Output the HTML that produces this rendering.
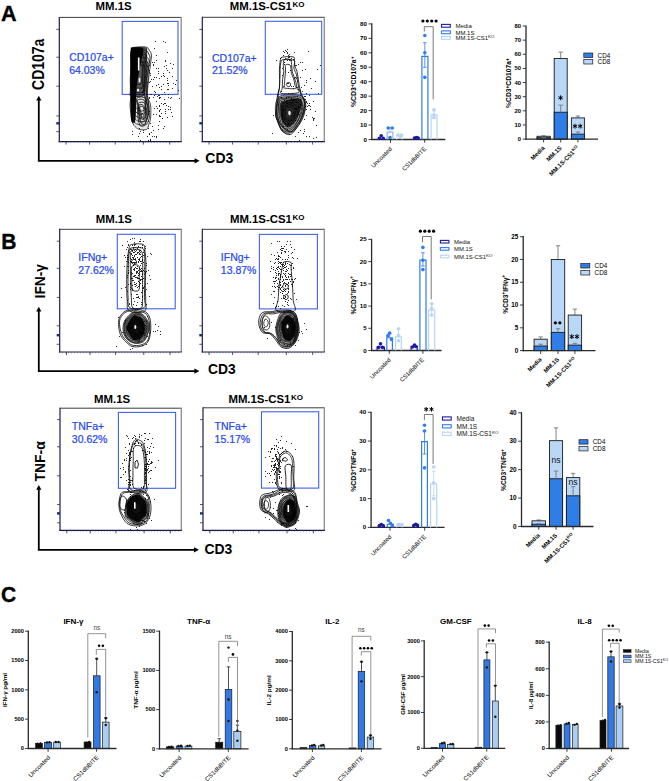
<!DOCTYPE html>
<html><head><meta charset="utf-8"><title>Figure</title>
<style>
html,body{margin:0;padding:0;background:#fff;width:669px;height:781px;overflow:hidden}
svg{display:block}
text{font-family:"Liberation Sans",sans-serif}
</style></head><body>
<svg width="669" height="781" viewBox="0 0 669 781" font-family="Liberation Sans, sans-serif">
<rect x="0" y="0" width="669" height="781" fill="#fff"/>
<text x="1.00" y="20.80" font-size="22.4" font-weight="bold" fill="#000" text-anchor="start" textLength="15.60" lengthAdjust="spacingAndGlyphs" stroke="#000" stroke-width="0.35">A</text>
<text x="1.20" y="248.80" font-size="22.3" font-weight="bold" fill="#000" text-anchor="start" textLength="15.20" lengthAdjust="spacingAndGlyphs" stroke="#000" stroke-width="0.35">B</text>
<text x="0.90" y="602.30" font-size="22.5" font-weight="bold" fill="#000" text-anchor="start" textLength="15.20" lengthAdjust="spacingAndGlyphs" stroke="#000" stroke-width="0.35">C</text>
<line x1="59.30" y1="17.40" x2="181.20" y2="17.40" stroke="#3c3c3c" stroke-width="1.0"/>
<line x1="181.20" y1="16.90" x2="181.20" y2="141.60" stroke="#8c8c8c" stroke-width="1.3"/>
<line x1="59.30" y1="16.90" x2="59.30" y2="142.20" stroke="#1c1c4c" stroke-width="1.2"/>
<line x1="58.70" y1="141.60" x2="181.80" y2="141.60" stroke="#1c1c4c" stroke-width="1.2"/>
<line x1="56.30" y1="29.40" x2="59.30" y2="29.40" stroke="#2b2b55" stroke-width="0.8"/>
<line x1="56.30" y1="57.20" x2="59.30" y2="57.20" stroke="#2b2b55" stroke-width="0.8"/>
<line x1="56.30" y1="86.20" x2="59.30" y2="86.20" stroke="#2b2b55" stroke-width="0.8"/>
<line x1="56.30" y1="115.90" x2="59.30" y2="115.90" stroke="#2b2b55" stroke-width="0.8"/>
<line x1="56.30" y1="131.60" x2="59.30" y2="131.60" stroke="#2b2b55" stroke-width="0.8"/>
<rect x="56.30" y="122.10" width="3.00" height="2.40" fill="#1a2a80" stroke="none" stroke-width="1"/>
<line x1="66.10" y1="141.60" x2="66.10" y2="144.60" stroke="#2b2b55" stroke-width="0.8"/>
<line x1="89.60" y1="141.60" x2="89.60" y2="144.60" stroke="#2b2b55" stroke-width="0.8"/>
<line x1="115.20" y1="141.60" x2="115.20" y2="144.60" stroke="#2b2b55" stroke-width="0.8"/>
<line x1="143.40" y1="141.60" x2="143.40" y2="144.60" stroke="#2b2b55" stroke-width="0.8"/>
<line x1="169.70" y1="141.60" x2="169.70" y2="144.60" stroke="#2b2b55" stroke-width="0.8"/>
<line x1="62.30" y1="141.60" x2="62.30" y2="142.90" stroke="#2b2b55" stroke-width="0.4"/>
<line x1="65.27" y1="141.60" x2="65.27" y2="142.90" stroke="#2b2b55" stroke-width="0.4"/>
<line x1="68.24" y1="141.60" x2="68.24" y2="142.90" stroke="#2b2b55" stroke-width="0.4"/>
<line x1="71.22" y1="141.60" x2="71.22" y2="142.90" stroke="#2b2b55" stroke-width="0.4"/>
<line x1="74.19" y1="141.60" x2="74.19" y2="142.90" stroke="#2b2b55" stroke-width="0.4"/>
<line x1="77.16" y1="141.60" x2="77.16" y2="142.90" stroke="#2b2b55" stroke-width="0.4"/>
<line x1="80.13" y1="141.60" x2="80.13" y2="142.90" stroke="#2b2b55" stroke-width="0.4"/>
<line x1="83.10" y1="141.60" x2="83.10" y2="142.90" stroke="#2b2b55" stroke-width="0.4"/>
<line x1="86.07" y1="141.60" x2="86.07" y2="142.90" stroke="#2b2b55" stroke-width="0.4"/>
<line x1="89.05" y1="141.60" x2="89.05" y2="142.90" stroke="#2b2b55" stroke-width="0.4"/>
<line x1="92.02" y1="141.60" x2="92.02" y2="142.90" stroke="#2b2b55" stroke-width="0.4"/>
<line x1="94.99" y1="141.60" x2="94.99" y2="142.90" stroke="#2b2b55" stroke-width="0.4"/>
<line x1="97.96" y1="141.60" x2="97.96" y2="142.90" stroke="#2b2b55" stroke-width="0.4"/>
<line x1="100.93" y1="141.60" x2="100.93" y2="142.90" stroke="#2b2b55" stroke-width="0.4"/>
<line x1="103.91" y1="141.60" x2="103.91" y2="142.90" stroke="#2b2b55" stroke-width="0.4"/>
<line x1="106.88" y1="141.60" x2="106.88" y2="142.90" stroke="#2b2b55" stroke-width="0.4"/>
<line x1="109.85" y1="141.60" x2="109.85" y2="142.90" stroke="#2b2b55" stroke-width="0.4"/>
<line x1="112.82" y1="141.60" x2="112.82" y2="142.90" stroke="#2b2b55" stroke-width="0.4"/>
<line x1="115.79" y1="141.60" x2="115.79" y2="142.90" stroke="#2b2b55" stroke-width="0.4"/>
<line x1="118.76" y1="141.60" x2="118.76" y2="142.90" stroke="#2b2b55" stroke-width="0.4"/>
<line x1="121.74" y1="141.60" x2="121.74" y2="142.90" stroke="#2b2b55" stroke-width="0.4"/>
<line x1="124.71" y1="141.60" x2="124.71" y2="142.90" stroke="#2b2b55" stroke-width="0.4"/>
<line x1="127.68" y1="141.60" x2="127.68" y2="142.90" stroke="#2b2b55" stroke-width="0.4"/>
<line x1="130.65" y1="141.60" x2="130.65" y2="142.90" stroke="#2b2b55" stroke-width="0.4"/>
<line x1="133.62" y1="141.60" x2="133.62" y2="142.90" stroke="#2b2b55" stroke-width="0.4"/>
<line x1="136.59" y1="141.60" x2="136.59" y2="142.90" stroke="#2b2b55" stroke-width="0.4"/>
<line x1="139.57" y1="141.60" x2="139.57" y2="142.90" stroke="#2b2b55" stroke-width="0.4"/>
<line x1="142.54" y1="141.60" x2="142.54" y2="142.90" stroke="#2b2b55" stroke-width="0.4"/>
<line x1="145.51" y1="141.60" x2="145.51" y2="142.90" stroke="#2b2b55" stroke-width="0.4"/>
<line x1="148.48" y1="141.60" x2="148.48" y2="142.90" stroke="#2b2b55" stroke-width="0.4"/>
<line x1="151.45" y1="141.60" x2="151.45" y2="142.90" stroke="#2b2b55" stroke-width="0.4"/>
<line x1="154.43" y1="141.60" x2="154.43" y2="142.90" stroke="#2b2b55" stroke-width="0.4"/>
<line x1="157.40" y1="141.60" x2="157.40" y2="142.90" stroke="#2b2b55" stroke-width="0.4"/>
<line x1="160.37" y1="141.60" x2="160.37" y2="142.90" stroke="#2b2b55" stroke-width="0.4"/>
<line x1="163.34" y1="141.60" x2="163.34" y2="142.90" stroke="#2b2b55" stroke-width="0.4"/>
<line x1="166.31" y1="141.60" x2="166.31" y2="142.90" stroke="#2b2b55" stroke-width="0.4"/>
<line x1="169.28" y1="141.60" x2="169.28" y2="142.90" stroke="#2b2b55" stroke-width="0.4"/>
<line x1="172.26" y1="141.60" x2="172.26" y2="142.90" stroke="#2b2b55" stroke-width="0.4"/>
<line x1="175.23" y1="141.60" x2="175.23" y2="142.90" stroke="#2b2b55" stroke-width="0.4"/>
<line x1="178.20" y1="141.60" x2="178.20" y2="142.90" stroke="#2b2b55" stroke-width="0.4"/>
<line x1="202.30" y1="17.30" x2="324.30" y2="17.30" stroke="#3c3c3c" stroke-width="1.0"/>
<line x1="324.30" y1="16.80" x2="324.30" y2="141.60" stroke="#8c8c8c" stroke-width="1.3"/>
<line x1="202.30" y1="16.80" x2="202.30" y2="142.20" stroke="#1c1c4c" stroke-width="1.2"/>
<line x1="201.70" y1="141.60" x2="324.90" y2="141.60" stroke="#1c1c4c" stroke-width="1.2"/>
<line x1="199.30" y1="29.40" x2="202.30" y2="29.40" stroke="#2b2b55" stroke-width="0.8"/>
<line x1="199.30" y1="57.20" x2="202.30" y2="57.20" stroke="#2b2b55" stroke-width="0.8"/>
<line x1="199.30" y1="86.20" x2="202.30" y2="86.20" stroke="#2b2b55" stroke-width="0.8"/>
<line x1="199.30" y1="115.90" x2="202.30" y2="115.90" stroke="#2b2b55" stroke-width="0.8"/>
<line x1="199.30" y1="131.60" x2="202.30" y2="131.60" stroke="#2b2b55" stroke-width="0.8"/>
<rect x="199.30" y="122.10" width="3.00" height="2.40" fill="#1a2a80" stroke="none" stroke-width="1"/>
<line x1="209.10" y1="141.60" x2="209.10" y2="144.60" stroke="#2b2b55" stroke-width="0.8"/>
<line x1="232.60" y1="141.60" x2="232.60" y2="144.60" stroke="#2b2b55" stroke-width="0.8"/>
<line x1="258.20" y1="141.60" x2="258.20" y2="144.60" stroke="#2b2b55" stroke-width="0.8"/>
<line x1="286.40" y1="141.60" x2="286.40" y2="144.60" stroke="#2b2b55" stroke-width="0.8"/>
<line x1="312.70" y1="141.60" x2="312.70" y2="144.60" stroke="#2b2b55" stroke-width="0.8"/>
<line x1="205.30" y1="141.60" x2="205.30" y2="142.90" stroke="#2b2b55" stroke-width="0.4"/>
<line x1="208.27" y1="141.60" x2="208.27" y2="142.90" stroke="#2b2b55" stroke-width="0.4"/>
<line x1="211.25" y1="141.60" x2="211.25" y2="142.90" stroke="#2b2b55" stroke-width="0.4"/>
<line x1="214.22" y1="141.60" x2="214.22" y2="142.90" stroke="#2b2b55" stroke-width="0.4"/>
<line x1="217.20" y1="141.60" x2="217.20" y2="142.90" stroke="#2b2b55" stroke-width="0.4"/>
<line x1="220.17" y1="141.60" x2="220.17" y2="142.90" stroke="#2b2b55" stroke-width="0.4"/>
<line x1="223.15" y1="141.60" x2="223.15" y2="142.90" stroke="#2b2b55" stroke-width="0.4"/>
<line x1="226.12" y1="141.60" x2="226.12" y2="142.90" stroke="#2b2b55" stroke-width="0.4"/>
<line x1="229.09" y1="141.60" x2="229.09" y2="142.90" stroke="#2b2b55" stroke-width="0.4"/>
<line x1="232.07" y1="141.60" x2="232.07" y2="142.90" stroke="#2b2b55" stroke-width="0.4"/>
<line x1="235.04" y1="141.60" x2="235.04" y2="142.90" stroke="#2b2b55" stroke-width="0.4"/>
<line x1="238.02" y1="141.60" x2="238.02" y2="142.90" stroke="#2b2b55" stroke-width="0.4"/>
<line x1="240.99" y1="141.60" x2="240.99" y2="142.90" stroke="#2b2b55" stroke-width="0.4"/>
<line x1="243.97" y1="141.60" x2="243.97" y2="142.90" stroke="#2b2b55" stroke-width="0.4"/>
<line x1="246.94" y1="141.60" x2="246.94" y2="142.90" stroke="#2b2b55" stroke-width="0.4"/>
<line x1="249.92" y1="141.60" x2="249.92" y2="142.90" stroke="#2b2b55" stroke-width="0.4"/>
<line x1="252.89" y1="141.60" x2="252.89" y2="142.90" stroke="#2b2b55" stroke-width="0.4"/>
<line x1="255.86" y1="141.60" x2="255.86" y2="142.90" stroke="#2b2b55" stroke-width="0.4"/>
<line x1="258.84" y1="141.60" x2="258.84" y2="142.90" stroke="#2b2b55" stroke-width="0.4"/>
<line x1="261.81" y1="141.60" x2="261.81" y2="142.90" stroke="#2b2b55" stroke-width="0.4"/>
<line x1="264.79" y1="141.60" x2="264.79" y2="142.90" stroke="#2b2b55" stroke-width="0.4"/>
<line x1="267.76" y1="141.60" x2="267.76" y2="142.90" stroke="#2b2b55" stroke-width="0.4"/>
<line x1="270.74" y1="141.60" x2="270.74" y2="142.90" stroke="#2b2b55" stroke-width="0.4"/>
<line x1="273.71" y1="141.60" x2="273.71" y2="142.90" stroke="#2b2b55" stroke-width="0.4"/>
<line x1="276.68" y1="141.60" x2="276.68" y2="142.90" stroke="#2b2b55" stroke-width="0.4"/>
<line x1="279.66" y1="141.60" x2="279.66" y2="142.90" stroke="#2b2b55" stroke-width="0.4"/>
<line x1="282.63" y1="141.60" x2="282.63" y2="142.90" stroke="#2b2b55" stroke-width="0.4"/>
<line x1="285.61" y1="141.60" x2="285.61" y2="142.90" stroke="#2b2b55" stroke-width="0.4"/>
<line x1="288.58" y1="141.60" x2="288.58" y2="142.90" stroke="#2b2b55" stroke-width="0.4"/>
<line x1="291.56" y1="141.60" x2="291.56" y2="142.90" stroke="#2b2b55" stroke-width="0.4"/>
<line x1="294.53" y1="141.60" x2="294.53" y2="142.90" stroke="#2b2b55" stroke-width="0.4"/>
<line x1="297.51" y1="141.60" x2="297.51" y2="142.90" stroke="#2b2b55" stroke-width="0.4"/>
<line x1="300.48" y1="141.60" x2="300.48" y2="142.90" stroke="#2b2b55" stroke-width="0.4"/>
<line x1="303.45" y1="141.60" x2="303.45" y2="142.90" stroke="#2b2b55" stroke-width="0.4"/>
<line x1="306.43" y1="141.60" x2="306.43" y2="142.90" stroke="#2b2b55" stroke-width="0.4"/>
<line x1="309.40" y1="141.60" x2="309.40" y2="142.90" stroke="#2b2b55" stroke-width="0.4"/>
<line x1="312.38" y1="141.60" x2="312.38" y2="142.90" stroke="#2b2b55" stroke-width="0.4"/>
<line x1="315.35" y1="141.60" x2="315.35" y2="142.90" stroke="#2b2b55" stroke-width="0.4"/>
<line x1="318.33" y1="141.60" x2="318.33" y2="142.90" stroke="#2b2b55" stroke-width="0.4"/>
<line x1="321.30" y1="141.60" x2="321.30" y2="142.90" stroke="#2b2b55" stroke-width="0.4"/>
<line x1="59.70" y1="229.30" x2="181.30" y2="229.30" stroke="#3c3c3c" stroke-width="1.0"/>
<line x1="181.30" y1="228.80" x2="181.30" y2="352.00" stroke="#8c8c8c" stroke-width="1.3"/>
<line x1="59.70" y1="228.80" x2="59.70" y2="352.60" stroke="#1c1c4c" stroke-width="1.2"/>
<line x1="59.10" y1="352.00" x2="181.90" y2="352.00" stroke="#1c1c4c" stroke-width="1.2"/>
<line x1="56.70" y1="241.20" x2="59.70" y2="241.20" stroke="#2b2b55" stroke-width="0.8"/>
<line x1="56.70" y1="268.30" x2="59.70" y2="268.30" stroke="#2b2b55" stroke-width="0.8"/>
<line x1="56.70" y1="297.40" x2="59.70" y2="297.40" stroke="#2b2b55" stroke-width="0.8"/>
<line x1="56.70" y1="325.80" x2="59.70" y2="325.80" stroke="#2b2b55" stroke-width="0.8"/>
<line x1="56.70" y1="344.30" x2="59.70" y2="344.30" stroke="#2b2b55" stroke-width="0.8"/>
<rect x="56.70" y="334.00" width="3.00" height="2.40" fill="#1a2a80" stroke="none" stroke-width="1"/>
<line x1="66.50" y1="352.00" x2="66.50" y2="355.00" stroke="#2b2b55" stroke-width="0.8"/>
<line x1="90.00" y1="352.00" x2="90.00" y2="355.00" stroke="#2b2b55" stroke-width="0.8"/>
<line x1="115.60" y1="352.00" x2="115.60" y2="355.00" stroke="#2b2b55" stroke-width="0.8"/>
<line x1="143.80" y1="352.00" x2="143.80" y2="355.00" stroke="#2b2b55" stroke-width="0.8"/>
<line x1="170.10" y1="352.00" x2="170.10" y2="355.00" stroke="#2b2b55" stroke-width="0.8"/>
<line x1="62.70" y1="352.00" x2="62.70" y2="353.30" stroke="#2b2b55" stroke-width="0.4"/>
<line x1="65.66" y1="352.00" x2="65.66" y2="353.30" stroke="#2b2b55" stroke-width="0.4"/>
<line x1="68.63" y1="352.00" x2="68.63" y2="353.30" stroke="#2b2b55" stroke-width="0.4"/>
<line x1="71.59" y1="352.00" x2="71.59" y2="353.30" stroke="#2b2b55" stroke-width="0.4"/>
<line x1="74.56" y1="352.00" x2="74.56" y2="353.30" stroke="#2b2b55" stroke-width="0.4"/>
<line x1="77.52" y1="352.00" x2="77.52" y2="353.30" stroke="#2b2b55" stroke-width="0.4"/>
<line x1="80.48" y1="352.00" x2="80.48" y2="353.30" stroke="#2b2b55" stroke-width="0.4"/>
<line x1="83.45" y1="352.00" x2="83.45" y2="353.30" stroke="#2b2b55" stroke-width="0.4"/>
<line x1="86.41" y1="352.00" x2="86.41" y2="353.30" stroke="#2b2b55" stroke-width="0.4"/>
<line x1="89.38" y1="352.00" x2="89.38" y2="353.30" stroke="#2b2b55" stroke-width="0.4"/>
<line x1="92.34" y1="352.00" x2="92.34" y2="353.30" stroke="#2b2b55" stroke-width="0.4"/>
<line x1="95.31" y1="352.00" x2="95.31" y2="353.30" stroke="#2b2b55" stroke-width="0.4"/>
<line x1="98.27" y1="352.00" x2="98.27" y2="353.30" stroke="#2b2b55" stroke-width="0.4"/>
<line x1="101.23" y1="352.00" x2="101.23" y2="353.30" stroke="#2b2b55" stroke-width="0.4"/>
<line x1="104.20" y1="352.00" x2="104.20" y2="353.30" stroke="#2b2b55" stroke-width="0.4"/>
<line x1="107.16" y1="352.00" x2="107.16" y2="353.30" stroke="#2b2b55" stroke-width="0.4"/>
<line x1="110.13" y1="352.00" x2="110.13" y2="353.30" stroke="#2b2b55" stroke-width="0.4"/>
<line x1="113.09" y1="352.00" x2="113.09" y2="353.30" stroke="#2b2b55" stroke-width="0.4"/>
<line x1="116.05" y1="352.00" x2="116.05" y2="353.30" stroke="#2b2b55" stroke-width="0.4"/>
<line x1="119.02" y1="352.00" x2="119.02" y2="353.30" stroke="#2b2b55" stroke-width="0.4"/>
<line x1="121.98" y1="352.00" x2="121.98" y2="353.30" stroke="#2b2b55" stroke-width="0.4"/>
<line x1="124.95" y1="352.00" x2="124.95" y2="353.30" stroke="#2b2b55" stroke-width="0.4"/>
<line x1="127.91" y1="352.00" x2="127.91" y2="353.30" stroke="#2b2b55" stroke-width="0.4"/>
<line x1="130.87" y1="352.00" x2="130.87" y2="353.30" stroke="#2b2b55" stroke-width="0.4"/>
<line x1="133.84" y1="352.00" x2="133.84" y2="353.30" stroke="#2b2b55" stroke-width="0.4"/>
<line x1="136.80" y1="352.00" x2="136.80" y2="353.30" stroke="#2b2b55" stroke-width="0.4"/>
<line x1="139.77" y1="352.00" x2="139.77" y2="353.30" stroke="#2b2b55" stroke-width="0.4"/>
<line x1="142.73" y1="352.00" x2="142.73" y2="353.30" stroke="#2b2b55" stroke-width="0.4"/>
<line x1="145.69" y1="352.00" x2="145.69" y2="353.30" stroke="#2b2b55" stroke-width="0.4"/>
<line x1="148.66" y1="352.00" x2="148.66" y2="353.30" stroke="#2b2b55" stroke-width="0.4"/>
<line x1="151.62" y1="352.00" x2="151.62" y2="353.30" stroke="#2b2b55" stroke-width="0.4"/>
<line x1="154.59" y1="352.00" x2="154.59" y2="353.30" stroke="#2b2b55" stroke-width="0.4"/>
<line x1="157.55" y1="352.00" x2="157.55" y2="353.30" stroke="#2b2b55" stroke-width="0.4"/>
<line x1="160.52" y1="352.00" x2="160.52" y2="353.30" stroke="#2b2b55" stroke-width="0.4"/>
<line x1="163.48" y1="352.00" x2="163.48" y2="353.30" stroke="#2b2b55" stroke-width="0.4"/>
<line x1="166.44" y1="352.00" x2="166.44" y2="353.30" stroke="#2b2b55" stroke-width="0.4"/>
<line x1="169.41" y1="352.00" x2="169.41" y2="353.30" stroke="#2b2b55" stroke-width="0.4"/>
<line x1="172.37" y1="352.00" x2="172.37" y2="353.30" stroke="#2b2b55" stroke-width="0.4"/>
<line x1="175.34" y1="352.00" x2="175.34" y2="353.30" stroke="#2b2b55" stroke-width="0.4"/>
<line x1="178.30" y1="352.00" x2="178.30" y2="353.30" stroke="#2b2b55" stroke-width="0.4"/>
<line x1="202.30" y1="229.30" x2="324.30" y2="229.30" stroke="#3c3c3c" stroke-width="1.0"/>
<line x1="324.30" y1="228.80" x2="324.30" y2="352.00" stroke="#8c8c8c" stroke-width="1.3"/>
<line x1="202.30" y1="228.80" x2="202.30" y2="352.60" stroke="#1c1c4c" stroke-width="1.2"/>
<line x1="201.70" y1="352.00" x2="324.90" y2="352.00" stroke="#1c1c4c" stroke-width="1.2"/>
<line x1="199.30" y1="241.20" x2="202.30" y2="241.20" stroke="#2b2b55" stroke-width="0.8"/>
<line x1="199.30" y1="268.30" x2="202.30" y2="268.30" stroke="#2b2b55" stroke-width="0.8"/>
<line x1="199.30" y1="297.40" x2="202.30" y2="297.40" stroke="#2b2b55" stroke-width="0.8"/>
<line x1="199.30" y1="325.80" x2="202.30" y2="325.80" stroke="#2b2b55" stroke-width="0.8"/>
<line x1="199.30" y1="344.30" x2="202.30" y2="344.30" stroke="#2b2b55" stroke-width="0.8"/>
<rect x="199.30" y="334.00" width="3.00" height="2.40" fill="#1a2a80" stroke="none" stroke-width="1"/>
<line x1="209.10" y1="352.00" x2="209.10" y2="355.00" stroke="#2b2b55" stroke-width="0.8"/>
<line x1="232.60" y1="352.00" x2="232.60" y2="355.00" stroke="#2b2b55" stroke-width="0.8"/>
<line x1="258.20" y1="352.00" x2="258.20" y2="355.00" stroke="#2b2b55" stroke-width="0.8"/>
<line x1="286.40" y1="352.00" x2="286.40" y2="355.00" stroke="#2b2b55" stroke-width="0.8"/>
<line x1="312.70" y1="352.00" x2="312.70" y2="355.00" stroke="#2b2b55" stroke-width="0.8"/>
<line x1="205.30" y1="352.00" x2="205.30" y2="353.30" stroke="#2b2b55" stroke-width="0.4"/>
<line x1="208.27" y1="352.00" x2="208.27" y2="353.30" stroke="#2b2b55" stroke-width="0.4"/>
<line x1="211.25" y1="352.00" x2="211.25" y2="353.30" stroke="#2b2b55" stroke-width="0.4"/>
<line x1="214.22" y1="352.00" x2="214.22" y2="353.30" stroke="#2b2b55" stroke-width="0.4"/>
<line x1="217.20" y1="352.00" x2="217.20" y2="353.30" stroke="#2b2b55" stroke-width="0.4"/>
<line x1="220.17" y1="352.00" x2="220.17" y2="353.30" stroke="#2b2b55" stroke-width="0.4"/>
<line x1="223.15" y1="352.00" x2="223.15" y2="353.30" stroke="#2b2b55" stroke-width="0.4"/>
<line x1="226.12" y1="352.00" x2="226.12" y2="353.30" stroke="#2b2b55" stroke-width="0.4"/>
<line x1="229.09" y1="352.00" x2="229.09" y2="353.30" stroke="#2b2b55" stroke-width="0.4"/>
<line x1="232.07" y1="352.00" x2="232.07" y2="353.30" stroke="#2b2b55" stroke-width="0.4"/>
<line x1="235.04" y1="352.00" x2="235.04" y2="353.30" stroke="#2b2b55" stroke-width="0.4"/>
<line x1="238.02" y1="352.00" x2="238.02" y2="353.30" stroke="#2b2b55" stroke-width="0.4"/>
<line x1="240.99" y1="352.00" x2="240.99" y2="353.30" stroke="#2b2b55" stroke-width="0.4"/>
<line x1="243.97" y1="352.00" x2="243.97" y2="353.30" stroke="#2b2b55" stroke-width="0.4"/>
<line x1="246.94" y1="352.00" x2="246.94" y2="353.30" stroke="#2b2b55" stroke-width="0.4"/>
<line x1="249.92" y1="352.00" x2="249.92" y2="353.30" stroke="#2b2b55" stroke-width="0.4"/>
<line x1="252.89" y1="352.00" x2="252.89" y2="353.30" stroke="#2b2b55" stroke-width="0.4"/>
<line x1="255.86" y1="352.00" x2="255.86" y2="353.30" stroke="#2b2b55" stroke-width="0.4"/>
<line x1="258.84" y1="352.00" x2="258.84" y2="353.30" stroke="#2b2b55" stroke-width="0.4"/>
<line x1="261.81" y1="352.00" x2="261.81" y2="353.30" stroke="#2b2b55" stroke-width="0.4"/>
<line x1="264.79" y1="352.00" x2="264.79" y2="353.30" stroke="#2b2b55" stroke-width="0.4"/>
<line x1="267.76" y1="352.00" x2="267.76" y2="353.30" stroke="#2b2b55" stroke-width="0.4"/>
<line x1="270.74" y1="352.00" x2="270.74" y2="353.30" stroke="#2b2b55" stroke-width="0.4"/>
<line x1="273.71" y1="352.00" x2="273.71" y2="353.30" stroke="#2b2b55" stroke-width="0.4"/>
<line x1="276.68" y1="352.00" x2="276.68" y2="353.30" stroke="#2b2b55" stroke-width="0.4"/>
<line x1="279.66" y1="352.00" x2="279.66" y2="353.30" stroke="#2b2b55" stroke-width="0.4"/>
<line x1="282.63" y1="352.00" x2="282.63" y2="353.30" stroke="#2b2b55" stroke-width="0.4"/>
<line x1="285.61" y1="352.00" x2="285.61" y2="353.30" stroke="#2b2b55" stroke-width="0.4"/>
<line x1="288.58" y1="352.00" x2="288.58" y2="353.30" stroke="#2b2b55" stroke-width="0.4"/>
<line x1="291.56" y1="352.00" x2="291.56" y2="353.30" stroke="#2b2b55" stroke-width="0.4"/>
<line x1="294.53" y1="352.00" x2="294.53" y2="353.30" stroke="#2b2b55" stroke-width="0.4"/>
<line x1="297.51" y1="352.00" x2="297.51" y2="353.30" stroke="#2b2b55" stroke-width="0.4"/>
<line x1="300.48" y1="352.00" x2="300.48" y2="353.30" stroke="#2b2b55" stroke-width="0.4"/>
<line x1="303.45" y1="352.00" x2="303.45" y2="353.30" stroke="#2b2b55" stroke-width="0.4"/>
<line x1="306.43" y1="352.00" x2="306.43" y2="353.30" stroke="#2b2b55" stroke-width="0.4"/>
<line x1="309.40" y1="352.00" x2="309.40" y2="353.30" stroke="#2b2b55" stroke-width="0.4"/>
<line x1="312.38" y1="352.00" x2="312.38" y2="353.30" stroke="#2b2b55" stroke-width="0.4"/>
<line x1="315.35" y1="352.00" x2="315.35" y2="353.30" stroke="#2b2b55" stroke-width="0.4"/>
<line x1="318.33" y1="352.00" x2="318.33" y2="353.30" stroke="#2b2b55" stroke-width="0.4"/>
<line x1="321.30" y1="352.00" x2="321.30" y2="353.30" stroke="#2b2b55" stroke-width="0.4"/>
<line x1="60.00" y1="408.20" x2="181.30" y2="408.20" stroke="#3c3c3c" stroke-width="1.0"/>
<line x1="181.30" y1="407.70" x2="181.30" y2="530.40" stroke="#8c8c8c" stroke-width="1.3"/>
<line x1="60.00" y1="407.70" x2="60.00" y2="531.00" stroke="#1c1c4c" stroke-width="1.2"/>
<line x1="59.40" y1="530.40" x2="181.90" y2="530.40" stroke="#1c1c4c" stroke-width="1.2"/>
<line x1="57.00" y1="419.60" x2="60.00" y2="419.60" stroke="#2b2b55" stroke-width="0.8"/>
<line x1="57.00" y1="446.80" x2="60.00" y2="446.80" stroke="#2b2b55" stroke-width="0.8"/>
<line x1="57.00" y1="475.80" x2="60.00" y2="475.80" stroke="#2b2b55" stroke-width="0.8"/>
<line x1="57.00" y1="504.50" x2="60.00" y2="504.50" stroke="#2b2b55" stroke-width="0.8"/>
<line x1="57.00" y1="522.80" x2="60.00" y2="522.80" stroke="#2b2b55" stroke-width="0.8"/>
<rect x="57.00" y="512.20" width="3.00" height="2.40" fill="#1a2a80" stroke="none" stroke-width="1"/>
<line x1="66.80" y1="530.40" x2="66.80" y2="533.40" stroke="#2b2b55" stroke-width="0.8"/>
<line x1="90.30" y1="530.40" x2="90.30" y2="533.40" stroke="#2b2b55" stroke-width="0.8"/>
<line x1="115.90" y1="530.40" x2="115.90" y2="533.40" stroke="#2b2b55" stroke-width="0.8"/>
<line x1="144.10" y1="530.40" x2="144.10" y2="533.40" stroke="#2b2b55" stroke-width="0.8"/>
<line x1="170.40" y1="530.40" x2="170.40" y2="533.40" stroke="#2b2b55" stroke-width="0.8"/>
<line x1="63.00" y1="530.40" x2="63.00" y2="531.70" stroke="#2b2b55" stroke-width="0.4"/>
<line x1="65.96" y1="530.40" x2="65.96" y2="531.70" stroke="#2b2b55" stroke-width="0.4"/>
<line x1="68.91" y1="530.40" x2="68.91" y2="531.70" stroke="#2b2b55" stroke-width="0.4"/>
<line x1="71.87" y1="530.40" x2="71.87" y2="531.70" stroke="#2b2b55" stroke-width="0.4"/>
<line x1="74.83" y1="530.40" x2="74.83" y2="531.70" stroke="#2b2b55" stroke-width="0.4"/>
<line x1="77.78" y1="530.40" x2="77.78" y2="531.70" stroke="#2b2b55" stroke-width="0.4"/>
<line x1="80.74" y1="530.40" x2="80.74" y2="531.70" stroke="#2b2b55" stroke-width="0.4"/>
<line x1="83.69" y1="530.40" x2="83.69" y2="531.70" stroke="#2b2b55" stroke-width="0.4"/>
<line x1="86.65" y1="530.40" x2="86.65" y2="531.70" stroke="#2b2b55" stroke-width="0.4"/>
<line x1="89.61" y1="530.40" x2="89.61" y2="531.70" stroke="#2b2b55" stroke-width="0.4"/>
<line x1="92.56" y1="530.40" x2="92.56" y2="531.70" stroke="#2b2b55" stroke-width="0.4"/>
<line x1="95.52" y1="530.40" x2="95.52" y2="531.70" stroke="#2b2b55" stroke-width="0.4"/>
<line x1="98.48" y1="530.40" x2="98.48" y2="531.70" stroke="#2b2b55" stroke-width="0.4"/>
<line x1="101.43" y1="530.40" x2="101.43" y2="531.70" stroke="#2b2b55" stroke-width="0.4"/>
<line x1="104.39" y1="530.40" x2="104.39" y2="531.70" stroke="#2b2b55" stroke-width="0.4"/>
<line x1="107.35" y1="530.40" x2="107.35" y2="531.70" stroke="#2b2b55" stroke-width="0.4"/>
<line x1="110.30" y1="530.40" x2="110.30" y2="531.70" stroke="#2b2b55" stroke-width="0.4"/>
<line x1="113.26" y1="530.40" x2="113.26" y2="531.70" stroke="#2b2b55" stroke-width="0.4"/>
<line x1="116.22" y1="530.40" x2="116.22" y2="531.70" stroke="#2b2b55" stroke-width="0.4"/>
<line x1="119.17" y1="530.40" x2="119.17" y2="531.70" stroke="#2b2b55" stroke-width="0.4"/>
<line x1="122.13" y1="530.40" x2="122.13" y2="531.70" stroke="#2b2b55" stroke-width="0.4"/>
<line x1="125.08" y1="530.40" x2="125.08" y2="531.70" stroke="#2b2b55" stroke-width="0.4"/>
<line x1="128.04" y1="530.40" x2="128.04" y2="531.70" stroke="#2b2b55" stroke-width="0.4"/>
<line x1="131.00" y1="530.40" x2="131.00" y2="531.70" stroke="#2b2b55" stroke-width="0.4"/>
<line x1="133.95" y1="530.40" x2="133.95" y2="531.70" stroke="#2b2b55" stroke-width="0.4"/>
<line x1="136.91" y1="530.40" x2="136.91" y2="531.70" stroke="#2b2b55" stroke-width="0.4"/>
<line x1="139.87" y1="530.40" x2="139.87" y2="531.70" stroke="#2b2b55" stroke-width="0.4"/>
<line x1="142.82" y1="530.40" x2="142.82" y2="531.70" stroke="#2b2b55" stroke-width="0.4"/>
<line x1="145.78" y1="530.40" x2="145.78" y2="531.70" stroke="#2b2b55" stroke-width="0.4"/>
<line x1="148.74" y1="530.40" x2="148.74" y2="531.70" stroke="#2b2b55" stroke-width="0.4"/>
<line x1="151.69" y1="530.40" x2="151.69" y2="531.70" stroke="#2b2b55" stroke-width="0.4"/>
<line x1="154.65" y1="530.40" x2="154.65" y2="531.70" stroke="#2b2b55" stroke-width="0.4"/>
<line x1="157.61" y1="530.40" x2="157.61" y2="531.70" stroke="#2b2b55" stroke-width="0.4"/>
<line x1="160.56" y1="530.40" x2="160.56" y2="531.70" stroke="#2b2b55" stroke-width="0.4"/>
<line x1="163.52" y1="530.40" x2="163.52" y2="531.70" stroke="#2b2b55" stroke-width="0.4"/>
<line x1="166.47" y1="530.40" x2="166.47" y2="531.70" stroke="#2b2b55" stroke-width="0.4"/>
<line x1="169.43" y1="530.40" x2="169.43" y2="531.70" stroke="#2b2b55" stroke-width="0.4"/>
<line x1="172.39" y1="530.40" x2="172.39" y2="531.70" stroke="#2b2b55" stroke-width="0.4"/>
<line x1="175.34" y1="530.40" x2="175.34" y2="531.70" stroke="#2b2b55" stroke-width="0.4"/>
<line x1="178.30" y1="530.40" x2="178.30" y2="531.70" stroke="#2b2b55" stroke-width="0.4"/>
<line x1="203.00" y1="407.80" x2="324.30" y2="407.80" stroke="#3c3c3c" stroke-width="1.0"/>
<line x1="324.30" y1="407.30" x2="324.30" y2="530.40" stroke="#8c8c8c" stroke-width="1.3"/>
<line x1="203.00" y1="407.30" x2="203.00" y2="531.00" stroke="#1c1c4c" stroke-width="1.2"/>
<line x1="202.40" y1="530.40" x2="324.90" y2="530.40" stroke="#1c1c4c" stroke-width="1.2"/>
<line x1="200.00" y1="419.60" x2="203.00" y2="419.60" stroke="#2b2b55" stroke-width="0.8"/>
<line x1="200.00" y1="446.80" x2="203.00" y2="446.80" stroke="#2b2b55" stroke-width="0.8"/>
<line x1="200.00" y1="475.80" x2="203.00" y2="475.80" stroke="#2b2b55" stroke-width="0.8"/>
<line x1="200.00" y1="504.50" x2="203.00" y2="504.50" stroke="#2b2b55" stroke-width="0.8"/>
<line x1="200.00" y1="522.80" x2="203.00" y2="522.80" stroke="#2b2b55" stroke-width="0.8"/>
<rect x="200.00" y="512.20" width="3.00" height="2.40" fill="#1a2a80" stroke="none" stroke-width="1"/>
<line x1="209.80" y1="530.40" x2="209.80" y2="533.40" stroke="#2b2b55" stroke-width="0.8"/>
<line x1="233.30" y1="530.40" x2="233.30" y2="533.40" stroke="#2b2b55" stroke-width="0.8"/>
<line x1="258.90" y1="530.40" x2="258.90" y2="533.40" stroke="#2b2b55" stroke-width="0.8"/>
<line x1="287.10" y1="530.40" x2="287.10" y2="533.40" stroke="#2b2b55" stroke-width="0.8"/>
<line x1="313.40" y1="530.40" x2="313.40" y2="533.40" stroke="#2b2b55" stroke-width="0.8"/>
<line x1="206.00" y1="530.40" x2="206.00" y2="531.70" stroke="#2b2b55" stroke-width="0.4"/>
<line x1="208.96" y1="530.40" x2="208.96" y2="531.70" stroke="#2b2b55" stroke-width="0.4"/>
<line x1="211.91" y1="530.40" x2="211.91" y2="531.70" stroke="#2b2b55" stroke-width="0.4"/>
<line x1="214.87" y1="530.40" x2="214.87" y2="531.70" stroke="#2b2b55" stroke-width="0.4"/>
<line x1="217.83" y1="530.40" x2="217.83" y2="531.70" stroke="#2b2b55" stroke-width="0.4"/>
<line x1="220.78" y1="530.40" x2="220.78" y2="531.70" stroke="#2b2b55" stroke-width="0.4"/>
<line x1="223.74" y1="530.40" x2="223.74" y2="531.70" stroke="#2b2b55" stroke-width="0.4"/>
<line x1="226.69" y1="530.40" x2="226.69" y2="531.70" stroke="#2b2b55" stroke-width="0.4"/>
<line x1="229.65" y1="530.40" x2="229.65" y2="531.70" stroke="#2b2b55" stroke-width="0.4"/>
<line x1="232.61" y1="530.40" x2="232.61" y2="531.70" stroke="#2b2b55" stroke-width="0.4"/>
<line x1="235.56" y1="530.40" x2="235.56" y2="531.70" stroke="#2b2b55" stroke-width="0.4"/>
<line x1="238.52" y1="530.40" x2="238.52" y2="531.70" stroke="#2b2b55" stroke-width="0.4"/>
<line x1="241.48" y1="530.40" x2="241.48" y2="531.70" stroke="#2b2b55" stroke-width="0.4"/>
<line x1="244.43" y1="530.40" x2="244.43" y2="531.70" stroke="#2b2b55" stroke-width="0.4"/>
<line x1="247.39" y1="530.40" x2="247.39" y2="531.70" stroke="#2b2b55" stroke-width="0.4"/>
<line x1="250.35" y1="530.40" x2="250.35" y2="531.70" stroke="#2b2b55" stroke-width="0.4"/>
<line x1="253.30" y1="530.40" x2="253.30" y2="531.70" stroke="#2b2b55" stroke-width="0.4"/>
<line x1="256.26" y1="530.40" x2="256.26" y2="531.70" stroke="#2b2b55" stroke-width="0.4"/>
<line x1="259.22" y1="530.40" x2="259.22" y2="531.70" stroke="#2b2b55" stroke-width="0.4"/>
<line x1="262.17" y1="530.40" x2="262.17" y2="531.70" stroke="#2b2b55" stroke-width="0.4"/>
<line x1="265.13" y1="530.40" x2="265.13" y2="531.70" stroke="#2b2b55" stroke-width="0.4"/>
<line x1="268.08" y1="530.40" x2="268.08" y2="531.70" stroke="#2b2b55" stroke-width="0.4"/>
<line x1="271.04" y1="530.40" x2="271.04" y2="531.70" stroke="#2b2b55" stroke-width="0.4"/>
<line x1="274.00" y1="530.40" x2="274.00" y2="531.70" stroke="#2b2b55" stroke-width="0.4"/>
<line x1="276.95" y1="530.40" x2="276.95" y2="531.70" stroke="#2b2b55" stroke-width="0.4"/>
<line x1="279.91" y1="530.40" x2="279.91" y2="531.70" stroke="#2b2b55" stroke-width="0.4"/>
<line x1="282.87" y1="530.40" x2="282.87" y2="531.70" stroke="#2b2b55" stroke-width="0.4"/>
<line x1="285.82" y1="530.40" x2="285.82" y2="531.70" stroke="#2b2b55" stroke-width="0.4"/>
<line x1="288.78" y1="530.40" x2="288.78" y2="531.70" stroke="#2b2b55" stroke-width="0.4"/>
<line x1="291.74" y1="530.40" x2="291.74" y2="531.70" stroke="#2b2b55" stroke-width="0.4"/>
<line x1="294.69" y1="530.40" x2="294.69" y2="531.70" stroke="#2b2b55" stroke-width="0.4"/>
<line x1="297.65" y1="530.40" x2="297.65" y2="531.70" stroke="#2b2b55" stroke-width="0.4"/>
<line x1="300.61" y1="530.40" x2="300.61" y2="531.70" stroke="#2b2b55" stroke-width="0.4"/>
<line x1="303.56" y1="530.40" x2="303.56" y2="531.70" stroke="#2b2b55" stroke-width="0.4"/>
<line x1="306.52" y1="530.40" x2="306.52" y2="531.70" stroke="#2b2b55" stroke-width="0.4"/>
<line x1="309.47" y1="530.40" x2="309.47" y2="531.70" stroke="#2b2b55" stroke-width="0.4"/>
<line x1="312.43" y1="530.40" x2="312.43" y2="531.70" stroke="#2b2b55" stroke-width="0.4"/>
<line x1="315.39" y1="530.40" x2="315.39" y2="531.70" stroke="#2b2b55" stroke-width="0.4"/>
<line x1="318.34" y1="530.40" x2="318.34" y2="531.70" stroke="#2b2b55" stroke-width="0.4"/>
<line x1="321.30" y1="530.40" x2="321.30" y2="531.70" stroke="#2b2b55" stroke-width="0.4"/>
<rect x="122.20" y="21.40" width="55.80" height="73.00" fill="none" stroke="#3f62f0" stroke-width="1.1"/>
<rect x="265.30" y="21.30" width="56.40" height="73.00" fill="none" stroke="#3f62f0" stroke-width="1.1"/>
<rect x="117.30" y="234.30" width="57.90" height="74.50" fill="none" stroke="#3f62f0" stroke-width="1.1"/>
<rect x="259.40" y="234.40" width="58.00" height="74.50" fill="none" stroke="#3f62f0" stroke-width="1.1"/>
<rect x="118.40" y="412.40" width="57.20" height="75.90" fill="none" stroke="#3f62f0" stroke-width="1.1"/>
<rect x="261.50" y="411.80" width="57.20" height="76.30" fill="none" stroke="#3f62f0" stroke-width="1.1"/>
<text x="95.50" y="10.10" font-size="11.4" font-weight="bold" fill="#000" text-anchor="start">MM.1S</text>
<text x="229.80" y="10.20" font-size="11.4" font-weight="bold">MM.1S-CS1<tspan font-size="8" dy="-3.3" dx="0.6">KO</tspan></text>
<text x="95.70" y="222.90" font-size="11.4" font-weight="bold" fill="#000" text-anchor="start">MM.1S</text>
<text x="229.90" y="222.90" font-size="11.4" font-weight="bold">MM.1S-CS1<tspan font-size="8" dy="-3.3" dx="0.6">KO</tspan></text>
<text x="94.00" y="402.90" font-size="11.4" font-weight="bold" fill="#000" text-anchor="start">MM.1S</text>
<text x="228.40" y="402.90" font-size="11.4" font-weight="bold">MM.1S-CS1<tspan font-size="8" dy="-3.3" dx="0.6">KO</tspan></text>
<text x="43.90" y="64.25" font-size="15.6" font-weight="bold" fill="#000" text-anchor="middle" transform="rotate(-90 43.90 64.25)" textLength="51.30" lengthAdjust="spacingAndGlyphs">CD107a</text>
<text x="45.20" y="281.30" font-size="14.8" font-weight="bold" fill="#000" text-anchor="middle" transform="rotate(-90 45.20 281.30)" textLength="34.20" lengthAdjust="spacingAndGlyphs">IFN-γ</text>
<text x="45.00" y="461.30" font-size="14.4" font-weight="bold" fill="#000" text-anchor="middle" transform="rotate(-90 45.00 461.30)" textLength="40.20" lengthAdjust="spacingAndGlyphs">TNF-α</text>
<line x1="38.80" y1="160.80" x2="38.80" y2="99.70" stroke="#000" stroke-width="1.8"/>
<polygon points="36.20,100.50 41.40,100.50 38.80,95.70" fill="#000"/>
<line x1="37.90" y1="160.80" x2="195.60" y2="160.80" stroke="#000" stroke-width="1.8"/>
<polygon points="194.60,158.20 194.60,163.40 199.60,160.80" fill="#000"/>
<line x1="38.80" y1="371.10" x2="38.80" y2="310.70" stroke="#000" stroke-width="1.8"/>
<polygon points="36.20,311.50 41.40,311.50 38.80,306.70" fill="#000"/>
<line x1="37.90" y1="371.10" x2="195.40" y2="371.10" stroke="#000" stroke-width="1.8"/>
<polygon points="194.40,368.50 194.40,373.70 199.40,371.10" fill="#000"/>
<line x1="38.80" y1="549.80" x2="38.80" y2="489.00" stroke="#000" stroke-width="1.8"/>
<polygon points="36.20,489.80 41.40,489.80 38.80,485.00" fill="#000"/>
<line x1="37.90" y1="549.80" x2="195.00" y2="549.80" stroke="#000" stroke-width="1.8"/>
<polygon points="194.00,547.20 194.00,552.40 199.00,549.80" fill="#000"/>
<text x="205.30" y="163.10" font-size="14.2" font-weight="bold" fill="#000" text-anchor="start" textLength="28.00" lengthAdjust="spacingAndGlyphs">CD3</text>
<text x="208.00" y="374.00" font-size="14.2" font-weight="bold" fill="#000" text-anchor="start" textLength="27.60" lengthAdjust="spacingAndGlyphs">CD3</text>
<text x="204.50" y="554.00" font-size="14.2" font-weight="bold" fill="#000" text-anchor="start" textLength="27.80" lengthAdjust="spacingAndGlyphs">CD3</text>
<text x="69.20" y="60.80" font-size="10.5" fill="#2648ee" text-anchor="start" stroke="#2648ee" stroke-width="0.22">CD107a+</text>
<text x="69.20" y="73.60" font-size="10.5" fill="#2648ee" text-anchor="start" stroke="#2648ee" stroke-width="0.22">64.03%</text>
<text x="212.00" y="61.60" font-size="10.5" fill="#2648ee" text-anchor="start" stroke="#2648ee" stroke-width="0.22">CD107a+</text>
<text x="212.00" y="74.40" font-size="10.5" fill="#2648ee" text-anchor="start" stroke="#2648ee" stroke-width="0.22">21.52%</text>
<text x="78.30" y="260.50" font-size="10.5" fill="#2648ee" text-anchor="start" stroke="#2648ee" stroke-width="0.22">IFNg+</text>
<text x="78.30" y="273.80" font-size="10.5" fill="#2648ee" text-anchor="start" stroke="#2648ee" stroke-width="0.22">27.62%</text>
<text x="220.80" y="260.50" font-size="10.5" fill="#2648ee" text-anchor="start" stroke="#2648ee" stroke-width="0.22">IFNg+</text>
<text x="220.80" y="273.80" font-size="10.5" fill="#2648ee" text-anchor="start" stroke="#2648ee" stroke-width="0.22">13.87%</text>
<text x="71.80" y="429.60" font-size="10.5" fill="#2648ee" text-anchor="start" stroke="#2648ee" stroke-width="0.22">TNFa+</text>
<text x="71.80" y="443.00" font-size="10.5" fill="#2648ee" text-anchor="start" stroke="#2648ee" stroke-width="0.22">30.62%</text>
<text x="214.60" y="429.60" font-size="10.5" fill="#2648ee" text-anchor="start" stroke="#2648ee" stroke-width="0.22">TNFa+</text>
<text x="214.60" y="443.00" font-size="10.5" fill="#2648ee" text-anchor="start" stroke="#2648ee" stroke-width="0.22">15.17%</text>
<path d="M145 101h1v1h-1zM167 80h1v1h-1zM144 90h1v1h-1zM162 118h1v1h-1zM145 61h1v1h-1zM164 103h1v1h-1zM172 116h1v1h-1zM156 85h1v1h-1zM149 65h1v1h-1zM158 95h1v1h-1zM154 91h1v1h-1zM160 109h1v1h-1zM168 97h1v1h-1zM143 88h1v1h-1zM142 92h1v1h-1zM149 97h1v1h-1zM165 60h1v1h-1zM154 108h1v1h-1zM156 101h1v1h-1zM158 68h1v1h-1zM163 73h1v1h-1zM176 80h1v1h-1zM164 92h1v1h-1zM167 78h1v1h-1zM167 89h1v1h-1zM170 107h1v1h-1zM158 73h1v1h-1zM165 103h1v1h-1zM173 83h1v1h-1zM163 104h1v1h-1zM160 97h1v1h-1zM159 78h1v1h-1zM147 82h1v1h-1zM163 128h1v1h-1zM167 117h1v1h-1zM165 109h1v1h-1zM159 111h1v1h-1zM175 84h1v1h-1zM150 139h1v1h-1zM159 115h1v1h-1zM166 65h1v1h-1zM159 110h1v1h-1zM158 71h1v1h-1zM156 101h1v1h-1zM168 109h1v1h-1zM158 125h1v1h-1zM149 111h1v1h-1zM168 85h1v1h-1zM159 105h1v1h-1zM172 68h1v1h-1zM157 108h1v1h-1zM167 70h1v1h-1zM153 97h1v1h-1zM158 129h1v1h-1zM156 137h1v1h-1zM150 81h1v1h-1zM164 126h1v1h-1zM164 99h1v1h-1zM151 79h1v1h-1zM163 84h1v1h-1zM165 94h1v1h-1zM154 95h1v1h-1zM161 113h1v1h-1zM152 86h1v1h-1zM143 130h1v1h-1zM172 88h1v1h-1zM152 62h1v1h-1zM159 97h1v1h-1zM179 98h1v1h-1zM171 97h1v1h-1zM168 106h1v1h-1zM155 41h1v1h-1zM156 55h1v1h-1zM163 41h1v1h-1zM148 121h1v1h-1zM173 64h1v1h-1zM142 113h1v1h-1zM166 68h1v1h-1zM150 75h1v1h-1zM145 76h1v1h-1zM170 109h1v1h-1zM178 90h1v1h-1zM156 68h1v1h-1zM156 60h1v1h-1zM171 112h1v1h-1zM170 98h1v1h-1zM150 94h1v1h-1zM153 65h1v1h-1zM157 96h1v1h-1zM152 126h1v1h-1zM159 106h1v1h-1zM169 72h1v1h-1zM150 123h1v1h-1zM160 116h1v1h-1zM165 42h1v1h-1zM164 76h1v1h-1zM149 82h1v1h-1zM165 113h1v1h-1zM167 52h1v1h-1zM156 106h1v1h-1zM149 98h1v1h-1zM159 116h1v1h-1zM149 72h1v1h-1zM149 134h1v1h-1zM168 89h1v1h-1zM159 95h1v1h-1zM159 87h1v1h-1zM154 62h1v1h-1zM151 132h1v1h-1zM162 94h1v1h-1zM155 94h1v1h-1zM161 76h1v1h-1zM159 98h1v1h-1zM150 73h1v1h-1zM147 66h1v1h-1zM154 77h1v1h-1zM151 94h1v1h-1zM168 94h1v1h-1zM156 77h1v1h-1zM156 114h1v1h-1zM153 64h1v1h-1zM144 65h1v1h-1zM143 118h1v1h-1zM161 86h1v1h-1zM172 76h1v1h-1zM165 111h1v1h-1zM142 55h1v1h-1zM148 114h1v1h-1zM170 63h1v1h-1zM167 83h1v1h-1zM153 79h1v1h-1zM154 48h1v1h-1zM147 62h1v1h-1zM148 140h1v1h-1zM163 75h1v1h-1zM166 105h1v1h-1zM155 92h1v1h-1zM158 84h1v1h-1zM159 78h1v1h-1zM148 128h1v1h-1zM161 103h1v1h-1zM141 88h1v1h-1zM165 61h1v1h-1zM168 83h1v1h-1zM161 89h1v1h-1zM159 121h1v1h-1zM153 130h1v1h-1zM149 70h1v1h-1zM164 66h1v1h-1zM153 114h1v1h-1z" fill="#2a2a2a"/>
<path d="M132 134h1v1h-1zM140 131h1v1h-1zM149 133h1v1h-1zM140 140h1v1h-1zM139 128h1v1h-1zM132 131h1v1h-1zM147 136h1v1h-1zM150 140h1v1h-1zM154 136h1v1h-1zM152 136h1v1h-1zM138 136h1v1h-1zM143 132h1v1h-1zM156 136h1v1h-1zM139 133h1v1h-1z" fill="#2a2a2a"/>
<path d="M146.00 47.00C148.83 47.50 148.13 48.67 149.00 50.00C149.87 51.33 151.03 52.50 151.20 55.00C151.37 57.50 150.37 60.83 150.00 65.00C149.63 69.17 149.33 75.00 149.00 80.00C148.67 85.00 147.83 90.83 148.00 95.00C148.17 99.17 149.50 101.67 150.00 105.00C150.50 108.33 150.92 112.33 151.00 115.00C151.08 117.67 150.83 119.33 150.50 121.00C150.17 122.67 149.67 123.70 149.00 125.00C148.33 126.30 148.08 128.17 146.50 128.80C144.92 129.43 141.58 129.43 139.50 128.80C137.42 128.17 135.33 126.30 134.00 125.00C132.67 123.70 132.03 122.67 131.50 121.00C130.97 119.33 130.95 117.67 130.80 115.00C130.65 112.33 130.63 108.33 130.60 105.00C130.57 101.67 130.60 99.17 130.60 95.00C130.60 90.83 130.60 85.00 130.60 80.00C130.60 75.00 130.60 69.17 130.60 65.00C130.60 60.83 130.53 57.50 130.60 55.00C130.67 52.50 130.77 51.33 131.00 50.00C131.23 48.67 129.50 47.50 132.00 47.00C134.50 46.50 143.17 46.50 146.00 47.00Z" fill="#000" fill-opacity="0.1"/>
<path d="M145.57 46.95C148.45 47.39 148.34 48.92 149.32 50.25C150.31 51.58 151.31 52.45 151.48 54.92C151.65 57.39 150.86 60.87 150.36 65.04C149.86 69.21 148.98 74.87 148.50 79.95C148.01 85.03 147.12 91.38 147.46 95.52C147.80 99.66 149.98 101.50 150.54 104.80C151.09 108.10 150.84 112.69 150.77 115.32C150.71 117.96 150.50 119.03 150.14 120.61C149.79 122.20 149.21 123.36 148.63 124.82C148.04 126.27 148.23 128.60 146.65 129.36C145.07 130.11 141.25 129.99 139.15 129.35C137.06 128.70 135.28 126.94 134.07 125.48C132.85 124.02 132.40 122.41 131.88 120.59C131.37 118.77 131.29 117.17 130.98 114.55C130.67 111.93 130.02 108.12 130.01 104.87C130.00 101.63 130.89 99.16 130.93 95.08C130.97 91.00 130.20 85.48 130.23 80.41C130.26 75.34 131.05 68.89 131.10 64.68C131.15 60.48 130.47 57.69 130.54 55.17C130.60 52.64 131.23 50.82 131.48 49.55C131.74 48.28 129.72 48.00 132.06 47.56C134.41 47.13 142.70 46.50 145.57 46.95Z" fill="none" stroke="#111" stroke-width="0.75"/>
<path d="M145.47 50.32C148.21 50.96 147.89 52.62 148.66 53.93C149.42 55.24 150.06 56.03 150.06 58.17C150.06 60.30 149.04 62.94 148.67 66.74C148.30 70.53 148.15 76.25 147.85 80.95C147.54 85.65 146.74 91.24 146.84 94.94C146.95 98.63 148.06 100.11 148.49 103.10C148.92 106.10 149.29 110.41 149.43 112.89C149.56 115.38 149.56 116.51 149.30 118.00C149.05 119.49 148.49 120.70 147.89 121.83C147.29 122.97 147.13 124.27 145.71 124.78C144.29 125.29 141.33 125.35 139.37 124.89C137.42 124.44 135.15 123.17 133.98 122.06C132.82 120.95 132.72 119.83 132.39 118.23C132.06 116.63 132.19 114.92 132.00 112.44C131.80 109.97 131.34 106.36 131.21 103.38C131.09 100.40 131.32 98.36 131.24 94.57C131.17 90.79 130.74 85.29 130.76 80.68C130.79 76.06 131.40 70.63 131.40 66.88C131.40 63.14 130.83 60.45 130.78 58.22C130.74 55.98 130.89 54.84 131.13 53.50C131.37 52.15 129.82 50.66 132.21 50.13C134.60 49.60 142.73 49.69 145.47 50.32Z" fill="none" stroke="#111" stroke-width="0.75"/>
<path d="M144.32 54.52C146.56 54.98 146.00 56.05 146.80 57.10C147.61 58.14 148.91 58.78 149.13 60.80C149.36 62.82 148.57 65.77 148.16 69.22C147.75 72.67 146.92 77.39 146.65 81.48C146.38 85.57 146.22 90.31 146.52 93.76C146.83 97.22 148.11 99.55 148.48 102.22C148.84 104.90 148.77 107.61 148.69 109.81C148.61 112.01 148.19 113.99 147.98 115.43C147.77 116.88 147.91 117.47 147.43 118.47C146.94 119.48 146.47 120.95 145.08 121.46C143.69 121.96 140.84 121.99 139.08 121.49C137.31 121.00 135.49 119.52 134.47 118.49C133.46 117.45 133.42 116.74 133.01 115.26C132.59 113.79 132.15 111.83 131.97 109.65C131.79 107.47 131.89 104.77 131.91 102.17C131.94 99.56 132.10 97.51 132.12 94.04C132.14 90.56 131.95 85.53 132.03 81.32C132.11 77.10 132.65 72.12 132.60 68.74C132.56 65.36 131.76 63.04 131.76 61.05C131.76 59.05 132.34 57.88 132.60 56.76C132.86 55.64 131.38 54.68 133.33 54.31C135.28 53.94 142.07 54.05 144.32 54.52Z" fill="none" stroke="#111" stroke-width="0.75"/>
<path d="M144.68 58.02C146.84 58.43 146.08 59.64 146.56 60.54C147.04 61.44 147.47 61.70 147.56 63.40C147.66 65.11 147.39 67.55 147.15 70.76C146.92 73.96 146.35 78.98 146.16 82.63C145.97 86.28 145.95 89.74 146.02 92.65C146.08 95.56 146.17 97.66 146.53 100.08C146.88 102.49 148.06 105.22 148.15 107.14C148.24 109.06 147.45 110.30 147.07 111.62C146.68 112.94 146.35 114.03 145.85 115.04C145.36 116.05 145.13 117.17 144.10 117.68C143.06 118.18 141.12 118.44 139.64 118.05C138.17 117.66 136.25 116.28 135.25 115.35C134.24 114.43 134.03 113.78 133.61 112.48C133.19 111.18 132.82 109.48 132.71 107.55C132.60 105.63 132.91 103.36 132.96 100.95C133.01 98.53 133.08 96.25 133.01 93.08C132.94 89.91 132.65 85.45 132.57 81.90C132.49 78.35 132.40 74.71 132.53 71.79C132.65 68.87 133.22 66.26 133.33 64.38C133.44 62.50 133.14 61.57 133.19 60.51C133.25 59.45 131.73 58.46 133.65 58.05C135.56 57.63 142.53 57.60 144.68 58.02Z" fill="none" stroke="#111" stroke-width="0.75"/>
<path d="M144.03 62.21C145.81 62.37 145.25 62.53 145.68 63.35C146.11 64.17 146.48 65.58 146.60 67.14C146.73 68.69 146.68 70.00 146.41 72.70C146.14 75.40 145.35 80.03 145.00 83.35C144.65 86.68 144.16 90.05 144.30 92.67C144.44 95.28 145.37 96.94 145.84 99.05C146.30 101.17 147.05 103.74 147.11 105.38C147.18 107.02 146.49 107.83 146.23 108.91C145.97 109.98 145.97 110.97 145.55 111.83C145.12 112.69 144.72 113.74 143.69 114.07C142.66 114.40 140.74 114.21 139.36 113.82C137.98 113.44 136.36 112.53 135.42 111.76C134.48 111.00 133.94 110.25 133.72 109.24C133.50 108.22 134.18 107.42 134.11 105.67C134.05 103.93 133.32 101.01 133.33 98.78C133.33 96.55 133.98 95.01 134.13 92.30C134.28 89.59 134.23 85.78 134.21 82.52C134.20 79.26 134.10 75.27 134.03 72.73C133.97 70.18 133.84 68.73 133.83 67.25C133.81 65.77 133.74 64.65 133.94 63.84C134.14 63.02 133.33 62.63 135.02 62.36C136.70 62.08 142.25 62.04 144.03 62.21Z" fill="none" stroke="#111" stroke-width="0.75"/>
<path d="M143.30 65.27C144.92 65.62 144.49 66.82 144.85 67.64C145.21 68.46 145.48 68.95 145.48 70.17C145.49 71.39 145.05 72.66 144.85 74.95C144.66 77.23 144.54 81.05 144.32 83.90C144.10 86.75 143.43 89.87 143.53 92.04C143.62 94.22 144.54 95.17 144.87 96.95C145.20 98.73 145.45 101.10 145.52 102.71C145.58 104.32 145.36 105.72 145.28 106.61C145.19 107.49 145.27 107.36 145.00 108.02C144.74 108.68 144.57 110.11 143.71 110.57C142.85 111.04 141.06 111.24 139.83 110.82C138.59 110.40 137.02 108.73 136.28 108.05C135.54 107.37 135.66 107.69 135.39 106.75C135.12 105.81 134.74 103.90 134.64 102.39C134.54 100.88 134.74 99.33 134.77 97.67C134.80 96.01 134.81 94.72 134.84 92.42C134.87 90.12 135.05 86.72 134.95 83.88C134.85 81.04 134.35 77.68 134.25 75.39C134.16 73.10 134.30 71.48 134.39 70.16C134.47 68.85 134.62 68.26 134.75 67.49C134.88 66.72 133.74 65.93 135.17 65.56C136.59 65.19 141.69 64.92 143.30 65.27Z" fill="none" stroke="#111" stroke-width="0.75"/>
<path d="M145.00 48.00C147.42 48.67 146.83 48.33 147.00 52.00C147.17 55.67 146.33 63.67 146.00 70.00C145.67 76.33 145.50 85.67 145.00 90.00C144.50 94.33 145.33 95.00 143.00 96.00C140.67 97.00 133.03 97.00 131.00 96.00C128.97 95.00 130.83 94.33 130.80 90.00C130.77 85.67 130.77 76.33 130.80 70.00C130.83 63.67 130.72 55.67 131.00 52.00C131.28 48.33 130.17 48.67 132.50 48.00C134.83 47.33 142.58 47.33 145.00 48.00Z" fill="#000" fill-opacity="0.62"/>
<path d="M145.10 47.84C147.47 48.42 146.30 48.17 146.50 51.85C146.71 55.53 146.56 63.62 146.32 69.92C146.09 76.23 145.65 85.34 145.08 89.66C144.51 93.99 145.33 94.85 142.93 95.87C140.52 96.88 132.73 96.66 130.64 95.75C128.55 94.83 130.37 94.66 130.39 90.37C130.42 86.08 130.66 76.38 130.80 70.02C130.95 63.65 131.02 55.80 131.27 52.19C131.52 48.59 129.99 49.11 132.30 48.39C134.60 47.66 142.73 47.27 145.10 47.84Z" fill="none" stroke="#111" stroke-width="0.8"/>
<path d="M143.73 52.30C145.80 52.80 145.38 52.26 145.49 55.29C145.61 58.33 144.72 65.14 144.40 70.50C144.09 75.86 144.00 83.81 143.59 87.47C143.17 91.13 143.88 91.72 141.91 92.46C139.94 93.21 133.40 92.78 131.76 91.95C130.12 91.11 131.96 91.08 132.05 87.45C132.15 83.82 132.30 75.44 132.34 70.14C132.39 64.85 132.18 58.66 132.30 55.69C132.42 52.72 131.19 52.88 133.09 52.32C135.00 51.75 141.67 51.80 143.73 52.30Z" fill="none" stroke="#111" stroke-width="0.8"/>
<path d="M143.13 56.04C144.74 56.42 144.07 56.28 144.05 58.64C144.04 61.00 143.27 65.98 143.02 70.20C142.77 74.43 142.80 81.06 142.56 84.00C142.33 86.94 143.07 87.24 141.61 87.84C140.15 88.44 135.18 88.33 133.80 87.61C132.43 86.89 133.50 86.42 133.36 83.53C133.21 80.64 132.84 74.41 132.92 70.29C133.00 66.18 133.57 61.17 133.81 58.85C134.06 56.52 132.83 56.83 134.39 56.36C135.94 55.89 141.52 55.66 143.13 56.04Z" fill="none" stroke="#111" stroke-width="0.8"/>
<path d="M141.03 60.47C142.12 60.83 141.96 60.78 142.19 62.49C142.43 64.21 142.56 67.69 142.45 70.76C142.33 73.83 141.86 78.64 141.52 80.90C141.18 83.15 141.52 83.81 140.41 84.29C139.29 84.77 135.82 84.27 134.83 83.76C133.83 83.24 134.50 83.38 134.44 81.19C134.39 79.00 134.50 73.82 134.49 70.62C134.49 67.42 134.19 63.71 134.39 61.99C134.59 60.28 134.57 60.58 135.67 60.32C136.78 60.07 139.94 60.11 141.03 60.47Z" fill="none" stroke="#111" stroke-width="0.8"/>
<path d="M141.00 47.50C142.78 47.92 143.42 47.92 143.50 50.00C143.58 52.08 142.33 55.83 141.50 60.00C140.67 64.17 139.33 70.00 138.50 75.00C137.67 80.00 136.92 84.17 136.50 90.00C136.08 95.83 136.25 104.75 136.00 110.00C135.75 115.25 135.75 119.58 135.00 121.50C134.25 123.42 132.23 123.42 131.50 121.50C130.77 119.58 130.75 115.25 130.60 110.00C130.45 104.75 130.60 95.83 130.60 90.00C130.60 84.17 130.60 80.00 130.60 75.00C130.60 70.00 130.53 64.17 130.60 60.00C130.67 55.83 130.63 52.08 131.00 50.00C131.37 47.92 131.13 47.92 132.80 47.50C134.47 47.08 139.22 47.08 141.00 47.50Z" fill="#000" fill-opacity="0.95"/>
<rect x="137.9" y="57.5" width="1.6" height="13" fill="#fff"/>
<ellipse cx="139.5" cy="80" rx="0.9" ry="2.5" fill="#fff"/>
<ellipse cx="138" cy="90" rx="1" ry="1.5" fill="#fff"/>
<path d="M144.45 97.64C146.18 98.87 146.59 102.89 147.25 105.57C147.91 108.25 148.57 111.16 148.43 113.72C148.29 116.28 147.05 118.98 146.41 120.93C145.78 122.88 145.55 124.58 144.60 125.42C143.65 126.26 141.73 126.62 140.73 125.95C139.74 125.29 139.13 123.38 138.63 121.42C138.14 119.47 137.98 116.89 137.76 114.24C137.54 111.59 137.46 108.19 137.32 105.52C137.18 102.85 135.73 99.54 136.92 98.22C138.11 96.91 142.73 96.42 144.45 97.64Z" fill="none" stroke="#111" stroke-width="0.85"/>
<path d="M143.99 100.07C145.33 101.19 145.04 104.41 145.59 106.71C146.15 109.02 147.23 111.72 147.33 113.91C147.42 116.10 146.63 118.13 146.15 119.84C145.67 121.55 145.26 123.59 144.45 124.16C143.64 124.74 142.11 124.07 141.29 123.29C140.48 122.52 140.00 121.17 139.57 119.51C139.13 117.85 138.88 115.48 138.69 113.33C138.51 111.18 138.65 108.83 138.47 106.60C138.28 104.37 136.65 101.05 137.57 99.96C138.49 98.87 142.66 98.94 143.99 100.07Z" fill="none" stroke="#111" stroke-width="0.85"/>
<path d="M144.34 102.72C145.46 103.52 144.95 105.72 145.27 107.59C145.59 109.45 146.26 112.10 146.26 113.91C146.27 115.73 145.75 117.23 145.29 118.50C144.82 119.76 144.19 120.99 143.47 121.48C142.75 121.97 141.53 121.94 140.97 121.44C140.41 120.95 140.38 119.78 140.11 118.50C139.84 117.23 139.55 115.63 139.33 113.79C139.10 111.96 138.88 109.33 138.75 107.50C138.63 105.67 137.65 103.61 138.58 102.81C139.51 102.01 143.23 101.93 144.34 102.72Z" fill="none" stroke="#111" stroke-width="0.85"/>
<path d="M143.05 105.24C143.94 105.92 144.29 107.26 144.68 108.58C145.08 109.90 145.37 111.78 145.41 113.14C145.46 114.50 145.22 115.69 144.96 116.75C144.69 117.81 144.41 119.18 143.81 119.51C143.20 119.83 141.78 119.25 141.30 118.69C140.82 118.13 141.15 117.00 140.94 116.15C140.73 115.31 140.26 114.87 140.02 113.61C139.78 112.36 139.63 110.16 139.51 108.64C139.39 107.11 138.71 105.03 139.30 104.47C139.89 103.90 142.15 104.55 143.05 105.24Z" fill="none" stroke="#111" stroke-width="0.85"/>
<path d="M142.93 106.60C143.58 107.06 143.66 108.48 143.85 109.46C144.04 110.44 144.06 111.62 144.08 112.50C144.10 113.38 144.06 114.09 143.99 114.74C143.91 115.39 144.09 115.99 143.61 116.39C143.14 116.78 141.48 117.24 141.13 117.11C140.78 116.98 141.55 116.39 141.53 115.58C141.51 114.78 141.23 113.27 140.99 112.28C140.74 111.29 140.24 110.58 140.06 109.65C139.89 108.72 139.46 107.21 139.93 106.70C140.41 106.20 142.27 106.14 142.93 106.60Z" fill="none" stroke="#111" stroke-width="0.85"/>
<path d="M304 131h1v1h-1zM287 83h1v1h-1zM299 140h1v1h-1zM300 77h1v1h-1zM287 101h1v1h-1zM306 102h1v1h-1zM291 98h1v1h-1zM297 87h1v1h-1zM295 108h1v1h-1zM313 101h1v1h-1zM306 80h1v1h-1zM305 106h1v1h-1zM290 102h1v1h-1zM305 96h1v1h-1zM306 136h1v1h-1zM313 138h1v1h-1zM282 110h1v1h-1zM288 123h1v1h-1zM296 108h1v1h-1zM300 90h1v1h-1zM296 87h1v1h-1zM318 93h1v1h-1zM296 65h1v1h-1zM279 85h1v1h-1zM304 119h1v1h-1zM298 89h1v1h-1zM315 81h1v1h-1zM286 113h1v1h-1zM285 109h1v1h-1zM306 101h1v1h-1zM300 104h1v1h-1zM282 103h1v1h-1zM278 91h1v1h-1zM298 132h1v1h-1zM281 91h1v1h-1zM298 114h1v1h-1zM287 126h1v1h-1zM293 112h1v1h-1zM313 118h1v1h-1zM297 81h1v1h-1zM288 72h1v1h-1zM317 69h1v1h-1zM309 95h1v1h-1zM304 85h1v1h-1zM289 114h1v1h-1zM300 93h1v1h-1zM313 119h1v1h-1zM297 77h1v1h-1zM297 96h1v1h-1zM295 120h1v1h-1zM289 109h1v1h-1zM304 110h1v1h-1zM320 65h1v1h-1zM295 77h1v1h-1zM277 96h1v1h-1zM302 105h1v1h-1zM305 69h1v1h-1zM306 82h1v1h-1zM282 115h1v1h-1zM301 87h1v1h-1zM286 98h1v1h-1zM295 99h1v1h-1zM284 52h1v1h-1zM310 106h1v1h-1zM282 68h1v1h-1zM288 93h1v1h-1zM272 133h1v1h-1zM300 95h1v1h-1zM299 107h1v1h-1zM307 106h1v1h-1zM309 136h1v1h-1zM292 93h1v1h-1zM286 97h1v1h-1zM287 103h1v1h-1zM299 114h1v1h-1zM283 126h1v1h-1zM292 100h1v1h-1zM290 59h1v1h-1zM298 64h1v1h-1zM307 103h1v1h-1zM312 117h1v1h-1zM303 133h1v1h-1zM295 136h1v1h-1zM294 108h1v1h-1zM288 114h1v1h-1zM302 91h1v1h-1zM281 101h1v1h-1zM300 99h1v1h-1zM284 86h1v1h-1zM289 134h1v1h-1zM281 97h1v1h-1zM314 118h1v1h-1zM305 99h1v1h-1zM298 107h1v1h-1zM313 120h1v1h-1zM296 78h1v1h-1zM293 99h1v1h-1zM288 83h1v1h-1zM284 100h1v1h-1zM289 111h1v1h-1zM306 109h1v1h-1zM295 136h1v1h-1zM302 70h1v1h-1zM287 106h1v1h-1zM285 119h1v1h-1zM276 60h1v1h-1zM306 115h1v1h-1zM278 104h1v1h-1zM310 78h1v1h-1zM282 75h1v1h-1zM284 64h1v1h-1zM290 70h1v1h-1zM284 122h1v1h-1zM308 51h1v1h-1zM296 102h1v1h-1zM291 120h1v1h-1zM290 110h1v1h-1zM291 99h1v1h-1zM294 78h1v1h-1zM316 137h1v1h-1zM293 88h1v1h-1zM287 129h1v1h-1zM291 86h1v1h-1zM304 96h1v1h-1zM304 129h1v1h-1zM300 130h1v1h-1zM293 123h1v1h-1zM306 93h1v1h-1zM281 114h1v1h-1zM294 115h1v1h-1zM288 114h1v1h-1zM315 111h1v1h-1zM311 88h1v1h-1zM308 105h1v1h-1zM310 109h1v1h-1zM293 86h1v1h-1zM309 103h1v1h-1zM303 113h1v1h-1zM273 115h1v1h-1zM291 111h1v1h-1zM300 62h1v1h-1zM292 101h1v1h-1zM299 123h1v1h-1zM288 97h1v1h-1zM302 62h1v1h-1zM315 81h1v1h-1zM309 105h1v1h-1zM316 125h1v1h-1zM295 65h1v1h-1zM296 109h1v1h-1z" fill="#2a2a2a"/>
<path d="M285 50h1v1h-1zM289 60h1v1h-1zM293 59h1v1h-1zM291 60h1v1h-1zM286 51h1v1h-1zM280 58h1v1h-1zM289 56h1v1h-1zM287 53h1v1h-1zM293 59h1v1h-1zM288 55h1v1h-1zM285 58h1v1h-1zM283 55h1v1h-1zM294 52h1v1h-1zM284 62h1v1h-1zM289 57h1v1h-1zM283 51h1v1h-1zM289 54h1v1h-1zM287 49h1v1h-1zM291 58h1v1h-1zM288 57h1v1h-1zM281 57h1v1h-1zM289 56h1v1h-1zM287 52h1v1h-1zM287 60h1v1h-1zM287 60h1v1h-1z" fill="#2a2a2a"/>
<path d="M293.10 56.84C295.14 57.29 294.21 58.33 294.50 59.85C294.79 61.36 294.39 63.95 294.82 65.92C295.25 67.89 296.48 69.34 297.08 71.66C297.68 73.99 298.00 77.19 298.43 79.87C298.85 82.55 299.11 85.33 299.64 87.75C300.17 90.16 300.78 92.32 301.59 94.37C302.41 96.41 303.81 98.04 304.50 100.02C305.20 101.99 305.89 103.63 305.77 106.19C305.65 108.75 304.67 112.68 303.80 115.39C302.93 118.10 301.73 120.38 300.56 122.46C299.39 124.53 298.27 125.94 296.77 127.85C295.28 129.76 293.34 132.89 291.57 133.90C289.79 134.91 287.91 134.82 286.12 133.91C284.34 132.99 282.19 130.35 280.88 128.42C279.56 126.49 279.14 124.50 278.25 122.31C277.36 120.13 275.80 118.00 275.53 115.32C275.27 112.64 276.42 108.77 276.65 106.23C276.89 103.70 276.76 102.21 276.94 100.12C277.13 98.03 277.36 95.69 277.77 93.70C278.18 91.70 279.09 90.47 279.39 88.14C279.69 85.81 279.57 82.37 279.58 79.74C279.58 77.10 279.40 74.61 279.41 72.32C279.42 70.03 279.47 68.12 279.64 66.02C279.81 63.92 280.02 61.22 280.45 59.74C280.89 58.26 280.15 57.64 282.25 57.16C284.36 56.68 291.06 56.40 293.10 56.84Z" fill="none" stroke="#111" stroke-width="0.85"/>
<path d="M292.69 59.96C294.66 60.41 294.44 61.04 294.64 62.41C294.85 63.78 293.65 66.25 293.92 68.20C294.19 70.14 295.64 71.86 296.26 74.08C296.89 76.30 297.21 79.12 297.65 81.51C298.09 83.90 298.30 86.27 298.90 88.44C299.49 90.60 300.39 92.68 301.21 94.52C302.04 96.36 303.27 97.62 303.83 99.46C304.39 101.30 304.74 103.18 304.55 105.59C304.36 108.00 303.44 111.42 302.69 113.92C301.95 116.42 301.15 118.57 300.08 120.57C299.00 122.58 297.61 124.13 296.23 125.93C294.85 127.72 293.43 130.61 291.82 131.35C290.20 132.10 288.17 131.31 286.55 130.42C284.93 129.53 283.39 127.65 282.07 126.01C280.75 124.37 279.53 122.57 278.62 120.57C277.72 118.58 276.87 116.68 276.64 114.04C276.42 111.40 277.00 107.18 277.26 104.75C277.53 102.32 278.03 101.30 278.22 99.47C278.41 97.63 278.22 95.57 278.41 93.73C278.60 91.90 279.14 90.49 279.36 88.44C279.58 86.40 279.62 84.01 279.74 81.47C279.87 78.93 280.04 75.42 280.12 73.22C280.20 71.01 280.09 69.95 280.20 68.24C280.31 66.52 280.34 64.33 280.77 62.91C281.21 61.49 280.82 60.22 282.81 59.73C284.80 59.24 290.72 59.51 292.69 59.96Z" fill="none" stroke="#111" stroke-width="0.85"/>
<path d="M290.31 59.75C291.54 60.81 291.48 64.03 291.81 66.07C292.14 68.10 291.68 69.58 292.28 71.96C292.88 74.34 294.64 77.60 295.44 80.35C296.23 83.10 296.57 86.38 297.05 88.44C297.52 90.50 300.89 91.88 298.28 92.71C295.68 93.55 284.07 94.20 281.40 93.45C278.74 92.70 282.10 90.51 282.29 88.23C282.48 85.94 282.30 82.54 282.54 79.75C282.79 76.96 283.65 73.84 283.77 71.51C283.90 69.17 283.20 67.69 283.31 65.73C283.42 63.76 283.27 60.71 284.43 59.72C285.60 58.72 289.08 58.70 290.31 59.75Z" fill="none" stroke="#111" stroke-width="0.85"/>
<path d="M290.05 65.03C290.95 65.83 290.85 68.20 291.07 69.59C291.30 70.99 290.96 71.86 291.39 73.39C291.82 74.92 293.07 76.87 293.65 78.79C294.24 80.70 294.61 83.23 294.89 84.87C295.17 86.51 297.22 88.16 295.34 88.64C293.45 89.13 285.41 88.40 283.58 87.77C281.75 87.15 284.15 86.40 284.35 84.88C284.56 83.35 284.67 80.43 284.83 78.61C284.99 76.79 285.19 75.56 285.31 73.97C285.43 72.38 285.51 70.63 285.57 69.10C285.63 67.56 284.92 65.44 285.67 64.76C286.41 64.08 289.15 64.22 290.05 65.03Z" fill="none" stroke="#111" stroke-width="0.85"/>
<path d="M290.54 84.50C290.54 85.00 290.50 85.66 290.16 86.01C289.82 86.36 289.02 86.63 288.50 86.61C287.98 86.58 287.39 86.20 287.02 85.84C286.65 85.49 286.31 84.96 286.30 84.50C286.29 84.04 286.59 83.44 286.96 83.10C287.33 82.76 287.97 82.46 288.50 82.44C289.03 82.42 289.81 82.66 290.15 83.00C290.49 83.35 290.54 84.00 290.54 84.50Z" fill="none" stroke="#111" stroke-width="0.9"/>
<path d="M278.00 97.00C279.33 95.42 281.50 95.83 284.00 95.50C286.50 95.17 290.33 94.92 293.00 95.00C295.67 95.08 298.08 95.33 300.00 96.00C301.92 96.67 303.58 97.33 304.50 99.00C305.42 100.67 305.67 103.33 305.50 106.00C305.33 108.67 304.58 112.00 303.50 115.00C302.42 118.00 300.58 121.33 299.00 124.00C297.42 126.67 295.83 129.40 294.00 131.00C292.17 132.60 290.00 133.52 288.00 133.60C286.00 133.68 283.58 132.93 282.00 131.50C280.42 130.07 279.50 127.58 278.50 125.00C277.50 122.42 276.42 119.33 276.00 116.00C275.58 112.67 275.67 108.17 276.00 105.00C276.33 101.83 276.67 98.58 278.00 97.00Z" fill="#000" fill-opacity="0.3"/>
<path d="M278.27 97.40C279.68 95.86 281.58 95.70 284.07 95.28C286.56 94.86 290.53 94.79 293.23 94.89C295.93 94.98 298.38 95.13 300.27 95.86C302.16 96.58 303.76 97.60 304.56 99.26C305.36 100.93 305.26 103.26 305.07 105.85C304.87 108.44 304.36 111.85 303.41 114.82C302.46 117.78 300.95 120.94 299.38 123.61C297.80 126.28 295.90 129.22 293.95 130.83C292.00 132.43 289.60 133.16 287.67 133.25C285.74 133.35 283.82 132.78 282.35 131.38C280.89 129.99 279.96 127.50 278.88 124.89C277.80 122.27 276.39 119.10 275.85 115.71C275.31 112.33 275.22 107.61 275.62 104.56C276.02 101.51 276.86 98.95 278.27 97.40Z" fill="none" stroke="#111" stroke-width="0.75"/>
<path d="M278.98 98.36C280.22 96.90 281.90 97.48 284.16 97.14C286.42 96.79 290.01 96.27 292.54 96.28C295.07 96.29 297.48 96.56 299.34 97.19C301.20 97.82 302.90 98.56 303.70 100.05C304.49 101.54 304.28 103.69 304.10 106.11C303.92 108.53 303.59 111.72 302.60 114.59C301.62 117.45 299.69 120.73 298.18 123.30C296.68 125.87 295.28 128.58 293.58 130.01C291.88 131.43 289.88 131.93 287.98 131.87C286.08 131.81 283.69 130.93 282.19 129.64C280.69 128.35 279.89 126.44 278.97 124.13C278.05 121.82 277.04 118.81 276.66 115.77C276.29 112.73 276.31 108.79 276.70 105.89C277.08 102.99 277.74 99.82 278.98 98.36Z" fill="none" stroke="#111" stroke-width="0.75"/>
<path d="M279.72 99.19C280.76 97.89 282.50 98.78 284.64 98.50C286.78 98.22 290.22 97.42 292.56 97.50C294.89 97.58 297.12 98.34 298.64 98.97C300.16 99.60 300.98 100.02 301.68 101.31C302.37 102.60 302.92 104.46 302.82 106.71C302.73 108.96 302.04 112.25 301.08 114.82C300.13 117.39 298.37 119.94 297.09 122.13C295.81 124.32 294.82 126.57 293.39 127.96C291.96 129.35 290.19 130.42 288.49 130.46C286.80 130.50 284.66 129.41 283.21 128.21C281.75 127.00 280.66 125.34 279.75 123.23C278.83 121.13 277.96 118.37 277.73 115.56C277.50 112.74 278.05 109.05 278.38 106.33C278.71 103.60 278.67 100.50 279.72 99.19Z" fill="none" stroke="#111" stroke-width="0.75"/>
<path d="M280.27 100.60C281.30 99.31 282.86 99.72 284.89 99.41C286.91 99.11 290.29 98.64 292.42 98.77C294.56 98.89 296.35 99.63 297.69 100.15C299.03 100.66 299.79 100.54 300.46 101.85C301.13 103.16 301.77 105.84 301.70 107.99C301.63 110.14 300.83 112.42 300.04 114.74C299.26 117.05 298.15 119.88 296.97 121.87C295.79 123.87 294.38 125.52 292.96 126.69C291.54 127.85 290.02 128.75 288.46 128.88C286.90 129.01 284.87 128.58 283.61 127.48C282.35 126.39 281.61 124.30 280.88 122.33C280.15 120.36 279.59 118.17 279.22 115.64C278.86 113.11 278.53 109.67 278.70 107.16C278.88 104.65 279.24 101.89 280.27 100.60Z" fill="none" stroke="#111" stroke-width="0.75"/>
<path d="M281.39 102.04C282.40 100.93 284.15 101.46 285.83 101.17C287.51 100.88 289.65 100.24 291.48 100.29C293.31 100.33 295.42 100.87 296.80 101.46C298.18 102.04 299.18 102.70 299.78 103.79C300.38 104.88 300.57 106.30 300.41 108.00C300.25 109.69 299.54 111.87 298.84 113.96C298.13 116.04 297.23 118.64 296.16 120.49C295.10 122.35 293.70 123.98 292.46 125.08C291.21 126.18 290.14 126.97 288.69 127.12C287.24 127.26 284.89 126.99 283.78 125.95C282.66 124.91 282.60 122.76 282.00 120.89C281.40 119.03 280.57 116.94 280.20 114.77C279.83 112.60 279.58 109.99 279.78 107.87C279.98 105.75 280.38 103.16 281.39 102.04Z" fill="none" stroke="#111" stroke-width="0.75"/>
<path d="M281.96 103.53C282.67 102.56 284.20 102.70 285.75 102.49C287.30 102.28 289.57 102.31 291.26 102.27C292.94 102.22 294.58 101.80 295.85 102.22C297.12 102.63 298.36 103.66 298.89 104.75C299.41 105.84 299.13 107.14 299.00 108.75C298.86 110.37 298.66 112.55 298.06 114.44C297.46 116.34 296.35 118.59 295.42 120.14C294.48 121.70 293.69 122.90 292.45 123.77C291.20 124.65 289.29 125.26 287.96 125.39C286.63 125.52 285.32 125.31 284.46 124.54C283.61 123.77 283.34 122.34 282.83 120.76C282.31 119.19 281.60 117.15 281.38 115.08C281.16 113.01 281.40 110.25 281.50 108.33C281.60 106.40 281.25 104.51 281.96 103.53Z" fill="none" stroke="#111" stroke-width="0.75"/>
<path d="M283.36 104.46C284.00 103.66 284.97 103.81 286.23 103.59C287.49 103.37 289.48 103.07 290.93 103.16C292.37 103.25 293.79 103.73 294.89 104.11C295.99 104.50 296.98 104.66 297.53 105.47C298.09 106.27 298.27 107.47 298.21 108.94C298.15 110.42 297.77 112.74 297.18 114.33C296.59 115.93 295.55 117.12 294.65 118.53C293.75 119.94 292.75 121.85 291.78 122.80C290.80 123.75 289.94 124.19 288.79 124.21C287.63 124.24 285.80 123.69 284.84 122.94C283.89 122.20 283.47 121.15 283.05 119.75C282.63 118.35 282.45 116.46 282.35 114.57C282.24 112.67 282.27 110.05 282.44 108.37C282.61 106.69 282.73 105.25 283.36 104.46Z" fill="none" stroke="#111" stroke-width="0.75"/>
<path d="M283.97 105.82C284.60 105.07 286.02 105.21 287.12 105.01C288.23 104.82 289.38 104.61 290.59 104.67C291.80 104.74 293.43 105.09 294.40 105.39C295.37 105.70 296.03 105.70 296.41 106.51C296.79 107.31 296.89 108.92 296.70 110.20C296.50 111.48 295.73 112.82 295.27 114.19C294.80 115.56 294.64 117.31 293.92 118.43C293.20 119.55 291.79 120.28 290.95 120.92C290.12 121.57 289.81 122.19 288.92 122.30C288.03 122.41 286.42 122.23 285.61 121.57C284.80 120.91 284.50 119.59 284.06 118.34C283.62 117.10 283.09 115.58 282.98 114.11C282.87 112.64 283.21 110.90 283.38 109.52C283.54 108.14 283.35 106.57 283.97 105.82Z" fill="none" stroke="#111" stroke-width="0.75"/>
<path d="M284.88 107.10C285.38 106.44 286.19 106.24 287.11 106.03C288.02 105.82 289.36 105.75 290.39 105.82C291.42 105.89 292.47 106.14 293.28 106.46C294.09 106.78 294.87 107.14 295.23 107.77C295.59 108.40 295.56 109.16 295.44 110.22C295.33 111.27 295.00 112.89 294.54 114.10C294.08 115.31 293.20 116.56 292.66 117.49C292.12 118.41 291.94 119.14 291.30 119.64C290.66 120.14 289.58 120.38 288.82 120.48C288.06 120.58 287.46 120.70 286.76 120.23C286.05 119.76 285.09 118.64 284.60 117.67C284.11 116.70 283.91 115.68 283.83 114.40C283.76 113.12 283.96 111.23 284.14 110.02C284.31 108.80 284.39 107.77 284.88 107.10Z" fill="none" stroke="#111" stroke-width="0.75"/>
<path d="M285.88 108.57C286.17 108.09 286.57 107.60 287.24 107.45C287.90 107.30 289.02 107.57 289.87 107.67C290.72 107.78 291.70 107.91 292.35 108.07C293.01 108.23 293.56 108.10 293.79 108.63C294.03 109.16 293.84 110.50 293.78 111.26C293.72 112.01 293.76 112.37 293.43 113.17C293.11 113.97 292.33 115.21 291.83 116.05C291.33 116.89 291.02 117.72 290.43 118.20C289.84 118.67 288.87 118.82 288.28 118.88C287.69 118.94 287.31 118.93 286.90 118.55C286.49 118.17 286.09 117.33 285.81 116.60C285.52 115.86 285.25 115.18 285.21 114.13C285.16 113.09 285.44 111.26 285.55 110.34C285.66 109.41 285.60 109.06 285.88 108.57Z" fill="none" stroke="#111" stroke-width="0.75"/>
<path d="M280.50 104.00C281.50 101.33 284.58 100.92 287.00 100.00C289.42 99.08 292.67 98.67 295.00 98.50C297.33 98.33 299.83 98.08 301.00 99.00C302.17 99.92 302.33 101.67 302.00 104.00C301.67 106.33 300.33 110.00 299.00 113.00C297.67 116.00 295.67 119.67 294.00 122.00C292.33 124.33 290.67 126.67 289.00 127.00C287.33 127.33 285.33 125.83 284.00 124.00C282.67 122.17 281.58 119.33 281.00 116.00C280.42 112.67 279.50 106.67 280.50 104.00Z" fill="#000" fill-opacity="0.75"/>
<ellipse cx="289.5" cy="113" rx="1.2" ry="2.2" fill="#fff"/>
<path d="M139 267h1v1h-1zM130 283h1v1h-1zM138 273h1v1h-1zM138 296h1v1h-1zM142 290h1v1h-1zM135 258h1v1h-1zM131 262h1v1h-1zM121 297h1v1h-1zM137 268h1v1h-1zM142 259h1v1h-1zM138 281h1v1h-1zM127 300h1v1h-1zM137 278h1v1h-1zM131 254h1v1h-1zM147 256h1v1h-1zM134 276h1v1h-1zM145 272h1v1h-1zM142 247h1v1h-1zM138 297h1v1h-1zM136 254h1v1h-1zM134 256h1v1h-1zM141 270h1v1h-1zM134 282h1v1h-1zM130 239h1v1h-1zM151 254h1v1h-1zM146 265h1v1h-1zM135 277h1v1h-1zM132 250h1v1h-1zM135 259h1v1h-1zM141 304h1v1h-1zM130 249h1v1h-1zM141 276h1v1h-1zM143 252h1v1h-1zM140 265h1v1h-1zM127 275h1v1h-1zM127 277h1v1h-1zM134 263h1v1h-1zM149 296h1v1h-1zM139 274h1v1h-1zM132 290h1v1h-1zM140 250h1v1h-1zM127 266h1v1h-1zM136 283h1v1h-1zM131 249h1v1h-1zM139 268h1v1h-1zM142 288h1v1h-1zM137 252h1v1h-1zM136 268h1v1h-1zM133 276h1v1h-1zM137 271h1v1h-1zM144 291h1v1h-1zM144 274h1v1h-1zM137 277h1v1h-1zM138 252h1v1h-1zM139 284h1v1h-1zM134 245h1v1h-1zM140 252h1v1h-1zM128 262h1v1h-1zM128 273h1v1h-1zM134 268h1v1h-1zM143 288h1v1h-1zM134 244h1v1h-1zM142 296h1v1h-1zM141 279h1v1h-1zM140 280h1v1h-1zM134 284h1v1h-1zM135 244h1v1h-1zM137 297h1v1h-1zM144 271h1v1h-1zM140 257h1v1h-1zM139 298h1v1h-1zM133 280h1v1h-1zM139 250h1v1h-1zM138 278h1v1h-1zM132 289h1v1h-1zM130 289h1v1h-1zM140 271h1v1h-1zM132 251h1v1h-1zM124 266h1v1h-1zM136 277h1v1h-1zM143 270h1v1h-1zM135 286h1v1h-1zM137 266h1v1h-1zM130 287h1v1h-1zM133 304h1v1h-1zM132 257h1v1h-1zM137 253h1v1h-1zM128 245h1v1h-1zM132 262h1v1h-1zM142 279h1v1h-1zM139 282h1v1h-1zM124 255h1v1h-1zM133 247h1v1h-1zM139 254h1v1h-1zM130 284h1v1h-1zM133 262h1v1h-1zM128 284h1v1h-1zM137 294h1v1h-1zM150 279h1v1h-1zM135 251h1v1h-1zM146 263h1v1h-1zM140 271h1v1h-1zM138 270h1v1h-1zM136 271h1v1h-1zM131 278h1v1h-1zM134 270h1v1h-1zM146 271h1v1h-1zM131 274h1v1h-1zM128 270h1v1h-1zM145 246h1v1h-1zM136 250h1v1h-1zM138 273h1v1h-1zM138 261h1v1h-1zM126 249h1v1h-1zM134 282h1v1h-1zM125 287h1v1h-1zM145 273h1v1h-1zM131 272h1v1h-1zM140 239h1v1h-1zM144 250h1v1h-1zM141 256h1v1h-1zM127 255h1v1h-1zM134 269h1v1h-1zM127 247h1v1h-1zM138 259h1v1h-1zM134 275h1v1h-1zM129 304h1v1h-1zM132 273h1v1h-1zM136 285h1v1h-1zM134 252h1v1h-1zM138 278h1v1h-1zM136 305h1v1h-1zM141 292h1v1h-1zM144 286h1v1h-1zM136 297h1v1h-1zM134 269h1v1h-1zM145 284h1v1h-1zM130 261h1v1h-1zM131 288h1v1h-1zM135 267h1v1h-1zM133 257h1v1h-1zM140 247h1v1h-1zM137 257h1v1h-1zM134 242h1v1h-1zM130 258h1v1h-1zM137 252h1v1h-1zM127 257h1v1h-1zM131 253h1v1h-1zM136 273h1v1h-1zM134 259h1v1h-1zM143 262h1v1h-1zM127 259h1v1h-1zM139 259h1v1h-1zM133 269h1v1h-1zM134 268h1v1h-1zM140 254h1v1h-1zM127 291h1v1h-1zM139 251h1v1h-1zM128 266h1v1h-1zM138 275h1v1h-1zM139 258h1v1h-1zM134 238h1v1h-1zM132 257h1v1h-1zM143 241h1v1h-1zM147 283h1v1h-1zM134 255h1v1h-1zM138 273h1v1h-1zM135 275h1v1h-1zM142 274h1v1h-1zM136 272h1v1h-1zM133 298h1v1h-1zM142 273h1v1h-1zM133 265h1v1h-1zM139 268h1v1h-1zM146 304h1v1h-1zM142 245h1v1h-1zM140 257h1v1h-1zM137 302h1v1h-1zM127 241h1v1h-1zM133 280h1v1h-1zM139 278h1v1h-1zM144 268h1v1h-1zM143 255h1v1h-1zM142 288h1v1h-1zM135 259h1v1h-1zM143 252h1v1h-1zM131 267h1v1h-1zM140 283h1v1h-1zM134 276h1v1h-1zM132 245h1v1h-1zM150 253h1v1h-1zM128 272h1v1h-1zM132 280h1v1h-1zM122 245h1v1h-1zM142 271h1v1h-1zM131 294h1v1h-1zM142 260h1v1h-1zM143 278h1v1h-1zM129 252h1v1h-1zM138 246h1v1h-1zM128 257h1v1h-1zM141 268h1v1h-1zM141 261h1v1h-1zM141 263h1v1h-1zM133 269h1v1h-1zM132 255h1v1h-1zM142 285h1v1h-1zM133 257h1v1h-1zM149 275h1v1h-1zM134 242h1v1h-1zM146 289h1v1h-1zM132 278h1v1h-1zM131 259h1v1h-1zM142 260h1v1h-1zM132 238h1v1h-1zM140 261h1v1h-1zM129 303h1v1h-1zM132 255h1v1h-1zM139 260h1v1h-1zM136 273h1v1h-1zM133 248h1v1h-1zM135 284h1v1h-1zM136 294h1v1h-1zM137 248h1v1h-1zM138 262h1v1h-1zM134 262h1v1h-1zM142 281h1v1h-1zM138 270h1v1h-1zM140 279h1v1h-1zM139 253h1v1h-1zM143 287h1v1h-1zM140 269h1v1h-1zM121 288h1v1h-1zM125 257h1v1h-1zM138 286h1v1h-1zM135 254h1v1h-1zM126 261h1v1h-1zM140 241h1v1h-1zM133 258h1v1h-1zM137 272h1v1h-1zM143 255h1v1h-1zM128 244h1v1h-1zM135 249h1v1h-1zM135 262h1v1h-1zM136 283h1v1h-1zM139 241h1v1h-1zM132 255h1v1h-1zM133 280h1v1h-1zM141 271h1v1h-1zM145 248h1v1h-1zM137 287h1v1h-1zM136 254h1v1h-1zM132 285h1v1h-1zM141 302h1v1h-1zM148 270h1v1h-1zM134 250h1v1h-1zM134 301h1v1h-1zM136 254h1v1h-1zM136 273h1v1h-1zM133 252h1v1h-1z" fill="#2a2a2a"/>
<path d="M144 333h1v1h-1zM132 348h1v1h-1zM124 330h1v1h-1zM147 336h1v1h-1zM144 321h1v1h-1zM155 324h1v1h-1zM138 330h1v1h-1zM138 325h1v1h-1zM153 331h1v1h-1zM147 316h1v1h-1zM144 328h1v1h-1zM142 332h1v1h-1zM142 329h1v1h-1zM139 332h1v1h-1zM140 331h1v1h-1zM135 334h1v1h-1zM130 349h1v1h-1zM146 344h1v1h-1zM137 318h1v1h-1zM124 323h1v1h-1zM132 327h1v1h-1zM135 336h1v1h-1zM116 346h1v1h-1zM135 332h1v1h-1zM122 332h1v1h-1zM125 335h1v1h-1zM141 332h1v1h-1zM137 328h1v1h-1zM135 338h1v1h-1zM139 332h1v1h-1zM160 331h1v1h-1zM146 321h1v1h-1zM127 328h1v1h-1zM139 339h1v1h-1zM137 324h1v1h-1zM144 321h1v1h-1zM125 320h1v1h-1zM135 326h1v1h-1zM138 330h1v1h-1zM160 334h1v1h-1zM118 317h1v1h-1zM139 322h1v1h-1zM158 326h1v1h-1zM134 331h1v1h-1zM136 335h1v1h-1zM136 333h1v1h-1zM142 345h1v1h-1zM129 325h1v1h-1zM145 325h1v1h-1zM139 328h1v1h-1zM144 329h1v1h-1zM157 330h1v1h-1zM136 317h1v1h-1zM139 321h1v1h-1zM144 335h1v1h-1zM139 340h1v1h-1zM119 336h1v1h-1zM155 331h1v1h-1zM138 341h1v1h-1zM141 333h1v1h-1z" fill="#2a2a2a"/>
<path d="M142.94 244.44C145.19 245.43 144.44 247.05 144.94 250.46C145.44 253.86 145.88 259.06 145.93 264.89C145.98 270.72 145.28 279.55 145.24 285.41C145.20 291.27 145.82 295.75 145.69 300.06C145.57 304.36 147.27 309.46 144.51 311.26C141.75 313.06 132.02 312.80 129.13 310.84C126.23 308.88 127.58 303.87 127.17 299.50C126.76 295.14 126.67 290.36 126.66 284.64C126.65 278.92 126.73 271.03 127.09 265.20C127.45 259.36 128.09 253.07 128.81 249.63C129.54 246.18 129.08 245.40 131.44 244.53C133.79 243.67 140.69 243.46 142.94 244.44Z" fill="none" stroke="#111" stroke-width="0.85"/>
<path d="M141.54 247.91C143.76 248.61 143.79 249.26 144.33 252.31C144.87 255.36 144.71 260.83 144.78 266.20C144.85 271.57 144.80 279.25 144.74 284.53C144.67 289.81 144.50 294.02 144.41 297.87C144.32 301.71 146.62 305.97 144.19 307.62C141.77 309.28 132.55 309.47 129.87 307.79C127.18 306.10 128.41 301.47 128.09 297.52C127.77 293.57 127.92 289.36 127.96 284.09C127.99 278.82 128.12 271.16 128.29 265.92C128.46 260.68 128.53 255.62 128.99 252.64C129.45 249.67 128.95 248.85 131.05 248.06C133.14 247.27 139.33 247.20 141.54 247.91Z" fill="none" stroke="#111" stroke-width="0.85"/>
<path d="M141.17 250.69C143.05 252.65 142.46 257.48 142.70 262.33C142.94 267.19 142.65 273.82 142.61 279.82C142.58 285.82 142.68 293.70 142.51 298.34C142.33 302.98 143.22 306.08 141.59 307.66C139.96 309.24 134.45 309.48 132.74 307.83C131.03 306.19 131.68 302.41 131.33 297.79C130.98 293.17 130.79 286.11 130.62 280.11C130.45 274.12 130.20 266.75 130.32 261.83C130.45 256.91 129.59 252.45 131.40 250.59C133.20 248.73 139.28 248.73 141.17 250.69Z" fill="none" stroke="#111" stroke-width="0.85"/>
<path d="M139.14 266.36C140.32 268.31 139.16 274.05 139.14 277.96C139.12 281.88 140.09 287.88 139.01 289.85C137.92 291.82 133.83 291.69 132.63 289.77C131.42 287.85 131.87 282.27 131.77 278.35C131.67 274.44 130.80 268.26 132.03 266.26C133.26 264.27 137.95 264.41 139.14 266.36Z" fill="none" stroke="#111" stroke-width="0.85"/>
<path d="M136.62 262.00C136.66 262.63 136.29 263.61 135.85 264.00C135.41 264.40 134.57 264.42 134.00 264.37C133.43 264.32 132.87 264.08 132.44 263.69C132.02 263.29 131.48 262.60 131.44 262.00C131.40 261.40 131.80 260.52 132.22 260.07C132.65 259.63 133.43 259.29 134.00 259.31C134.57 259.34 135.20 259.78 135.63 260.23C136.07 260.68 136.58 261.37 136.62 262.00Z" fill="none" stroke="#111" stroke-width="0.9"/>
<path d="M119.35 317.78C120.42 315.13 122.90 312.48 125.21 311.13C127.51 309.78 130.58 309.87 133.16 309.68C135.73 309.48 138.33 309.40 140.64 309.95C142.96 310.51 145.43 311.32 147.04 313.02C148.65 314.73 149.72 317.01 150.31 320.17C150.89 323.33 150.96 328.35 150.55 331.97C150.15 335.58 149.45 339.49 147.86 341.88C146.28 344.26 143.66 345.50 141.02 346.27C138.39 347.04 134.58 347.25 132.05 346.49C129.51 345.72 127.65 343.47 125.80 341.70C123.95 339.93 122.13 338.32 120.95 335.88C119.78 333.43 119.04 330.04 118.77 327.02C118.51 324.00 118.28 320.43 119.35 317.78Z" fill="none" stroke="#111" stroke-width="0.85"/>
<path d="M120.20 318.54C121.22 316.07 123.69 313.42 125.91 312.10C128.12 310.78 130.99 310.69 133.49 310.61C135.99 310.53 138.78 311.04 140.89 311.64C143.00 312.23 144.80 312.69 146.16 314.16C147.51 315.64 148.41 317.55 149.00 320.49C149.59 323.42 149.95 328.35 149.68 331.77C149.41 335.20 148.93 338.80 147.38 341.02C145.84 343.24 142.97 344.43 140.41 345.11C137.86 345.78 134.36 345.83 132.04 345.09C129.71 344.34 128.06 342.24 126.45 340.63C124.85 339.03 123.49 337.77 122.39 335.48C121.28 333.19 120.18 329.73 119.82 326.91C119.46 324.08 119.19 321.00 120.20 318.54Z" fill="none" stroke="#111" stroke-width="0.85"/>
<path d="M149.09 328.00C149.09 330.27 148.42 332.69 147.65 334.82C146.89 336.94 145.90 339.31 144.50 340.74C143.11 342.17 141.06 343.00 139.27 343.42C137.48 343.84 135.55 343.69 133.76 343.25C131.96 342.80 130.08 342.04 128.49 340.75C126.90 339.46 125.11 337.64 124.20 335.52C123.29 333.39 123.00 330.48 123.03 328.00C123.07 325.52 123.48 322.69 124.41 320.61C125.35 318.53 127.14 316.99 128.67 315.53C130.20 314.07 131.82 312.37 133.59 311.84C135.37 311.31 137.53 311.72 139.32 312.34C141.10 312.97 142.90 314.13 144.29 315.61C145.68 317.08 146.86 319.11 147.66 321.18C148.46 323.24 149.09 325.73 149.09 328.00Z" fill="#000" fill-opacity="0.35"/>
<path d="M149.31 328.14C149.20 330.32 148.14 332.60 147.33 334.70C146.53 336.81 145.76 339.36 144.48 340.77C143.20 342.17 141.42 342.73 139.66 343.12C137.89 343.52 135.76 343.58 133.89 343.14C132.03 342.71 130.08 341.82 128.48 340.51C126.89 339.20 125.25 337.45 124.33 335.30C123.42 333.15 122.92 330.08 123.00 327.63C123.07 325.18 123.85 322.59 124.79 320.60C125.73 318.61 127.18 317.11 128.63 315.70C130.09 314.29 131.81 312.67 133.53 312.15C135.24 311.64 137.14 311.99 138.93 312.61C140.72 313.23 142.75 314.36 144.26 315.86C145.78 317.35 147.17 319.52 148.02 321.57C148.86 323.61 149.42 325.95 149.31 328.14Z" fill="none" stroke="#111" stroke-width="0.75"/>
<path d="M148.51 327.65C148.52 329.83 147.95 332.57 147.14 334.67C146.33 336.76 144.96 338.95 143.66 340.23C142.35 341.51 140.96 341.99 139.32 342.34C137.68 342.70 135.57 342.77 133.84 342.38C132.10 341.98 130.39 341.26 128.93 339.98C127.47 338.69 125.89 336.64 125.09 334.67C124.28 332.70 124.02 330.40 124.10 328.17C124.17 325.93 124.67 323.20 125.54 321.27C126.41 319.33 127.97 317.93 129.30 316.53C130.63 315.14 131.84 313.37 133.53 312.89C135.22 312.42 137.80 313.07 139.45 313.70C141.09 314.34 142.13 315.41 143.40 316.71C144.66 318.02 146.19 319.73 147.04 321.55C147.89 323.37 148.49 325.46 148.51 327.65Z" fill="none" stroke="#111" stroke-width="0.75"/>
<path d="M147.47 327.94C147.44 329.89 146.65 331.76 145.98 333.64C145.31 335.51 144.61 337.86 143.45 339.18C142.29 340.51 140.57 341.29 139.01 341.58C137.44 341.87 135.68 341.28 134.06 340.91C132.45 340.53 130.70 340.37 129.31 339.32C127.92 338.27 126.47 336.45 125.74 334.59C125.00 332.74 124.93 330.38 124.92 328.21C124.92 326.03 124.90 323.33 125.72 321.55C126.53 319.76 128.46 318.71 129.81 317.50C131.15 316.29 132.23 314.78 133.80 314.26C135.37 313.75 137.64 313.85 139.23 314.40C140.82 314.95 142.18 316.32 143.34 317.57C144.49 318.82 145.47 320.17 146.16 321.90C146.85 323.63 147.50 325.98 147.47 327.94Z" fill="none" stroke="#111" stroke-width="0.75"/>
<path d="M146.63 327.89C146.68 329.74 146.28 331.78 145.66 333.45C145.04 335.11 144.08 336.72 142.91 337.88C141.73 339.03 140.04 340.05 138.60 340.39C137.16 340.74 135.71 340.32 134.25 339.95C132.80 339.57 131.11 339.09 129.89 338.13C128.67 337.18 127.57 335.98 126.92 334.23C126.27 332.47 126.04 329.65 125.98 327.63C125.92 325.60 125.91 323.73 126.55 322.08C127.20 320.44 128.57 318.99 129.84 317.75C131.12 316.50 132.74 315.05 134.21 314.59C135.68 314.14 137.29 314.40 138.68 315.02C140.07 315.65 141.44 317.12 142.56 318.34C143.68 319.56 144.71 320.73 145.39 322.32C146.07 323.91 146.59 326.03 146.63 327.89Z" fill="none" stroke="#111" stroke-width="0.75"/>
<path d="M145.75 328.38C145.83 330.02 145.40 331.73 144.85 333.20C144.29 334.67 143.44 336.10 142.43 337.18C141.43 338.26 140.18 339.32 138.82 339.69C137.45 340.06 135.59 339.75 134.24 339.41C132.89 339.06 131.83 338.53 130.73 337.61C129.63 336.68 128.36 335.44 127.65 333.84C126.93 332.24 126.41 329.94 126.43 328.00C126.44 326.07 127.08 323.83 127.73 322.25C128.38 320.66 129.18 319.55 130.32 318.50C131.47 317.44 133.27 316.30 134.62 315.90C135.97 315.51 137.20 315.56 138.43 316.11C139.65 316.66 140.96 318.00 141.96 319.20C142.95 320.41 143.77 321.81 144.40 323.34C145.03 324.87 145.68 326.74 145.75 328.38Z" fill="none" stroke="#111" stroke-width="0.75"/>
<path d="M144.98 328.32C145.01 329.86 144.56 331.46 144.06 332.90C143.56 334.35 142.93 336.06 141.96 336.99C140.99 337.93 139.48 338.31 138.26 338.54C137.04 338.76 135.86 338.63 134.64 338.35C133.42 338.07 131.99 337.71 130.95 336.85C129.92 335.99 129.02 334.74 128.44 333.20C127.86 331.67 127.45 329.35 127.47 327.64C127.49 325.92 127.99 324.26 128.56 322.89C129.13 321.51 129.92 320.38 130.89 319.37C131.86 318.35 133.13 317.06 134.37 316.79C135.62 316.52 137.14 317.27 138.38 317.73C139.62 318.19 140.91 318.56 141.83 319.55C142.75 320.54 143.39 322.21 143.92 323.67C144.44 325.13 144.96 326.78 144.98 328.32Z" fill="none" stroke="#111" stroke-width="0.75"/>
<path d="M144.06 327.78C143.95 329.24 143.38 331.24 142.91 332.50C142.45 333.77 142.07 334.55 141.24 335.37C140.41 336.19 138.99 337.12 137.96 337.42C136.93 337.72 136.14 337.48 135.04 337.15C133.93 336.82 132.29 336.22 131.34 335.43C130.38 334.65 129.83 333.61 129.29 332.43C128.76 331.26 128.10 329.84 128.10 328.39C128.11 326.93 128.68 325.10 129.32 323.71C129.95 322.32 130.97 320.89 131.91 320.03C132.85 319.16 133.84 318.85 134.95 318.54C136.07 318.22 137.54 317.75 138.61 318.12C139.67 318.49 140.52 319.83 141.34 320.76C142.17 321.70 143.09 322.57 143.55 323.74C144.00 324.91 144.16 326.32 144.06 327.78Z" fill="none" stroke="#111" stroke-width="0.75"/>
<path d="M143.65 328.24C143.72 329.52 143.09 330.87 142.65 332.03C142.22 333.18 141.87 334.40 141.06 335.19C140.25 335.98 138.78 336.59 137.79 336.79C136.80 336.98 136.06 336.69 135.11 336.36C134.16 336.02 132.92 335.55 132.09 334.77C131.26 334.00 130.62 332.89 130.12 331.72C129.62 330.55 129.09 328.99 129.11 327.75C129.13 326.51 129.78 325.33 130.25 324.30C130.72 323.26 131.13 322.34 131.93 321.54C132.72 320.74 133.95 319.83 135.02 319.51C136.10 319.18 137.46 319.33 138.39 319.59C139.31 319.84 139.94 320.24 140.58 321.03C141.22 321.82 141.69 323.14 142.20 324.34C142.71 325.54 143.57 326.96 143.65 328.24Z" fill="none" stroke="#111" stroke-width="0.75"/>
<path d="M142.56 328.37C142.57 329.44 142.04 330.54 141.73 331.44C141.41 332.34 141.31 333.05 140.68 333.76C140.05 334.46 138.83 335.39 137.96 335.66C137.09 335.94 136.42 335.67 135.48 335.39C134.55 335.11 133.23 334.59 132.35 333.99C131.47 333.40 130.61 332.88 130.21 331.84C129.80 330.81 129.86 329.07 129.90 327.78C129.93 326.49 129.99 325.10 130.42 324.09C130.84 323.07 131.71 322.36 132.45 321.70C133.20 321.04 133.94 320.37 134.89 320.12C135.84 319.88 137.29 319.92 138.14 320.20C139.00 320.49 139.43 321.05 140.02 321.85C140.60 322.65 141.22 323.90 141.64 324.99C142.06 326.08 142.54 327.29 142.56 328.37Z" fill="none" stroke="#111" stroke-width="0.75"/>
<path d="M141.47 327.99C141.42 328.90 141.01 329.91 140.79 330.85C140.57 331.78 140.68 332.95 140.16 333.59C139.63 334.22 138.41 334.57 137.65 334.65C136.89 334.74 136.41 334.37 135.61 334.10C134.81 333.83 133.54 333.53 132.85 333.05C132.16 332.58 131.83 332.07 131.46 331.26C131.09 330.45 130.63 329.26 130.64 328.20C130.65 327.14 131.10 325.85 131.54 324.91C131.98 323.96 132.62 323.07 133.26 322.53C133.90 321.99 134.68 321.82 135.37 321.67C136.06 321.53 136.66 321.42 137.38 321.66C138.10 321.89 139.08 322.45 139.70 323.08C140.31 323.70 140.78 324.58 141.07 325.40C141.37 326.22 141.52 327.08 141.47 327.99Z" fill="none" stroke="#111" stroke-width="0.75"/>
<path d="M141.04 328.29C140.94 328.99 140.50 329.40 140.20 330.05C139.90 330.70 139.71 331.60 139.25 332.19C138.79 332.78 138.08 333.34 137.42 333.58C136.76 333.82 135.92 333.79 135.30 333.60C134.68 333.42 134.16 332.95 133.70 332.47C133.25 331.98 132.96 331.44 132.59 330.69C132.23 329.94 131.52 328.88 131.50 327.98C131.49 327.08 132.17 326.03 132.49 325.31C132.81 324.59 132.91 324.18 133.42 323.66C133.93 323.13 134.82 322.41 135.52 322.17C136.23 321.94 137.03 321.94 137.65 322.24C138.27 322.54 138.70 323.39 139.23 323.99C139.76 324.59 140.50 325.13 140.80 325.84C141.11 326.56 141.14 327.58 141.04 328.29Z" fill="none" stroke="#111" stroke-width="0.75"/>
<path d="M144.67 328.00C144.68 329.74 144.69 331.70 144.16 333.24C143.63 334.77 142.53 336.11 141.51 337.21C140.49 338.32 139.29 339.42 138.03 339.87C136.77 340.32 135.18 340.41 133.96 339.91C132.75 339.40 131.65 337.99 130.73 336.81C129.81 335.64 129.14 334.32 128.44 332.85C127.75 331.38 126.62 329.65 126.57 328.00C126.53 326.35 127.49 324.47 128.16 322.97C128.83 321.46 129.65 320.21 130.60 318.97C131.55 317.72 132.63 315.93 133.86 315.49C135.09 315.05 136.66 315.90 137.99 316.35C139.33 316.80 140.86 317.10 141.88 318.18C142.89 319.25 143.62 321.17 144.08 322.81C144.55 324.45 144.66 326.26 144.67 328.00Z" fill="#000" fill-opacity="0.9"/>
<ellipse cx="135.3" cy="327" rx="1.0" ry="2.0" fill="#fff"/>
<path d="M279 282h1v1h-1zM288 305h1v1h-1zM275 262h1v1h-1zM277 269h1v1h-1zM281 253h1v1h-1zM284 251h1v1h-1zM285 259h1v1h-1zM284 282h1v1h-1zM281 264h1v1h-1zM278 256h1v1h-1zM291 284h1v1h-1zM293 281h1v1h-1zM284 265h1v1h-1zM281 248h1v1h-1zM288 291h1v1h-1zM291 299h1v1h-1zM287 279h1v1h-1zM277 259h1v1h-1zM287 304h1v1h-1zM285 263h1v1h-1zM287 293h1v1h-1zM275 287h1v1h-1zM276 275h1v1h-1zM285 275h1v1h-1zM273 281h1v1h-1zM274 286h1v1h-1zM271 266h1v1h-1zM279 262h1v1h-1zM283 279h1v1h-1zM293 282h1v1h-1zM288 255h1v1h-1zM288 289h1v1h-1zM290 298h1v1h-1zM277 252h1v1h-1zM278 263h1v1h-1zM290 241h1v1h-1zM282 291h1v1h-1zM281 250h1v1h-1zM277 283h1v1h-1zM286 271h1v1h-1zM284 298h1v1h-1zM280 308h1v1h-1zM276 306h1v1h-1zM274 297h1v1h-1zM282 248h1v1h-1zM283 283h1v1h-1zM285 276h1v1h-1zM281 269h1v1h-1zM283 295h1v1h-1zM285 286h1v1h-1zM283 298h1v1h-1zM275 259h1v1h-1zM276 268h1v1h-1zM293 268h1v1h-1zM283 270h1v1h-1zM271 254h1v1h-1zM278 259h1v1h-1zM280 266h1v1h-1zM281 246h1v1h-1zM288 282h1v1h-1zM278 266h1v1h-1zM277 241h1v1h-1zM286 266h1v1h-1zM288 300h1v1h-1zM274 255h1v1h-1zM285 264h1v1h-1zM278 267h1v1h-1zM284 251h1v1h-1zM282 293h1v1h-1zM279 268h1v1h-1zM285 291h1v1h-1zM288 282h1v1h-1zM292 263h1v1h-1zM292 284h1v1h-1zM280 249h1v1h-1zM291 279h1v1h-1zM285 301h1v1h-1zM280 288h1v1h-1zM287 302h1v1h-1zM284 306h1v1h-1zM279 273h1v1h-1zM278 258h1v1h-1zM292 279h1v1h-1zM282 277h1v1h-1zM283 248h1v1h-1zM279 281h1v1h-1zM275 270h1v1h-1zM280 257h1v1h-1zM274 263h1v1h-1zM283 283h1v1h-1zM273 277h1v1h-1zM286 244h1v1h-1zM274 283h1v1h-1zM286 284h1v1h-1zM292 286h1v1h-1zM290 274h1v1h-1zM282 259h1v1h-1zM283 268h1v1h-1zM278 285h1v1h-1zM284 267h1v1h-1zM283 280h1v1h-1zM285 262h1v1h-1zM286 266h1v1h-1zM284 265h1v1h-1zM294 249h1v1h-1zM288 257h1v1h-1zM292 252h1v1h-1zM286 271h1v1h-1zM288 251h1v1h-1zM280 282h1v1h-1zM287 263h1v1h-1zM271 268h1v1h-1zM278 275h1v1h-1zM279 256h1v1h-1zM281 298h1v1h-1zM285 267h1v1h-1zM286 249h1v1h-1zM278 273h1v1h-1zM280 263h1v1h-1zM282 305h1v1h-1zM282 281h1v1h-1zM280 289h1v1h-1zM273 267h1v1h-1zM290 276h1v1h-1zM283 311h1v1h-1zM271 294h1v1h-1zM274 281h1v1h-1zM286 277h1v1h-1zM280 289h1v1h-1zM285 289h1v1h-1zM288 285h1v1h-1zM293 267h1v1h-1zM271 243h1v1h-1zM281 252h1v1h-1zM280 276h1v1h-1zM291 253h1v1h-1zM285 251h1v1h-1zM291 269h1v1h-1zM295 278h1v1h-1zM277 267h1v1h-1zM278 279h1v1h-1zM289 279h1v1h-1zM280 269h1v1h-1zM293 258h1v1h-1zM287 259h1v1h-1zM277 286h1v1h-1zM273 303h1v1h-1zM292 257h1v1h-1zM275 272h1v1h-1zM280 262h1v1h-1zM281 287h1v1h-1zM280 274h1v1h-1zM279 273h1v1h-1zM283 268h1v1h-1zM283 262h1v1h-1zM284 246h1v1h-1zM285 271h1v1h-1zM285 273h1v1h-1zM282 276h1v1h-1zM280 274h1v1h-1zM270 261h1v1h-1zM284 251h1v1h-1zM296 299h1v1h-1zM273 303h1v1h-1zM285 285h1v1h-1zM291 265h1v1h-1zM284 290h1v1h-1zM278 271h1v1h-1zM282 281h1v1h-1zM276 273h1v1h-1zM278 289h1v1h-1zM279 287h1v1h-1zM282 265h1v1h-1zM287 284h1v1h-1zM280 292h1v1h-1zM290 244h1v1h-1zM287 241h1v1h-1zM283 289h1v1h-1zM285 283h1v1h-1zM282 286h1v1h-1zM275 307h1v1h-1zM270 271h1v1h-1zM273 269h1v1h-1zM278 255h1v1h-1zM289 264h1v1h-1zM278 274h1v1h-1zM287 284h1v1h-1zM280 279h1v1h-1zM283 273h1v1h-1zM278 278h1v1h-1zM273 291h1v1h-1zM287 270h1v1h-1zM279 241h1v1h-1zM281 290h1v1h-1zM272 286h1v1h-1zM278 306h1v1h-1zM285 296h1v1h-1zM281 271h1v1h-1zM277 301h1v1h-1zM280 277h1v1h-1zM275 278h1v1h-1zM276 277h1v1h-1zM290 265h1v1h-1zM276 280h1v1h-1zM283 262h1v1h-1zM273 277h1v1h-1zM285 279h1v1h-1zM290 281h1v1h-1zM285 252h1v1h-1zM281 271h1v1h-1zM278 287h1v1h-1zM280 284h1v1h-1zM279 282h1v1h-1zM288 283h1v1h-1zM288 277h1v1h-1zM274 291h1v1h-1zM280 257h1v1h-1zM291 275h1v1h-1zM281 252h1v1h-1zM288 273h1v1h-1zM277 286h1v1h-1zM288 288h1v1h-1zM288 292h1v1h-1zM276 258h1v1h-1zM285 297h1v1h-1zM297 258h1v1h-1zM282 265h1v1h-1zM283 264h1v1h-1zM283 273h1v1h-1zM288 276h1v1h-1zM294 293h1v1h-1zM286 269h1v1h-1zM285 263h1v1h-1zM283 266h1v1h-1zM288 268h1v1h-1zM283 291h1v1h-1zM284 274h1v1h-1zM275 277h1v1h-1zM289 274h1v1h-1zM280 285h1v1h-1zM294 279h1v1h-1zM281 262h1v1h-1zM282 250h1v1h-1zM278 261h1v1h-1zM291 247h1v1h-1zM282 264h1v1h-1zM275 281h1v1h-1zM288 268h1v1h-1zM280 275h1v1h-1zM286 279h1v1h-1z" fill="#2a2a2a"/>
<path d="M287 330h1v1h-1zM287 338h1v1h-1zM287 319h1v1h-1zM291 330h1v1h-1zM286 333h1v1h-1zM290 342h1v1h-1zM294 333h1v1h-1zM281 323h1v1h-1zM290 344h1v1h-1zM288 331h1v1h-1zM293 319h1v1h-1zM285 336h1v1h-1zM296 330h1v1h-1zM291 334h1v1h-1zM295 322h1v1h-1zM293 318h1v1h-1zM264 327h1v1h-1zM280 340h1v1h-1zM294 321h1v1h-1zM296 323h1v1h-1zM287 329h1v1h-1zM289 339h1v1h-1zM294 335h1v1h-1zM294 336h1v1h-1zM282 326h1v1h-1zM284 336h1v1h-1zM281 322h1v1h-1zM295 345h1v1h-1zM293 340h1v1h-1zM301 331h1v1h-1zM275 327h1v1h-1zM297 319h1v1h-1zM288 334h1v1h-1zM285 339h1v1h-1zM294 327h1v1h-1zM283 325h1v1h-1zM297 327h1v1h-1zM287 339h1v1h-1zM281 329h1v1h-1zM271 322h1v1h-1zM283 336h1v1h-1zM299 332h1v1h-1zM290 334h1v1h-1zM298 340h1v1h-1zM290 323h1v1h-1zM296 335h1v1h-1zM299 332h1v1h-1zM306 329h1v1h-1zM302 333h1v1h-1zM283 322h1v1h-1zM287 345h1v1h-1zM295 338h1v1h-1zM267 338h1v1h-1zM293 327h1v1h-1zM282 332h1v1h-1zM304 323h1v1h-1zM284 344h1v1h-1zM284 329h1v1h-1zM289 321h1v1h-1zM290 321h1v1h-1z" fill="#2a2a2a"/>
<path d="M290.95 262.42C292.14 263.46 290.85 264.54 291.10 268.25C291.35 271.97 292.09 279.34 292.45 284.70C292.81 290.06 292.93 296.04 293.25 300.42C293.58 304.80 297.15 309.27 294.38 310.99C291.61 312.70 279.35 312.54 276.64 310.70C273.93 308.86 277.67 304.24 278.11 299.95C278.54 295.66 278.57 290.36 279.26 284.95C279.94 279.55 281.44 271.33 282.23 267.50C283.01 263.67 282.52 262.84 283.97 261.99C285.43 261.14 289.77 261.37 290.95 262.42Z" fill="none" stroke="#111" stroke-width="0.85"/>
<path d="M288.34 286.50C288.38 287.18 287.98 288.23 287.50 288.66C287.03 289.08 286.11 289.11 285.50 289.05C284.89 288.99 284.28 288.74 283.81 288.32C283.35 287.89 282.77 287.15 282.73 286.50C282.69 285.85 283.11 284.91 283.57 284.43C284.04 283.94 284.88 283.58 285.50 283.60C286.12 283.63 286.80 284.11 287.27 284.60C287.74 285.08 288.30 285.82 288.34 286.50Z" fill="none" stroke="#111" stroke-width="0.9"/>
<path d="M288.18 297.00C288.16 297.61 288.00 298.38 287.64 298.78C287.28 299.19 286.55 299.43 286.00 299.43C285.45 299.44 284.73 299.21 284.34 298.80C283.95 298.40 283.61 297.57 283.64 297.00C283.67 296.43 284.12 295.76 284.51 295.39C284.91 295.01 285.46 294.79 286.00 294.74C286.54 294.70 287.37 294.74 287.74 295.11C288.10 295.49 288.20 296.39 288.18 297.00Z" fill="none" stroke="#111" stroke-width="0.9"/>
<path d="M261.89 312.91C264.14 311.05 269.13 312.06 272.13 311.60C275.14 311.15 276.91 310.36 279.89 310.18C282.88 310.00 287.31 309.78 290.02 310.53C292.72 311.29 294.82 311.81 296.12 314.71C297.43 317.61 297.96 323.44 297.83 327.95C297.70 332.45 296.80 338.39 295.35 341.74C293.89 345.10 291.44 347.23 289.10 348.10C286.76 348.97 283.55 348.31 281.31 346.95C279.07 345.59 277.54 342.15 275.63 339.95C273.72 337.75 272.06 335.02 269.85 333.75C267.64 332.49 264.26 334.20 262.40 332.37C260.53 330.54 258.74 326.02 258.65 322.78C258.57 319.54 259.64 314.78 261.89 312.91Z" fill="none" stroke="#111" stroke-width="0.85"/>
<path d="M263.53 313.90C265.60 312.10 269.70 313.08 272.52 312.66C275.33 312.23 277.57 311.55 280.41 311.36C283.25 311.17 287.04 310.74 289.57 311.53C292.10 312.31 294.41 313.35 295.59 316.05C296.78 318.76 296.84 323.58 296.67 327.76C296.50 331.93 295.90 337.92 294.56 341.11C293.22 344.30 290.88 346.14 288.65 346.91C286.42 347.68 283.15 347.02 281.17 345.72C279.19 344.42 278.54 341.17 276.76 339.12C274.99 337.07 272.74 334.64 270.53 333.40C268.32 332.16 265.26 333.34 263.52 331.68C261.77 330.03 260.07 326.44 260.07 323.47C260.08 320.51 261.46 315.70 263.53 313.90Z" fill="none" stroke="#111" stroke-width="0.85"/>
<path d="M264.79 314.50C266.66 312.91 270.68 314.25 273.33 313.89C275.97 313.54 278.02 312.66 280.68 312.39C283.34 312.12 286.95 311.56 289.29 312.29C291.62 313.01 293.65 314.11 294.67 316.73C295.70 319.36 295.52 324.10 295.44 328.02C295.36 331.94 295.39 337.20 294.19 340.26C292.98 343.32 290.42 345.65 288.20 346.39C285.98 347.13 282.80 346.03 280.86 344.70C278.91 343.38 278.12 340.26 276.53 338.42C274.95 336.58 273.30 334.73 271.34 333.65C269.37 332.56 266.27 333.61 264.73 331.91C263.19 330.21 262.10 326.35 262.11 323.45C262.12 320.55 262.92 316.09 264.79 314.50Z" fill="none" stroke="#111" stroke-width="0.85"/>
<path d="M269.72 323.02C269.75 324.43 269.91 326.24 269.49 327.39C269.06 328.55 267.93 329.59 267.16 329.94C266.40 330.30 265.64 329.99 264.90 329.53C264.16 329.06 263.24 328.24 262.73 327.16C262.23 326.08 261.87 324.44 261.85 323.06C261.83 321.67 262.14 320.03 262.61 318.86C263.09 317.69 263.95 316.42 264.69 316.04C265.43 315.67 266.30 316.12 267.07 316.61C267.83 317.09 268.84 317.87 269.28 318.94C269.72 320.01 269.69 321.61 269.72 323.02Z" fill="none" stroke="#111" stroke-width="0.8"/>
<path d="M268.21 322.98C268.20 323.71 267.92 324.57 267.66 325.21C267.40 325.84 267.08 326.57 266.67 326.79C266.26 327.00 265.61 326.71 265.21 326.48C264.80 326.26 264.46 326.01 264.22 325.42C263.97 324.82 263.74 323.67 263.76 322.91C263.77 322.15 264.10 321.48 264.33 320.85C264.56 320.22 264.73 319.35 265.14 319.13C265.55 318.90 266.33 319.22 266.76 319.50C267.20 319.78 267.51 320.24 267.75 320.82C268.00 321.40 268.23 322.25 268.21 322.98Z" fill="none" stroke="#111" stroke-width="0.8"/>
<path d="M299.34 328.50C299.41 331.13 298.97 334.22 298.19 336.56C297.42 338.90 296.03 341.04 294.66 342.55C293.29 344.06 291.60 345.19 290.00 345.63C288.40 346.07 286.70 345.64 285.07 345.17C283.44 344.70 281.53 344.28 280.21 342.80C278.90 341.32 277.92 338.67 277.17 336.29C276.42 333.90 275.68 331.08 275.70 328.50C275.72 325.92 276.53 323.20 277.27 320.79C278.01 318.38 278.85 315.62 280.14 314.05C281.42 312.47 283.33 311.95 285.00 311.35C286.67 310.75 288.50 309.96 290.14 310.42C291.78 310.88 293.56 312.38 294.83 314.10C296.11 315.83 297.02 318.36 297.77 320.76C298.52 323.16 299.27 325.87 299.34 328.50Z" fill="#000" fill-opacity="0.35"/>
<path d="M299.19 328.75C299.25 331.42 298.78 334.06 298.07 336.42C297.35 338.78 296.17 341.34 294.87 342.91C293.57 344.48 291.86 345.43 290.26 345.86C288.66 346.28 286.97 346.04 285.28 345.48C283.59 344.92 281.49 344.10 280.11 342.51C278.73 340.93 277.73 338.32 276.99 335.95C276.26 333.58 275.65 330.78 275.69 328.31C275.73 325.84 276.47 323.54 277.23 321.12C277.99 318.70 278.94 315.44 280.27 313.79C281.60 312.15 283.56 311.83 285.21 311.24C286.86 310.66 288.55 309.84 290.19 310.26C291.84 310.68 293.85 312.08 295.09 313.77C296.34 315.45 296.99 317.87 297.67 320.37C298.35 322.87 299.12 326.07 299.19 328.75Z" fill="none" stroke="#111" stroke-width="0.75"/>
<path d="M298.71 328.44C298.69 330.96 297.87 333.90 297.18 336.13C296.48 338.36 295.72 340.46 294.54 341.83C293.37 343.20 291.64 344.02 290.12 344.37C288.60 344.71 287.04 344.35 285.41 343.90C283.78 343.45 281.60 343.05 280.32 341.66C279.05 340.28 278.39 337.81 277.76 335.57C277.13 333.34 276.45 330.64 276.54 328.25C276.63 325.87 277.56 323.42 278.30 321.27C279.04 319.13 279.86 316.84 281.00 315.38C282.14 313.92 283.68 313.10 285.13 312.52C286.58 311.94 288.18 311.49 289.71 311.90C291.23 312.31 292.99 313.46 294.25 314.98C295.52 316.50 296.54 318.78 297.28 321.02C298.03 323.26 298.73 325.92 298.71 328.44Z" fill="none" stroke="#111" stroke-width="0.75"/>
<path d="M297.60 328.58C297.61 330.89 297.27 333.43 296.68 335.46C296.10 337.49 295.23 339.38 294.08 340.76C292.94 342.15 291.27 343.36 289.80 343.76C288.34 344.16 286.73 343.66 285.30 343.16C283.86 342.65 282.33 342.02 281.20 340.71C280.07 339.39 279.22 337.33 278.53 335.28C277.84 333.23 276.96 330.69 277.05 328.40C277.13 326.10 278.36 323.54 279.03 321.52C279.70 319.50 280.02 317.66 281.07 316.29C282.13 314.92 283.93 313.83 285.34 313.27C286.75 312.71 288.13 312.47 289.55 312.91C290.97 313.36 292.67 314.49 293.84 315.93C295.02 317.37 295.97 319.45 296.59 321.55C297.22 323.66 297.58 326.26 297.60 328.58Z" fill="none" stroke="#111" stroke-width="0.75"/>
<path d="M297.10 328.20C297.08 330.29 296.54 332.73 295.94 334.68C295.35 336.62 294.57 338.65 293.54 339.88C292.51 341.11 291.01 341.77 289.76 342.06C288.51 342.35 287.38 341.99 286.03 341.60C284.69 341.22 282.80 340.92 281.69 339.75C280.58 338.58 280.02 336.48 279.39 334.58C278.76 332.67 277.96 330.31 277.92 328.31C277.89 326.30 278.54 324.48 279.18 322.56C279.82 320.63 280.76 318.11 281.77 316.75C282.78 315.40 283.86 314.86 285.24 314.43C286.62 314.00 288.70 313.69 290.07 314.16C291.43 314.63 292.44 315.94 293.44 317.27C294.44 318.60 295.46 320.32 296.07 322.14C296.68 323.96 297.12 326.11 297.10 328.20Z" fill="none" stroke="#111" stroke-width="0.75"/>
<path d="M296.73 328.43C296.87 330.33 296.37 332.44 295.75 334.18C295.13 335.92 294.04 337.72 293.03 338.86C292.01 340.00 290.81 340.71 289.67 341.03C288.54 341.35 287.52 341.12 286.22 340.79C284.92 340.45 282.84 340.09 281.85 339.04C280.87 338.00 280.79 336.29 280.33 334.52C279.87 332.75 279.10 330.40 279.08 328.41C279.05 326.43 279.74 324.35 280.19 322.58C280.64 320.82 280.92 318.91 281.78 317.84C282.65 316.78 284.03 316.60 285.40 316.19C286.76 315.78 288.67 315.13 289.98 315.37C291.29 315.62 292.42 316.43 293.24 317.67C294.06 318.90 294.33 320.98 294.91 322.78C295.49 324.57 296.59 326.53 296.73 328.43Z" fill="none" stroke="#111" stroke-width="0.75"/>
<path d="M295.35 328.16C295.40 329.98 295.44 332.27 294.94 333.94C294.45 335.61 293.36 337.15 292.39 338.16C291.41 339.16 290.09 339.77 289.07 339.97C288.05 340.17 287.23 339.68 286.24 339.36C285.25 339.05 284.08 339.06 283.13 338.07C282.18 337.08 281.14 335.06 280.56 333.42C279.98 331.77 279.63 329.83 279.65 328.20C279.67 326.57 280.12 325.28 280.68 323.64C281.23 322.00 282.15 319.47 282.98 318.36C283.82 317.26 284.59 317.40 285.68 317.01C286.76 316.63 288.40 315.75 289.49 316.04C290.59 316.34 291.37 317.61 292.23 318.78C293.08 319.94 294.10 321.48 294.62 323.05C295.14 324.61 295.29 326.35 295.35 328.16Z" fill="none" stroke="#111" stroke-width="0.75"/>
<path d="M294.66 328.56C294.73 330.13 294.95 331.65 294.57 333.10C294.18 334.56 293.23 336.35 292.35 337.31C291.48 338.28 290.33 338.71 289.31 338.87C288.29 339.04 287.18 338.55 286.22 338.31C285.26 338.07 284.31 338.29 283.54 337.43C282.77 336.58 282.09 334.68 281.61 333.18C281.13 331.67 280.75 329.95 280.66 328.39C280.57 326.83 280.61 325.32 281.07 323.82C281.53 322.32 282.55 320.33 283.41 319.37C284.26 318.42 285.24 318.36 286.22 318.09C287.19 317.83 288.27 317.54 289.25 317.78C290.23 318.02 291.28 318.53 292.10 319.52C292.91 320.51 293.72 322.22 294.15 323.72C294.58 325.23 294.59 327.00 294.66 328.56Z" fill="none" stroke="#111" stroke-width="0.75"/>
<path d="M293.81 328.40C293.87 329.85 293.89 331.58 293.60 332.81C293.30 334.05 292.77 334.90 292.02 335.79C291.27 336.68 289.99 337.78 289.09 338.14C288.19 338.50 287.54 338.31 286.62 337.96C285.70 337.61 284.30 336.96 283.58 336.03C282.86 335.10 282.69 333.60 282.31 332.37C281.92 331.13 281.28 329.91 281.26 328.61C281.23 327.31 281.74 325.96 282.17 324.57C282.60 323.19 283.12 321.28 283.82 320.32C284.53 319.35 285.52 318.99 286.38 318.77C287.24 318.56 288.16 318.74 289.01 319.02C289.85 319.30 290.72 319.58 291.43 320.43C292.14 321.28 292.87 322.79 293.26 324.12C293.66 325.45 293.76 326.95 293.81 328.40Z" fill="none" stroke="#111" stroke-width="0.75"/>
<path d="M293.29 328.52C293.31 329.72 292.92 331.18 292.64 332.27C292.35 333.36 292.13 334.26 291.57 335.04C291.02 335.83 290.22 336.72 289.33 336.97C288.44 337.22 287.13 336.85 286.22 336.54C285.31 336.22 284.47 335.84 283.89 335.07C283.30 334.30 282.98 332.96 282.70 331.92C282.43 330.88 282.15 329.96 282.23 328.81C282.31 327.66 282.82 326.23 283.17 325.01C283.52 323.80 283.73 322.23 284.34 321.50C284.96 320.77 286.12 320.88 286.88 320.64C287.64 320.40 288.13 319.90 288.90 320.05C289.67 320.21 290.91 320.72 291.51 321.57C292.12 322.41 292.22 323.95 292.51 325.11C292.81 326.27 293.27 327.33 293.29 328.52Z" fill="none" stroke="#111" stroke-width="0.75"/>
<path d="M293.01 328.69C292.93 329.71 292.30 330.63 291.95 331.51C291.59 332.38 291.41 333.25 290.86 333.95C290.31 334.64 289.30 335.50 288.67 335.68C288.03 335.86 287.77 335.24 287.06 335.04C286.36 334.85 284.97 335.08 284.44 334.49C283.92 333.91 284.22 332.55 283.90 331.52C283.58 330.49 282.57 329.40 282.53 328.31C282.48 327.22 283.25 325.94 283.61 324.96C283.97 323.97 284.16 322.98 284.67 322.39C285.18 321.80 285.91 321.69 286.68 321.42C287.44 321.16 288.54 320.65 289.26 320.79C289.99 320.92 290.49 321.46 291.02 322.23C291.54 323.00 292.08 324.33 292.41 325.41C292.74 326.49 293.09 327.68 293.01 328.69Z" fill="none" stroke="#111" stroke-width="0.75"/>
<path d="M291.89 328.41C291.94 329.29 291.98 330.14 291.72 331.03C291.45 331.92 290.83 333.14 290.28 333.77C289.73 334.40 288.96 334.76 288.39 334.82C287.83 334.88 287.36 334.37 286.88 334.13C286.39 333.90 285.92 333.99 285.46 333.44C285.00 332.89 284.49 331.62 284.14 330.84C283.78 330.07 283.36 329.61 283.34 328.78C283.32 327.95 283.68 326.74 284.02 325.87C284.35 324.99 284.81 324.17 285.33 323.55C285.85 322.93 286.56 322.44 287.14 322.15C287.71 321.86 288.24 321.56 288.77 321.78C289.30 322.00 289.87 322.79 290.31 323.45C290.74 324.11 291.12 324.91 291.38 325.74C291.64 326.57 291.83 327.53 291.89 328.41Z" fill="none" stroke="#111" stroke-width="0.75"/>
<path d="M295.60 328.00C295.67 329.81 295.42 331.89 294.99 333.58C294.56 335.27 293.83 336.91 293.02 338.12C292.21 339.33 291.16 340.43 290.14 340.83C289.12 341.24 287.94 340.97 286.90 340.54C285.86 340.11 284.64 339.50 283.91 338.27C283.19 337.03 282.95 334.83 282.55 333.12C282.15 331.41 281.64 329.80 281.53 328.00C281.41 326.20 281.44 323.95 281.86 322.29C282.28 320.63 283.22 319.23 284.06 318.05C284.89 316.88 285.88 315.51 286.87 315.23C287.86 314.95 288.99 315.87 289.99 316.38C290.98 316.89 292.08 317.20 292.85 318.26C293.62 319.32 294.16 321.12 294.61 322.74C295.07 324.36 295.54 326.19 295.60 328.00Z" fill="#000" fill-opacity="0.9"/>
<ellipse cx="287.5" cy="326.5" rx="1.0" ry="2.0" fill="#fff"/>
<path d="M145 498h1v1h-1zM139 491h1v1h-1zM144 457h1v1h-1zM149 459h1v1h-1zM129 458h1v1h-1zM145 466h1v1h-1zM152 462h1v1h-1zM125 471h1v1h-1zM142 491h1v1h-1zM130 492h1v1h-1zM149 451h1v1h-1zM142 498h1v1h-1zM126 480h1v1h-1zM123 474h1v1h-1zM151 463h1v1h-1zM144 433h1v1h-1zM146 464h1v1h-1zM145 468h1v1h-1zM145 452h1v1h-1zM139 437h1v1h-1zM151 462h1v1h-1zM147 454h1v1h-1zM130 460h1v1h-1zM145 470h1v1h-1zM146 480h1v1h-1zM130 454h1v1h-1zM137 440h1v1h-1zM142 520h1v1h-1zM145 473h1v1h-1zM129 460h1v1h-1zM147 463h1v1h-1zM121 477h1v1h-1zM148 468h1v1h-1zM133 437h1v1h-1zM130 458h1v1h-1zM135 438h1v1h-1zM150 470h1v1h-1zM136 500h1v1h-1zM150 463h1v1h-1zM127 489h1v1h-1zM129 453h1v1h-1zM135 443h1v1h-1zM128 484h1v1h-1zM134 490h1v1h-1zM149 452h1v1h-1zM155 467h1v1h-1zM145 476h1v1h-1zM126 458h1v1h-1zM146 495h1v1h-1zM136 498h1v1h-1zM146 454h1v1h-1zM148 466h1v1h-1zM128 479h1v1h-1zM129 454h1v1h-1zM147 454h1v1h-1zM129 443h1v1h-1zM145 499h1v1h-1zM129 452h1v1h-1zM143 486h1v1h-1zM151 452h1v1h-1zM129 465h1v1h-1zM144 443h1v1h-1zM131 451h1v1h-1zM151 461h1v1h-1zM130 494h1v1h-1zM146 459h1v1h-1zM125 472h1v1h-1zM151 470h1v1h-1zM126 460h1v1h-1zM139 436h1v1h-1zM146 471h1v1h-1zM129 482h1v1h-1zM146 469h1v1h-1zM146 475h1v1h-1zM144 508h1v1h-1zM128 450h1v1h-1zM123 469h1v1h-1zM144 440h1v1h-1zM145 469h1v1h-1zM128 466h1v1h-1zM132 451h1v1h-1zM143 494h1v1h-1zM133 448h1v1h-1zM128 505h1v1h-1zM141 512h1v1h-1zM148 464h1v1h-1zM130 484h1v1h-1zM131 492h1v1h-1zM145 479h1v1h-1zM145 490h1v1h-1zM145 433h1v1h-1zM139 495h1v1h-1zM140 500h1v1h-1zM129 471h1v1h-1zM149 433h1v1h-1zM137 498h1v1h-1zM136 497h1v1h-1zM142 450h1v1h-1zM147 469h1v1h-1zM130 482h1v1h-1zM128 455h1v1h-1zM133 506h1v1h-1zM141 509h1v1h-1zM146 466h1v1h-1zM145 490h1v1h-1zM132 484h1v1h-1zM149 471h1v1h-1zM138 442h1v1h-1zM124 459h1v1h-1zM124 460h1v1h-1zM150 446h1v1h-1zM141 444h1v1h-1zM148 461h1v1h-1zM132 478h1v1h-1zM143 488h1v1h-1zM120 477h1v1h-1zM145 468h1v1h-1zM126 453h1v1h-1zM146 454h1v1h-1zM146 473h1v1h-1zM158 460h1v1h-1zM130 470h1v1h-1zM138 443h1v1h-1zM147 439h1v1h-1zM147 470h1v1h-1zM141 511h1v1h-1zM149 448h1v1h-1zM147 451h1v1h-1zM134 503h1v1h-1zM149 453h1v1h-1zM145 480h1v1h-1zM144 474h1v1h-1zM148 484h1v1h-1zM145 477h1v1h-1zM127 436h1v1h-1zM129 444h1v1h-1zM150 478h1v1h-1zM132 480h1v1h-1zM146 482h1v1h-1zM143 450h1v1h-1zM134 506h1v1h-1zM145 483h1v1h-1zM131 480h1v1h-1zM145 483h1v1h-1zM125 447h1v1h-1zM135 519h1v1h-1zM139 434h1v1h-1zM135 436h1v1h-1zM128 490h1v1h-1zM147 464h1v1h-1zM134 444h1v1h-1zM136 440h1v1h-1zM145 438h1v1h-1zM145 464h1v1h-1zM145 480h1v1h-1zM151 443h1v1h-1zM131 457h1v1h-1zM144 457h1v1h-1zM122 463h1v1h-1zM128 482h1v1h-1zM141 435h1v1h-1zM146 478h1v1h-1zM130 480h1v1h-1zM129 459h1v1h-1zM123 467h1v1h-1zM134 435h1v1h-1zM130 480h1v1h-1zM135 445h1v1h-1zM143 487h1v1h-1zM148 439h1v1h-1zM134 443h1v1h-1zM144 468h1v1h-1zM146 467h1v1h-1zM135 441h1v1h-1zM145 512h1v1h-1zM138 493h1v1h-1zM141 487h1v1h-1zM126 435h1v1h-1zM129 465h1v1h-1zM128 469h1v1h-1zM145 470h1v1h-1zM140 491h1v1h-1zM128 501h1v1h-1zM147 447h1v1h-1zM130 480h1v1h-1zM148 472h1v1h-1zM152 438h1v1h-1zM120 468h1v1h-1zM145 454h1v1h-1zM132 438h1v1h-1zM145 472h1v1h-1zM141 445h1v1h-1zM130 476h1v1h-1zM153 447h1v1h-1zM130 485h1v1h-1zM128 438h1v1h-1zM144 512h1v1h-1zM149 464h1v1h-1zM145 479h1v1h-1zM145 492h1v1h-1z" fill="#2a2a2a"/>
<path d="M140 512h1v1h-1zM135 502h1v1h-1zM146 509h1v1h-1zM142 509h1v1h-1zM146 512h1v1h-1zM140 520h1v1h-1zM135 510h1v1h-1zM136 513h1v1h-1zM142 514h1v1h-1zM138 519h1v1h-1zM139 503h1v1h-1zM149 497h1v1h-1zM154 499h1v1h-1zM125 506h1v1h-1zM145 504h1v1h-1zM144 521h1v1h-1zM131 511h1v1h-1zM142 515h1v1h-1zM132 496h1v1h-1zM132 504h1v1h-1zM138 512h1v1h-1zM131 503h1v1h-1zM132 513h1v1h-1zM141 516h1v1h-1zM145 521h1v1h-1zM133 523h1v1h-1zM127 517h1v1h-1zM136 496h1v1h-1zM147 499h1v1h-1zM140 506h1v1h-1zM130 496h1v1h-1zM137 493h1v1h-1zM124 510h1v1h-1zM149 518h1v1h-1zM146 523h1v1h-1zM144 507h1v1h-1zM139 513h1v1h-1zM132 511h1v1h-1zM136 500h1v1h-1zM124 512h1v1h-1zM143 520h1v1h-1zM148 515h1v1h-1zM138 507h1v1h-1zM134 518h1v1h-1zM137 529h1v1h-1zM151 520h1v1h-1zM136 527h1v1h-1zM150 501h1v1h-1zM141 523h1v1h-1zM130 529h1v1h-1zM135 517h1v1h-1zM134 514h1v1h-1zM139 526h1v1h-1zM134 517h1v1h-1zM143 509h1v1h-1z" fill="#2a2a2a"/>
<path d="M138.31 439.64C139.51 440.26 141.94 440.63 143.23 443.25C144.52 445.86 145.52 450.88 146.05 455.32C146.58 459.77 146.41 465.45 146.42 469.91C146.43 474.37 146.22 478.37 146.11 482.09C146.00 485.82 148.49 490.70 145.78 492.27C143.06 493.85 132.55 493.30 129.82 491.54C127.10 489.79 129.60 485.32 129.43 481.74C129.26 478.16 128.73 474.45 128.79 470.08C128.85 465.70 129.11 460.03 129.80 455.48C130.49 450.93 131.88 445.43 132.92 442.77C133.96 440.11 135.13 440.05 136.03 439.53C136.93 439.01 137.11 439.02 138.31 439.64Z" fill="none" stroke="#111" stroke-width="0.85"/>
<path d="M138.61 442.41C139.72 443.05 141.69 443.17 142.83 445.49C143.96 447.81 144.88 452.37 145.43 456.33C145.97 460.30 146.02 465.31 146.11 469.27C146.20 473.23 146.06 476.75 145.95 480.09C145.85 483.44 148.01 487.72 145.50 489.32C142.99 490.93 133.53 491.27 130.92 489.74C128.31 488.20 130.16 483.43 129.87 480.10C129.58 476.76 129.13 473.76 129.18 469.72C129.24 465.68 129.61 459.90 130.20 455.87C130.78 451.84 131.69 447.91 132.68 445.54C133.67 443.18 135.17 442.18 136.16 441.66C137.15 441.14 137.50 441.77 138.61 442.41Z" fill="none" stroke="#111" stroke-width="0.85"/>
<path d="M141.43 446.97C143.11 449.04 143.67 454.78 144.16 459.52C144.66 464.25 144.53 470.60 144.40 475.37C144.28 480.15 145.16 486.11 143.40 488.19C141.65 490.27 135.62 490.02 133.87 487.83C132.13 485.65 133.05 479.65 132.94 475.08C132.84 470.52 133.04 465.12 133.24 460.46C133.43 455.80 132.73 449.37 134.10 447.12C135.47 444.87 139.75 444.90 141.43 446.97Z" fill="none" stroke="#111" stroke-width="0.85"/>
<path d="M135 462 l2 -2 l1.5 4 l-1 4 l-2.5 0 z" fill="none" stroke="#111" stroke-width="0.9"/>
<path d="M120.89 493.64C122.35 490.97 124.95 492.03 127.86 491.59C130.77 491.14 135.20 490.73 138.34 490.96C141.48 491.18 144.65 490.93 146.71 492.94C148.76 494.95 150.08 499.37 150.67 503.01C151.26 506.65 151.08 511.44 150.24 514.80C149.40 518.15 147.61 521.28 145.63 523.12C143.66 524.97 141.24 525.68 138.40 525.89C135.56 526.10 131.20 525.69 128.61 524.37C126.02 523.06 124.44 520.77 122.86 517.98C121.27 515.19 119.43 511.68 119.10 507.63C118.77 503.57 119.43 496.31 120.89 493.64Z" fill="none" stroke="#111" stroke-width="0.85"/>
<path d="M121.74 494.80C123.13 492.16 125.70 492.77 128.39 492.32C131.09 491.86 134.88 491.81 137.90 492.07C140.92 492.33 144.63 491.95 146.52 493.88C148.41 495.80 148.88 500.12 149.23 503.63C149.59 507.13 149.32 511.82 148.64 514.91C147.96 517.99 146.91 520.56 145.15 522.13C143.39 523.71 140.68 524.17 138.09 524.34C135.51 524.52 131.95 524.42 129.63 523.19C127.30 521.95 125.72 519.46 124.12 516.95C122.52 514.45 120.45 511.87 120.05 508.18C119.65 504.49 120.35 497.45 121.74 494.80Z" fill="none" stroke="#111" stroke-width="0.85"/>
<path d="M126.93 503.00C126.91 504.34 126.57 505.84 126.12 506.97C125.68 508.10 124.97 509.36 124.25 509.76C123.54 510.16 122.57 509.81 121.82 509.37C121.07 508.93 120.21 508.19 119.75 507.13C119.29 506.07 119.03 504.34 119.05 503.00C119.08 501.66 119.46 500.18 119.91 499.07C120.36 497.96 121.05 496.74 121.76 496.34C122.48 495.93 123.44 496.22 124.18 496.65C124.92 497.08 125.76 497.85 126.21 498.91C126.67 499.97 126.94 501.66 126.93 503.00Z" fill="none" stroke="#111" stroke-width="0.9"/>
<path d="M148.67 509.00C148.70 511.33 149.06 514.09 148.31 516.04C147.57 517.98 145.63 519.27 144.20 520.67C142.77 522.06 141.35 523.95 139.72 524.42C138.10 524.89 136.11 524.09 134.44 523.48C132.77 522.88 131.17 522.05 129.71 520.81C128.24 519.58 126.38 518.03 125.65 516.06C124.92 514.09 125.28 511.31 125.35 509.00C125.41 506.69 125.33 504.19 126.03 502.18C126.73 500.17 128.16 498.30 129.55 496.93C130.93 495.56 132.66 494.47 134.34 493.96C136.03 493.45 138.02 493.35 139.67 493.90C141.32 494.45 142.83 495.90 144.25 497.25C145.67 498.61 147.43 500.09 148.17 502.05C148.91 504.01 148.65 506.67 148.67 509.00Z" fill="#000" fill-opacity="0.35"/>
<path d="M148.31 508.71C148.26 511.05 148.76 514.24 148.08 516.28C147.39 518.32 145.56 519.54 144.20 520.96C142.83 522.38 141.57 524.40 139.90 524.80C138.22 525.20 135.87 523.97 134.14 523.36C132.41 522.74 130.99 522.32 129.51 521.11C128.03 519.90 125.95 518.13 125.28 516.09C124.60 514.06 125.28 511.18 125.47 508.90C125.66 506.63 125.67 504.44 126.41 502.46C127.15 500.48 128.62 498.44 129.92 497.04C131.22 495.63 132.54 494.56 134.22 494.03C135.89 493.49 138.36 493.28 139.97 493.83C141.58 494.38 142.46 495.90 143.86 497.30C145.25 498.71 147.59 500.33 148.33 502.23C149.07 504.13 148.35 506.36 148.31 508.71Z" fill="none" stroke="#111" stroke-width="0.75"/>
<path d="M147.93 508.68C148.00 510.91 148.11 513.79 147.43 515.69C146.76 517.59 145.21 518.77 143.87 520.07C142.54 521.38 140.98 523.14 139.45 523.52C137.91 523.91 136.15 522.97 134.66 522.39C133.17 521.80 131.95 521.13 130.53 520.04C129.10 518.95 126.84 517.72 126.11 515.85C125.37 513.98 126.04 511.08 126.11 508.81C126.17 506.54 125.86 504.02 126.50 502.23C127.13 500.44 128.52 499.25 129.90 498.06C131.28 496.87 133.14 495.64 134.78 495.10C136.42 494.56 138.28 494.29 139.76 494.83C141.24 495.36 142.43 497.05 143.64 498.30C144.86 499.55 146.34 500.61 147.05 502.34C147.77 504.07 147.87 506.46 147.93 508.68Z" fill="none" stroke="#111" stroke-width="0.75"/>
<path d="M146.78 509.00C146.81 510.93 147.70 513.18 147.07 514.89C146.43 516.60 144.24 518.03 142.96 519.26C141.69 520.48 140.75 521.83 139.40 522.24C138.05 522.65 136.36 522.20 134.87 521.72C133.38 521.23 131.73 520.44 130.45 519.32C129.17 518.21 127.77 516.80 127.20 515.05C126.64 513.30 126.99 510.83 127.06 508.82C127.14 506.80 127.09 504.64 127.67 502.95C128.25 501.25 129.38 499.86 130.56 498.64C131.73 497.43 133.25 496.11 134.70 495.66C136.15 495.21 137.84 495.44 139.25 495.94C140.66 496.44 141.90 497.45 143.17 498.67C144.44 499.90 146.28 501.56 146.88 503.28C147.48 505.00 146.75 507.06 146.78 509.00Z" fill="none" stroke="#111" stroke-width="0.75"/>
<path d="M146.55 508.75C146.51 510.68 146.50 513.36 145.94 514.96C145.38 516.56 144.28 517.22 143.19 518.35C142.10 519.48 140.76 521.36 139.41 521.74C138.07 522.12 136.55 521.19 135.11 520.61C133.67 520.03 131.97 519.31 130.75 518.27C129.52 517.22 128.23 515.84 127.75 514.35C127.28 512.86 127.82 511.17 127.87 509.32C127.92 507.48 127.50 504.95 128.06 503.26C128.61 501.57 130.13 500.32 131.21 499.20C132.28 498.08 133.14 496.91 134.49 496.53C135.84 496.15 137.88 496.48 139.31 496.94C140.73 497.40 141.90 498.23 143.05 499.30C144.19 500.37 145.58 501.76 146.16 503.34C146.75 504.91 146.59 506.81 146.55 508.75Z" fill="none" stroke="#111" stroke-width="0.75"/>
<path d="M145.62 508.70C145.66 510.34 146.06 512.39 145.49 513.94C144.91 515.49 143.30 516.86 142.17 518.00C141.05 519.13 139.87 520.39 138.72 520.74C137.57 521.09 136.43 520.59 135.28 520.11C134.12 519.63 132.89 518.89 131.79 517.85C130.68 516.81 129.22 515.40 128.64 513.86C128.06 512.33 128.33 510.37 128.32 508.65C128.32 506.93 128.06 505.00 128.61 503.56C129.17 502.12 130.61 500.96 131.66 500.03C132.70 499.09 133.66 498.29 134.88 497.95C136.10 497.62 137.73 497.67 138.99 498.04C140.24 498.41 141.34 499.15 142.39 500.17C143.45 501.18 144.76 502.71 145.30 504.13C145.83 505.55 145.59 507.07 145.62 508.70Z" fill="none" stroke="#111" stroke-width="0.75"/>
<path d="M144.56 509.14C144.55 510.69 144.75 512.65 144.24 514.00C143.73 515.35 142.36 516.31 141.50 517.25C140.63 518.20 140.09 519.40 139.03 519.66C137.97 519.91 136.34 519.26 135.14 518.79C133.94 518.32 132.86 517.69 131.83 516.83C130.80 515.96 129.44 514.85 128.98 513.61C128.51 512.38 128.95 510.96 129.06 509.39C129.16 507.83 129.15 505.68 129.60 504.23C130.06 502.77 130.92 501.51 131.79 500.67C132.66 499.84 133.65 499.55 134.83 499.22C136.01 498.89 137.71 498.40 138.89 498.71C140.07 499.02 141.00 500.08 141.90 501.08C142.80 502.08 143.84 503.36 144.28 504.70C144.73 506.05 144.57 507.59 144.56 509.14Z" fill="none" stroke="#111" stroke-width="0.75"/>
<path d="M143.89 509.32C143.85 510.86 144.13 512.42 143.76 513.56C143.39 514.70 142.46 515.39 141.65 516.17C140.85 516.95 139.98 517.91 138.91 518.23C137.84 518.56 136.33 518.48 135.23 518.12C134.12 517.75 133.21 516.86 132.29 516.03C131.37 515.20 130.10 514.37 129.71 513.14C129.33 511.92 129.86 510.09 129.98 508.67C130.11 507.25 130.00 505.80 130.45 504.62C130.91 503.45 131.92 502.37 132.72 501.61C133.52 500.85 134.21 500.36 135.25 500.05C136.28 499.74 137.90 499.39 138.94 499.75C139.98 500.11 140.65 501.44 141.50 502.21C142.34 502.98 143.64 503.19 144.04 504.37C144.44 505.56 143.94 507.79 143.89 509.32Z" fill="none" stroke="#111" stroke-width="0.75"/>
<path d="M143.15 509.05C143.16 510.26 143.82 511.80 143.49 512.84C143.16 513.88 141.95 514.56 141.18 515.29C140.40 516.02 139.74 516.99 138.87 517.24C138.00 517.49 136.85 517.06 135.94 516.78C135.03 516.50 134.25 516.22 133.39 515.56C132.52 514.89 131.16 513.91 130.75 512.78C130.33 511.66 130.86 510.07 130.91 508.80C130.96 507.53 130.76 506.22 131.04 505.16C131.33 504.09 131.80 503.11 132.61 502.41C133.42 501.71 134.92 501.25 135.90 500.95C136.88 500.65 137.71 500.39 138.50 500.61C139.28 500.83 139.78 501.44 140.61 502.28C141.44 503.11 143.04 504.48 143.46 505.60C143.89 506.73 143.15 507.85 143.15 509.05Z" fill="none" stroke="#111" stroke-width="0.75"/>
<path d="M142.37 509.12C142.42 510.35 142.74 511.69 142.48 512.65C142.22 513.62 141.52 514.26 140.79 514.89C140.06 515.52 138.89 516.24 138.09 516.43C137.28 516.63 136.65 516.37 135.94 516.03C135.23 515.69 134.59 515.07 133.82 514.41C133.05 513.75 131.69 512.91 131.33 512.06C130.97 511.21 131.59 510.33 131.68 509.31C131.77 508.30 131.63 506.99 131.87 505.97C132.12 504.94 132.54 503.86 133.18 503.16C133.82 502.46 134.81 501.94 135.71 501.76C136.61 501.58 137.78 501.75 138.60 502.07C139.41 502.38 140.02 503.13 140.62 503.67C141.21 504.20 141.89 504.36 142.18 505.27C142.47 506.18 142.32 507.89 142.37 509.12Z" fill="none" stroke="#111" stroke-width="0.75"/>
<path d="M141.66 509.13C141.59 510.03 141.67 510.95 141.44 511.75C141.20 512.55 140.83 513.37 140.27 513.92C139.71 514.46 138.81 514.90 138.05 515.02C137.29 515.14 136.37 514.78 135.70 514.63C135.03 514.49 134.62 514.65 134.05 514.17C133.49 513.69 132.63 512.57 132.32 511.75C132.02 510.94 132.17 510.18 132.23 509.27C132.28 508.36 132.40 507.21 132.67 506.31C132.93 505.41 133.28 504.42 133.81 503.87C134.34 503.32 135.16 503.20 135.87 503.01C136.58 502.82 137.40 502.54 138.08 502.73C138.75 502.92 139.29 503.59 139.92 504.18C140.55 504.78 141.58 505.47 141.87 506.30C142.16 507.12 141.73 508.22 141.66 509.13Z" fill="none" stroke="#111" stroke-width="0.75"/>
<path d="M140.74 509.33C140.76 510.13 141.38 510.98 141.14 511.57C140.90 512.16 139.83 512.41 139.30 512.85C138.77 513.29 138.43 513.99 137.96 514.20C137.49 514.41 137.14 514.33 136.49 514.12C135.85 513.91 134.70 513.41 134.07 512.94C133.45 512.47 132.88 511.99 132.74 511.30C132.60 510.60 133.18 509.56 133.23 508.79C133.28 508.03 132.80 507.32 133.06 506.69C133.31 506.06 134.18 505.53 134.73 505.01C135.29 504.49 135.92 503.73 136.39 503.57C136.86 503.41 137.08 503.78 137.55 504.05C138.03 504.32 138.64 504.72 139.22 505.17C139.79 505.62 140.75 506.06 141.01 506.75C141.26 507.44 140.71 508.52 140.74 509.33Z" fill="none" stroke="#111" stroke-width="0.75"/>
<path d="M146.17 508.50C146.20 510.55 146.63 513.00 146.01 514.68C145.39 516.36 143.66 517.36 142.46 518.58C141.25 519.80 140.12 521.58 138.78 521.99C137.43 522.39 135.77 521.55 134.39 521.01C133.00 520.46 131.69 519.78 130.45 518.73C129.21 517.69 127.55 516.41 126.95 514.71C126.35 513.00 126.78 510.53 126.85 508.50C126.91 506.47 126.76 504.29 127.34 502.54C127.91 500.79 129.14 499.19 130.30 498.00C131.45 496.81 132.88 495.85 134.29 495.41C135.69 494.97 137.35 494.86 138.72 495.35C140.09 495.83 141.31 497.16 142.50 498.34C143.70 499.51 145.26 500.72 145.87 502.41C146.48 504.10 146.15 506.45 146.17 508.50Z" fill="#000" fill-opacity="0.9"/>
<rect x="134" y="502.3" width="1.6" height="6.3" fill="#fff"/>
<path d="M271 465h1v1h-1zM281 453h1v1h-1zM275 483h1v1h-1zM273 465h1v1h-1zM275 471h1v1h-1zM286 451h1v1h-1zM275 454h1v1h-1zM276 467h1v1h-1zM278 452h1v1h-1zM275 502h1v1h-1zM270 497h1v1h-1zM272 448h1v1h-1zM276 458h1v1h-1zM278 453h1v1h-1zM276 468h1v1h-1zM276 467h1v1h-1zM278 468h1v1h-1zM281 483h1v1h-1zM278 462h1v1h-1zM273 465h1v1h-1zM276 469h1v1h-1zM277 468h1v1h-1zM276 445h1v1h-1zM275 454h1v1h-1zM281 477h1v1h-1zM282 460h1v1h-1zM283 451h1v1h-1zM267 473h1v1h-1zM276 439h1v1h-1zM279 454h1v1h-1zM282 490h1v1h-1zM273 458h1v1h-1zM274 465h1v1h-1zM279 471h1v1h-1zM276 469h1v1h-1zM291 443h1v1h-1zM277 461h1v1h-1zM276 459h1v1h-1zM277 469h1v1h-1zM277 464h1v1h-1zM278 474h1v1h-1zM265 471h1v1h-1zM270 452h1v1h-1zM278 447h1v1h-1zM272 491h1v1h-1zM280 471h1v1h-1zM274 449h1v1h-1zM269 473h1v1h-1zM281 436h1v1h-1zM265 457h1v1h-1zM274 466h1v1h-1zM274 448h1v1h-1zM276 484h1v1h-1zM280 448h1v1h-1zM278 488h1v1h-1zM274 479h1v1h-1zM274 464h1v1h-1zM282 489h1v1h-1zM274 467h1v1h-1zM270 451h1v1h-1zM272 458h1v1h-1zM274 461h1v1h-1zM275 467h1v1h-1zM274 479h1v1h-1zM275 456h1v1h-1zM271 448h1v1h-1zM279 463h1v1h-1zM275 464h1v1h-1zM282 447h1v1h-1zM271 471h1v1h-1zM275 463h1v1h-1zM281 462h1v1h-1zM275 455h1v1h-1zM295 449h1v1h-1zM269 456h1v1h-1zM274 469h1v1h-1zM280 466h1v1h-1zM280 456h1v1h-1zM277 460h1v1h-1zM272 482h1v1h-1zM283 458h1v1h-1zM278 463h1v1h-1zM275 460h1v1h-1zM276 446h1v1h-1zM280 461h1v1h-1zM278 468h1v1h-1zM279 474h1v1h-1zM282 448h1v1h-1zM289 498h1v1h-1zM268 451h1v1h-1zM277 458h1v1h-1zM271 449h1v1h-1zM279 490h1v1h-1zM282 489h1v1h-1zM275 465h1v1h-1zM279 470h1v1h-1zM282 459h1v1h-1zM276 456h1v1h-1zM279 477h1v1h-1zM280 460h1v1h-1zM275 472h1v1h-1zM271 466h1v1h-1zM285 449h1v1h-1zM286 441h1v1h-1zM280 461h1v1h-1zM272 461h1v1h-1zM280 440h1v1h-1zM281 482h1v1h-1zM273 467h1v1h-1zM278 442h1v1h-1zM277 451h1v1h-1zM279 476h1v1h-1zM265 476h1v1h-1zM276 457h1v1h-1zM278 459h1v1h-1zM292 456h1v1h-1zM282 452h1v1h-1zM272 469h1v1h-1zM279 494h1v1h-1zM270 475h1v1h-1zM276 470h1v1h-1zM294 496h1v1h-1zM278 465h1v1h-1zM282 495h1v1h-1zM280 472h1v1h-1zM279 464h1v1h-1zM281 489h1v1h-1zM273 470h1v1h-1zM277 459h1v1h-1zM280 454h1v1h-1zM275 463h1v1h-1zM279 472h1v1h-1zM274 473h1v1h-1zM275 482h1v1h-1zM280 468h1v1h-1zM293 466h1v1h-1zM278 465h1v1h-1zM276 454h1v1h-1zM274 445h1v1h-1zM273 492h1v1h-1zM271 461h1v1h-1zM274 474h1v1h-1zM269 482h1v1h-1zM280 471h1v1h-1zM283 494h1v1h-1zM288 504h1v1h-1zM279 478h1v1h-1zM286 498h1v1h-1zM277 449h1v1h-1zM274 474h1v1h-1z" fill="#2a2a2a"/>
<path d="M293 513h1v1h-1zM295 514h1v1h-1zM269 519h1v1h-1zM281 523h1v1h-1zM294 514h1v1h-1zM295 522h1v1h-1zM273 513h1v1h-1zM281 525h1v1h-1zM291 520h1v1h-1zM298 520h1v1h-1zM276 510h1v1h-1zM295 512h1v1h-1zM282 523h1v1h-1zM295 512h1v1h-1zM286 524h1v1h-1zM285 508h1v1h-1zM295 528h1v1h-1zM277 510h1v1h-1zM295 516h1v1h-1zM295 520h1v1h-1zM293 508h1v1h-1zM270 507h1v1h-1zM283 523h1v1h-1zM286 507h1v1h-1zM280 516h1v1h-1zM293 505h1v1h-1zM289 516h1v1h-1zM285 512h1v1h-1zM285 509h1v1h-1zM280 513h1v1h-1zM285 511h1v1h-1zM277 522h1v1h-1zM307 506h1v1h-1zM273 508h1v1h-1zM285 517h1v1h-1zM306 506h1v1h-1zM288 524h1v1h-1zM289 529h1v1h-1zM296 529h1v1h-1zM297 517h1v1h-1zM290 505h1v1h-1zM289 517h1v1h-1zM286 512h1v1h-1zM286 527h1v1h-1zM287 517h1v1h-1zM292 501h1v1h-1zM285 512h1v1h-1zM265 517h1v1h-1zM281 514h1v1h-1zM296 512h1v1h-1zM283 514h1v1h-1zM297 505h1v1h-1zM278 513h1v1h-1zM283 523h1v1h-1zM286 515h1v1h-1z" fill="#2a2a2a"/>
<path d="M286.95 451.05C288.55 451.72 291.38 454.07 292.57 456.47C293.76 458.87 293.89 461.80 294.09 465.43C294.29 469.07 293.69 474.26 293.75 478.30C293.82 482.33 295.22 487.49 294.47 489.64C293.72 491.79 291.11 491.10 289.26 491.19C287.40 491.27 285.25 490.81 283.32 490.15C281.39 489.48 278.82 489.92 277.66 487.21C276.50 484.51 276.13 477.17 276.34 473.92C276.56 470.67 278.51 469.97 278.97 467.71C279.42 465.44 278.99 462.45 279.10 460.35C279.20 458.25 278.96 456.41 279.60 455.09C280.25 453.78 281.72 453.13 282.94 452.46C284.17 451.78 285.34 450.38 286.95 451.05Z" fill="none" stroke="#111" stroke-width="0.85"/>
<path d="M287.40 459.50C287.43 459.94 287.10 460.61 286.69 460.89C286.29 461.16 285.52 461.18 285.00 461.14C284.48 461.10 283.96 460.94 283.57 460.67C283.18 460.39 282.69 459.92 282.65 459.50C282.62 459.08 282.98 458.48 283.37 458.17C283.76 457.86 284.48 457.62 285.00 457.64C285.52 457.66 286.10 457.97 286.50 458.28C286.90 458.59 287.37 459.06 287.40 459.50Z" fill="none" stroke="#111" stroke-width="0.9"/>
<path d="M285.30 465.80C286.20 464.00 290.22 463.67 291.20 465.20C292.18 466.73 291.27 471.03 291.20 475.00C291.13 478.97 291.58 486.67 290.80 489.00C290.02 491.33 287.33 491.17 286.50 489.00C285.67 486.83 286.00 479.87 285.80 476.00C285.60 472.13 284.40 467.60 285.30 465.80Z" fill="none" stroke="#111" stroke-width="0.9"/>
<path d="M287.12 453.03C288.53 453.74 290.69 456.22 291.60 458.35C292.51 460.49 292.31 462.65 292.56 465.82C292.80 468.99 292.99 473.68 293.09 477.37C293.18 481.06 293.85 485.93 293.11 487.94C292.37 489.96 290.33 489.32 288.64 489.44C286.95 489.56 284.71 489.31 282.98 488.65C281.25 487.98 279.15 487.89 278.26 485.45C277.37 483.01 277.50 476.88 277.65 474.03C277.79 471.18 278.86 470.40 279.15 468.34C279.43 466.28 279.14 463.59 279.33 461.66C279.53 459.74 279.68 458.07 280.31 456.80C280.94 455.54 281.98 454.69 283.11 454.06C284.25 453.44 285.70 452.31 287.12 453.03Z" fill="none" stroke="#111" stroke-width="0.8"/>
<path d="M262.21 494.98C264.20 493.41 268.53 493.68 271.67 492.67C274.81 491.66 277.96 489.49 281.04 488.93C284.13 488.37 287.72 488.46 290.16 489.33C292.59 490.20 294.48 490.99 295.65 494.16C296.83 497.33 297.16 504.01 297.19 508.35C297.22 512.69 296.98 517.26 295.84 520.19C294.69 523.11 292.75 525.11 290.32 525.89C287.88 526.68 283.93 526.07 281.23 524.90C278.53 523.74 276.28 520.76 274.11 518.89C271.93 517.01 270.34 515.14 268.18 513.66C266.02 512.18 262.54 511.93 261.13 510.00C259.73 508.06 259.56 504.55 259.74 502.04C259.92 499.54 260.22 496.54 262.21 494.98Z" fill="none" stroke="#111" stroke-width="0.85"/>
<path d="M263.58 496.26C265.51 494.89 269.76 495.22 272.62 494.24C275.49 493.25 277.94 490.96 280.77 490.35C283.61 489.73 287.25 489.79 289.65 490.56C292.05 491.33 294.04 492.03 295.19 494.96C296.34 497.88 296.61 504.04 296.54 508.11C296.48 512.18 296.00 516.53 294.79 519.36C293.58 522.18 291.61 524.30 289.28 525.06C286.95 525.82 283.19 525.08 280.81 523.93C278.42 522.78 276.98 519.92 274.98 518.15C272.98 516.38 270.90 514.70 268.83 513.33C266.75 511.95 263.84 511.72 262.54 509.90C261.24 508.08 260.86 504.68 261.03 502.40C261.21 500.13 261.65 497.62 263.58 496.26Z" fill="none" stroke="#111" stroke-width="0.85"/>
<path d="M264.64 496.73C266.50 495.40 270.61 495.91 273.44 495.06C276.27 494.21 279.04 492.29 281.64 491.65C284.23 491.01 286.97 490.48 289.02 491.20C291.07 491.92 292.89 493.21 293.95 495.98C295.00 498.74 295.25 504.10 295.35 507.78C295.46 511.46 295.69 515.39 294.58 518.06C293.47 520.72 290.92 523.06 288.69 523.79C286.47 524.52 283.56 523.45 281.26 522.44C278.95 521.43 276.69 519.29 274.87 517.71C273.04 516.14 272.13 514.38 270.31 512.99C268.49 511.59 265.29 511.00 263.95 509.35C262.61 507.70 262.18 505.19 262.29 503.09C262.40 500.99 262.78 498.07 264.64 496.73Z" fill="none" stroke="#111" stroke-width="0.85"/>
<path d="M266.42 497.61C267.99 496.40 271.36 496.94 273.85 496.15C276.33 495.36 278.83 493.43 281.33 492.88C283.83 492.34 286.79 492.17 288.83 492.88C290.86 493.59 292.58 494.60 293.54 497.14C294.50 499.68 294.67 504.76 294.60 508.11C294.53 511.45 294.11 514.79 293.10 517.21C292.10 519.63 290.51 521.87 288.57 522.64C286.64 523.42 283.65 522.76 281.50 521.85C279.34 520.94 277.39 518.68 275.65 517.17C273.90 515.66 272.75 514.11 271.03 512.81C269.31 511.50 266.44 510.92 265.34 509.36C264.25 507.79 264.26 505.36 264.44 503.40C264.62 501.44 264.85 498.82 266.42 497.61Z" fill="none" stroke="#111" stroke-width="0.85"/>
<path d="M270.42 505.11C270.40 506.71 270.04 508.46 269.55 509.64C269.05 510.83 268.30 511.71 267.46 512.23C266.61 512.74 265.30 513.22 264.49 512.74C263.69 512.26 263.12 510.63 262.63 509.34C262.14 508.05 261.63 506.55 261.55 505.00C261.48 503.45 261.65 501.26 262.16 500.05C262.67 498.84 263.71 498.21 264.61 497.74C265.51 497.27 266.70 496.84 267.54 497.23C268.39 497.61 269.19 498.73 269.66 500.05C270.14 501.36 270.44 503.51 270.42 505.11Z" fill="none" stroke="#111" stroke-width="0.8"/>
<path d="M268.57 504.97C268.51 505.85 268.14 507.08 267.83 507.73C267.52 508.38 267.15 508.63 266.71 508.88C266.27 509.13 265.61 509.48 265.20 509.24C264.79 509.00 264.52 508.14 264.26 507.43C264.01 506.72 263.70 505.87 263.67 505.00C263.65 504.12 263.82 502.86 264.11 502.19C264.40 501.51 264.93 501.16 265.40 500.93C265.88 500.71 266.48 500.58 266.94 500.83C267.41 501.09 267.92 501.77 268.19 502.46C268.46 503.15 268.63 504.09 268.57 504.97Z" fill="none" stroke="#111" stroke-width="0.8"/>
<path d="M299.58 511.00C299.64 513.25 299.03 515.79 298.34 517.89C297.65 519.99 296.66 522.23 295.41 523.61C294.17 524.98 292.45 525.56 290.88 526.14C289.30 526.72 287.55 527.46 285.98 527.09C284.40 526.72 282.68 525.42 281.42 523.91C280.16 522.41 279.03 520.20 278.44 518.05C277.85 515.90 277.85 513.33 277.87 511.00C277.90 508.67 277.92 506.09 278.57 504.04C279.22 501.99 280.50 500.08 281.76 498.71C283.02 497.33 284.56 496.46 286.11 495.79C287.66 495.12 289.46 494.35 291.06 494.69C292.66 495.04 294.55 496.26 295.70 497.87C296.85 499.48 297.31 502.19 297.96 504.37C298.61 506.56 299.52 508.75 299.58 511.00Z" fill="#000" fill-opacity="0.35"/>
<path d="M299.55 510.84C299.61 513.21 298.73 516.06 298.00 518.25C297.27 520.44 296.39 522.63 295.17 523.97C293.94 525.31 292.16 525.70 290.63 526.29C289.10 526.87 287.57 527.87 286.01 527.46C284.44 527.05 282.52 525.39 281.25 523.82C279.98 522.25 278.98 520.17 278.39 518.04C277.80 515.90 277.61 513.27 277.71 511.00C277.80 508.72 278.26 506.50 278.94 504.39C279.63 502.27 280.62 499.69 281.79 498.31C282.96 496.92 284.43 496.69 285.96 496.09C287.48 495.49 289.31 494.36 290.94 494.70C292.57 495.03 294.61 496.55 295.73 498.11C296.86 499.66 297.05 501.90 297.68 504.02C298.32 506.14 299.50 508.47 299.55 510.84Z" fill="none" stroke="#111" stroke-width="0.75"/>
<path d="M299.21 510.78C299.25 512.85 298.17 515.16 297.47 517.20C296.76 519.25 296.04 521.71 294.97 523.06C293.89 524.40 292.52 524.73 291.00 525.26C289.48 525.80 287.38 526.73 285.83 526.29C284.28 525.86 282.86 524.17 281.71 522.68C280.57 521.18 279.48 519.24 278.99 517.33C278.50 515.42 278.72 513.42 278.77 511.22C278.81 509.01 278.70 506.02 279.25 504.11C279.79 502.20 280.88 501.03 282.04 499.77C283.19 498.52 284.68 497.30 286.17 496.59C287.66 495.89 289.50 495.22 290.97 495.54C292.43 495.87 293.90 497.01 294.94 498.55C295.98 500.09 296.49 502.75 297.20 504.78C297.91 506.82 299.16 508.71 299.21 510.78Z" fill="none" stroke="#111" stroke-width="0.75"/>
<path d="M298.42 511.17C298.40 513.20 297.60 515.34 296.92 517.13C296.23 518.93 295.42 520.77 294.31 521.96C293.21 523.14 291.56 523.73 290.29 524.22C289.01 524.71 288.03 525.18 286.67 524.89C285.32 524.61 283.35 523.81 282.17 522.51C280.99 521.21 280.07 519.05 279.60 517.09C279.13 515.14 279.24 512.82 279.34 510.79C279.44 508.75 279.68 506.67 280.19 504.90C280.71 503.13 281.39 501.42 282.43 500.17C283.47 498.93 284.98 497.99 286.43 497.44C287.87 496.90 289.74 496.60 291.10 496.91C292.47 497.22 293.66 497.96 294.64 499.30C295.62 500.65 296.38 503.02 297.01 505.00C297.64 506.98 298.43 509.15 298.42 511.17Z" fill="none" stroke="#111" stroke-width="0.75"/>
<path d="M297.12 510.82C297.16 512.65 296.83 514.86 296.34 516.61C295.86 518.36 295.23 520.24 294.21 521.35C293.18 522.45 291.47 522.84 290.18 523.24C288.89 523.64 287.75 524.03 286.46 523.74C285.17 523.46 283.45 522.70 282.43 521.50C281.41 520.30 280.75 518.28 280.35 516.54C279.95 514.79 279.97 512.83 280.03 511.02C280.09 509.21 280.21 507.34 280.71 505.66C281.22 503.99 282.10 502.17 283.08 500.97C284.06 499.78 285.36 499.00 286.58 498.49C287.80 497.98 289.12 497.57 290.38 497.91C291.63 498.25 293.19 499.23 294.14 500.52C295.09 501.81 295.58 503.94 296.07 505.66C296.57 507.38 297.07 509.00 297.12 510.82Z" fill="none" stroke="#111" stroke-width="0.75"/>
<path d="M296.74 510.96C296.67 512.61 296.01 514.69 295.43 516.31C294.85 517.93 294.10 519.73 293.27 520.68C292.44 521.64 291.57 521.63 290.43 522.06C289.30 522.49 287.64 523.51 286.47 523.28C285.30 523.04 284.37 521.88 283.42 520.66C282.48 519.43 281.23 517.56 280.80 515.92C280.38 514.28 280.76 512.52 280.87 510.82C280.98 509.11 280.99 507.16 281.47 505.72C281.95 504.28 282.85 503.15 283.75 502.17C284.66 501.20 285.84 500.37 286.91 499.87C287.98 499.36 289.08 498.86 290.19 499.14C291.30 499.42 292.64 500.35 293.58 501.56C294.53 502.78 295.34 504.87 295.86 506.44C296.39 508.00 296.81 509.32 296.74 510.96Z" fill="none" stroke="#111" stroke-width="0.75"/>
<path d="M295.72 511.11C295.87 512.62 295.84 513.88 295.42 515.29C295.00 516.70 294.05 518.62 293.20 519.58C292.35 520.54 291.41 520.72 290.32 521.04C289.23 521.37 287.70 521.67 286.67 521.51C285.63 521.35 284.92 521.13 284.12 520.10C283.31 519.08 282.26 516.92 281.82 515.36C281.38 513.80 281.48 512.20 281.48 510.74C281.48 509.29 281.46 508.00 281.83 506.63C282.19 505.25 282.87 503.52 283.69 502.49C284.50 501.46 285.61 500.92 286.71 500.45C287.81 499.97 289.21 499.41 290.26 499.64C291.31 499.87 292.31 500.74 293.03 501.84C293.75 502.95 294.11 504.71 294.56 506.26C295.01 507.80 295.58 509.61 295.72 511.11Z" fill="none" stroke="#111" stroke-width="0.75"/>
<path d="M295.24 510.68C295.26 512.06 295.14 514.01 294.77 515.33C294.40 516.66 293.88 517.78 293.03 518.63C292.17 519.49 290.61 520.12 289.63 520.44C288.64 520.76 288.01 520.83 287.11 520.55C286.22 520.27 285.04 519.67 284.26 518.76C283.48 517.84 282.73 516.42 282.42 515.06C282.11 513.70 282.44 512.02 282.41 510.60C282.37 509.18 281.86 507.75 282.19 506.55C282.52 505.36 283.62 504.20 284.38 503.41C285.14 502.63 285.80 502.19 286.74 501.85C287.68 501.50 289.05 501.09 290.03 501.34C291.01 501.58 291.84 502.38 292.61 503.33C293.39 504.28 294.23 505.82 294.66 507.05C295.10 508.27 295.23 509.30 295.24 510.68Z" fill="none" stroke="#111" stroke-width="0.75"/>
<path d="M294.37 510.98C294.43 512.21 294.55 513.78 294.19 514.93C293.83 516.08 292.90 517.09 292.20 517.87C291.49 518.66 290.81 519.34 289.97 519.64C289.13 519.94 288.12 519.95 287.17 519.69C286.22 519.43 284.91 518.92 284.28 518.10C283.65 517.27 283.69 515.93 283.39 514.72C283.09 513.51 282.48 512.12 282.49 510.83C282.49 509.55 282.97 508.16 283.42 507.01C283.86 505.86 284.49 504.69 285.15 503.95C285.81 503.22 286.61 502.91 287.37 502.61C288.13 502.32 288.92 501.96 289.71 502.18C290.50 502.40 291.45 503.04 292.13 503.93C292.81 504.83 293.44 506.36 293.82 507.54C294.19 508.71 294.31 509.75 294.37 510.98Z" fill="none" stroke="#111" stroke-width="0.75"/>
<path d="M294.19 511.23C294.19 512.23 293.25 513.21 292.89 514.14C292.53 515.08 292.55 516.10 292.03 516.84C291.51 517.58 290.56 518.31 289.79 518.59C289.03 518.87 288.16 518.80 287.45 518.53C286.73 518.25 286.12 517.66 285.48 516.95C284.84 516.25 283.93 515.35 283.61 514.29C283.29 513.23 283.49 511.69 283.56 510.60C283.63 509.51 283.69 508.69 284.03 507.76C284.38 506.83 285.02 505.70 285.62 505.04C286.23 504.38 286.96 504.07 287.67 503.80C288.37 503.53 289.13 503.29 289.85 503.42C290.58 503.55 291.51 503.79 292.02 504.57C292.52 505.36 292.51 507.02 292.88 508.13C293.24 509.24 294.19 510.23 294.19 511.23Z" fill="none" stroke="#111" stroke-width="0.75"/>
<path d="M293.25 511.31C293.31 512.28 293.19 513.34 292.85 514.11C292.50 514.89 291.73 515.41 291.17 515.98C290.62 516.54 290.17 517.20 289.52 517.49C288.87 517.79 287.93 517.98 287.27 517.75C286.61 517.53 286.02 516.82 285.58 516.16C285.15 515.49 284.92 514.66 284.68 513.78C284.45 512.90 284.18 511.79 284.18 510.89C284.18 509.99 284.46 509.26 284.67 508.38C284.88 507.50 284.98 506.19 285.45 505.62C285.92 505.04 286.78 505.16 287.50 504.92C288.21 504.68 289.04 504.11 289.73 504.17C290.42 504.24 291.18 504.63 291.64 505.32C292.09 506.01 292.20 507.31 292.47 508.31C292.73 509.31 293.18 510.34 293.25 511.31Z" fill="none" stroke="#111" stroke-width="0.75"/>
<path d="M292.22 511.01C292.37 511.81 292.50 512.77 292.33 513.45C292.15 514.14 291.67 514.70 291.17 515.11C290.67 515.52 289.89 515.70 289.35 515.91C288.81 516.13 288.53 516.44 287.95 516.43C287.38 516.41 286.35 516.30 285.89 515.84C285.43 515.38 285.44 514.49 285.20 513.66C284.95 512.82 284.39 511.62 284.41 510.81C284.43 510.00 284.96 509.46 285.30 508.80C285.65 508.15 286.11 507.36 286.47 506.87C286.84 506.38 287.01 506.11 287.51 505.85C288.00 505.60 288.84 505.27 289.46 505.34C290.08 505.42 290.90 505.73 291.24 506.28C291.57 506.83 291.29 507.86 291.45 508.64C291.61 509.43 292.07 510.21 292.22 511.01Z" fill="none" stroke="#111" stroke-width="0.75"/>
<path d="M296.06 511.00C296.10 512.61 295.72 514.43 295.31 515.95C294.90 517.46 294.33 519.10 293.59 520.08C292.86 521.05 291.83 521.39 290.90 521.82C289.96 522.24 288.93 522.88 288.00 522.63C287.06 522.39 286.03 521.43 285.29 520.34C284.55 519.25 283.87 517.64 283.54 516.08C283.20 514.52 283.25 512.68 283.27 511.00C283.28 509.32 283.25 507.47 283.63 506.00C284.01 504.53 284.79 503.17 285.53 502.19C286.28 501.22 287.18 500.63 288.10 500.12C289.01 499.62 290.08 498.95 291.02 499.18C291.97 499.40 293.13 500.29 293.79 501.47C294.46 502.66 294.66 504.70 295.04 506.28C295.41 507.87 296.01 509.39 296.06 511.00Z" fill="#000" fill-opacity="0.9"/>
<rect x="287.5" y="505" width="1.6" height="7" fill="#fff"/>
<line x1="371.80" y1="140.10" x2="371.80" y2="23.30" stroke="#2a2a2a" stroke-width="1.3"/>
<line x1="368.50" y1="139.50" x2="371.80" y2="139.50" stroke="#2a2a2a" stroke-width="0.9"/>
<text x="366.90" y="141.55" font-size="6.2" font-weight="bold" fill="#000" text-anchor="end">0</text>
<line x1="368.50" y1="125.05" x2="371.80" y2="125.05" stroke="#2a2a2a" stroke-width="0.9"/>
<text x="366.90" y="127.10" font-size="6.2" font-weight="bold" fill="#000" text-anchor="end">10</text>
<line x1="368.50" y1="110.60" x2="371.80" y2="110.60" stroke="#2a2a2a" stroke-width="0.9"/>
<text x="366.90" y="112.65" font-size="6.2" font-weight="bold" fill="#000" text-anchor="end">20</text>
<line x1="368.50" y1="96.15" x2="371.80" y2="96.15" stroke="#2a2a2a" stroke-width="0.9"/>
<text x="366.90" y="98.20" font-size="6.2" font-weight="bold" fill="#000" text-anchor="end">30</text>
<line x1="368.50" y1="81.70" x2="371.80" y2="81.70" stroke="#2a2a2a" stroke-width="0.9"/>
<text x="366.90" y="83.75" font-size="6.2" font-weight="bold" fill="#000" text-anchor="end">40</text>
<line x1="368.50" y1="67.25" x2="371.80" y2="67.25" stroke="#2a2a2a" stroke-width="0.9"/>
<text x="366.90" y="69.30" font-size="6.2" font-weight="bold" fill="#000" text-anchor="end">50</text>
<line x1="368.50" y1="52.80" x2="371.80" y2="52.80" stroke="#2a2a2a" stroke-width="0.9"/>
<text x="366.90" y="54.85" font-size="6.2" font-weight="bold" fill="#000" text-anchor="end">60</text>
<line x1="368.50" y1="38.35" x2="371.80" y2="38.35" stroke="#2a2a2a" stroke-width="0.9"/>
<text x="366.90" y="40.40" font-size="6.2" font-weight="bold" fill="#000" text-anchor="end">70</text>
<line x1="368.50" y1="23.90" x2="371.80" y2="23.90" stroke="#2a2a2a" stroke-width="0.9"/>
<text x="366.90" y="25.95" font-size="6.2" font-weight="bold" fill="#000" text-anchor="end">80</text>
<line x1="371.20" y1="139.50" x2="445.30" y2="139.50" stroke="#2a2a2a" stroke-width="1.3"/>
<line x1="390.50" y1="139.50" x2="390.50" y2="142.80" stroke="#2a2a2a" stroke-width="0.9"/>
<line x1="424.70" y1="139.50" x2="424.70" y2="142.80" stroke="#2a2a2a" stroke-width="0.9"/>
<path d="M387.20 139.50V132.15H392.90V139.50" fill="none" stroke="#8cb8f2" stroke-width="1.2"/>
<path d="M396.60 139.50V135.76H402.10V139.50" fill="none" stroke="#d3e5fa" stroke-width="1.2"/>
<path d="M421.90 139.50V56.29H427.90V139.50" fill="none" stroke="#2f7cf0" stroke-width="1.2"/>
<path d="M431.10 139.50V114.81H437.00V139.50" fill="none" stroke="#b8d5f6" stroke-width="1.2"/>
<line x1="424.80" y1="55.69" x2="424.80" y2="42.69" stroke="#2f7cf0" stroke-width="0.8"/>
<line x1="423.00" y1="42.69" x2="426.60" y2="42.69" stroke="#2f7cf0" stroke-width="0.8"/>
<line x1="424.80" y1="55.69" x2="424.80" y2="67.25" stroke="#2f7cf0" stroke-width="0.8"/>
<line x1="423.00" y1="67.25" x2="426.60" y2="67.25" stroke="#2f7cf0" stroke-width="0.8"/>
<line x1="434.00" y1="114.21" x2="434.00" y2="109.16" stroke="#b8d5f6" stroke-width="0.8"/>
<line x1="432.20" y1="109.16" x2="435.80" y2="109.16" stroke="#b8d5f6" stroke-width="0.8"/>
<line x1="434.00" y1="114.21" x2="434.00" y2="118.55" stroke="#b8d5f6" stroke-width="0.8"/>
<line x1="432.20" y1="118.55" x2="435.80" y2="118.55" stroke="#b8d5f6" stroke-width="0.8"/>
<line x1="390.00" y1="131.55" x2="390.00" y2="127.51" stroke="#8cb8f2" stroke-width="0.8"/>
<line x1="388.20" y1="127.51" x2="391.80" y2="127.51" stroke="#8cb8f2" stroke-width="0.8"/>
<circle cx="379.40" cy="138.34" r="1.8" fill="#1b1ba6"/>
<circle cx="381.20" cy="135.74" r="1.8" fill="#1b1ba6"/>
<circle cx="383.20" cy="138.34" r="1.8" fill="#1b1ba6"/>
<circle cx="388.20" cy="127.94" r="1.8" fill="#2f7cf0"/>
<circle cx="392.20" cy="127.94" r="1.8" fill="#2f7cf0"/>
<circle cx="390.00" cy="137.48" r="1.8" fill="#2f7cf0"/>
<circle cx="398.00" cy="134.73" r="1.8" fill="#b8d5f6"/>
<circle cx="400.30" cy="136.61" r="1.8" fill="#b8d5f6"/>
<circle cx="401.40" cy="135.16" r="1.8" fill="#b8d5f6"/>
<circle cx="414.50" cy="138.06" r="1.8" fill="#1b1ba6"/>
<circle cx="416.50" cy="137.62" r="1.8" fill="#1b1ba6"/>
<circle cx="418.20" cy="138.06" r="1.8" fill="#1b1ba6"/>
<circle cx="424.80" cy="35.46" r="1.8" fill="#2f7cf0"/>
<circle cx="424.80" cy="52.80" r="1.8" fill="#2f7cf0"/>
<circle cx="424.80" cy="77.37" r="1.8" fill="#2f7cf0"/>
<circle cx="434.00" cy="109.88" r="1.8" fill="#b8d5f6"/>
<circle cx="434.00" cy="114.94" r="1.8" fill="#b8d5f6"/>
<circle cx="434.00" cy="117.54" r="1.8" fill="#b8d5f6"/>
<path d="M424.30 31.50V26.70H433.20V99.30" fill="none" stroke="#555" stroke-width="0.8"/>
<circle cx="422.90" cy="21.00" r="1.6" fill="#000"/>
<circle cx="427.30" cy="21.00" r="1.6" fill="#000"/>
<circle cx="431.70" cy="21.00" r="1.6" fill="#000"/>
<circle cx="436.10" cy="21.00" r="1.6" fill="#000"/>
<rect x="441.50" y="24.40" width="8.80" height="2.80" fill="none" stroke="#1b1ba6" stroke-width="1.1"/>
<text x="455.40" y="28.00" font-size="6" fill="#111">Media</text>
<rect x="441.50" y="30.90" width="8.80" height="2.80" fill="none" stroke="#2f7cf0" stroke-width="1.1"/>
<text x="455.40" y="34.50" font-size="6" fill="#111">MM.1S</text>
<rect x="441.50" y="36.50" width="8.80" height="2.80" fill="none" stroke="#b8d5f6" stroke-width="1.1"/>
<text x="455.40" y="40.10" font-size="6" fill="#111">MM.1S-CS1<tspan font-size="4.4" dy="-2.2">KO</tspan></text>
<text x="392.40" y="149.30" font-size="5.9" text-anchor="end" textLength="26.80" lengthAdjust="spacingAndGlyphs" transform="rotate(-45 392.40 149.30)">Uncoated</text>
<text x="426.60" y="149.30" font-size="5.9" text-anchor="end" textLength="31.20" lengthAdjust="spacingAndGlyphs" transform="rotate(-45 426.60 149.30)">CS1dbBITE</text>
<text x="356.00" y="81.80" font-size="6.4" font-weight="bold" text-anchor="middle" textLength="50.50" lengthAdjust="spacingAndGlyphs" transform="rotate(-90 356.00 81.80)">%CD3<tspan font-size="4.48" dy="-2.2">+</tspan><tspan dy="2.2">​</tspan>CD107a<tspan font-size="4.48" dy="-2.2">+</tspan><tspan dy="2.2">​</tspan></text>
<line x1="371.60" y1="351.10" x2="371.60" y2="238.80" stroke="#2a2a2a" stroke-width="1.3"/>
<line x1="368.30" y1="350.50" x2="371.60" y2="350.50" stroke="#2a2a2a" stroke-width="0.9"/>
<text x="366.70" y="352.55" font-size="6.2" font-weight="bold" fill="#000" text-anchor="end">0</text>
<line x1="368.30" y1="328.28" x2="371.60" y2="328.28" stroke="#2a2a2a" stroke-width="0.9"/>
<text x="366.70" y="330.33" font-size="6.2" font-weight="bold" fill="#000" text-anchor="end">5</text>
<line x1="368.30" y1="306.06" x2="371.60" y2="306.06" stroke="#2a2a2a" stroke-width="0.9"/>
<text x="366.70" y="308.11" font-size="6.2" font-weight="bold" fill="#000" text-anchor="end">10</text>
<line x1="368.30" y1="283.84" x2="371.60" y2="283.84" stroke="#2a2a2a" stroke-width="0.9"/>
<text x="366.70" y="285.89" font-size="6.2" font-weight="bold" fill="#000" text-anchor="end">15</text>
<line x1="368.30" y1="261.62" x2="371.60" y2="261.62" stroke="#2a2a2a" stroke-width="0.9"/>
<text x="366.70" y="263.67" font-size="6.2" font-weight="bold" fill="#000" text-anchor="end">20</text>
<line x1="368.30" y1="239.40" x2="371.60" y2="239.40" stroke="#2a2a2a" stroke-width="0.9"/>
<text x="366.70" y="241.45" font-size="6.2" font-weight="bold" fill="#000" text-anchor="end">25</text>
<line x1="371.00" y1="350.50" x2="441.60" y2="350.50" stroke="#2a2a2a" stroke-width="1.3"/>
<line x1="389.30" y1="350.50" x2="389.30" y2="353.80" stroke="#2a2a2a" stroke-width="0.9"/>
<line x1="422.90" y1="350.50" x2="422.90" y2="353.80" stroke="#2a2a2a" stroke-width="0.9"/>
<path d="M377.10 350.50V347.10H384.40V350.50" fill="none" stroke="#1b1ba6" stroke-width="1.2"/>
<path d="M386.80 350.50V337.77H392.40V350.50" fill="none" stroke="#2f7cf0" stroke-width="1.2"/>
<path d="M395.60 350.50V336.88H401.40V350.50" fill="none" stroke="#b8d5f6" stroke-width="1.2"/>
<path d="M411.10 350.50V346.66H417.20V350.50" fill="none" stroke="#1b1ba6" stroke-width="1.2"/>
<path d="M419.90 350.50V260.00H426.00V350.50" fill="none" stroke="#2f7cf0" stroke-width="1.2"/>
<path d="M428.60 350.50V310.22H434.70V350.50" fill="none" stroke="#b8d5f6" stroke-width="1.2"/>
<line x1="422.90" y1="259.40" x2="422.90" y2="252.73" stroke="#2f7cf0" stroke-width="0.8"/>
<line x1="421.10" y1="252.73" x2="424.70" y2="252.73" stroke="#2f7cf0" stroke-width="0.8"/>
<line x1="422.90" y1="259.40" x2="422.90" y2="266.06" stroke="#2f7cf0" stroke-width="0.8"/>
<line x1="421.10" y1="266.06" x2="424.70" y2="266.06" stroke="#2f7cf0" stroke-width="0.8"/>
<line x1="431.70" y1="309.62" x2="431.70" y2="303.39" stroke="#b8d5f6" stroke-width="0.8"/>
<line x1="429.90" y1="303.39" x2="433.50" y2="303.39" stroke="#b8d5f6" stroke-width="0.8"/>
<line x1="431.70" y1="309.62" x2="431.70" y2="315.84" stroke="#b8d5f6" stroke-width="0.8"/>
<line x1="429.90" y1="315.84" x2="433.50" y2="315.84" stroke="#b8d5f6" stroke-width="0.8"/>
<line x1="398.50" y1="336.28" x2="398.50" y2="328.72" stroke="#b8d5f6" stroke-width="0.8"/>
<line x1="396.70" y1="328.72" x2="400.30" y2="328.72" stroke="#b8d5f6" stroke-width="0.8"/>
<line x1="389.60" y1="337.17" x2="389.60" y2="333.17" stroke="#2f7cf0" stroke-width="0.8"/>
<line x1="387.80" y1="333.17" x2="391.40" y2="333.17" stroke="#2f7cf0" stroke-width="0.8"/>
<circle cx="378.50" cy="347.39" r="1.8" fill="#1b1ba6"/>
<circle cx="380.50" cy="343.83" r="1.8" fill="#1b1ba6"/>
<circle cx="382.50" cy="347.39" r="1.8" fill="#1b1ba6"/>
<circle cx="387.80" cy="335.83" r="1.8" fill="#2f7cf0"/>
<circle cx="389.60" cy="333.17" r="1.8" fill="#2f7cf0"/>
<circle cx="391.50" cy="339.39" r="1.8" fill="#2f7cf0"/>
<circle cx="398.50" cy="328.72" r="1.8" fill="#b8d5f6"/>
<circle cx="398.50" cy="335.39" r="1.8" fill="#b8d5f6"/>
<circle cx="398.50" cy="340.72" r="1.8" fill="#b8d5f6"/>
<circle cx="412.50" cy="346.94" r="1.8" fill="#1b1ba6"/>
<circle cx="414.50" cy="345.17" r="1.8" fill="#1b1ba6"/>
<circle cx="416.00" cy="346.50" r="1.8" fill="#1b1ba6"/>
<circle cx="422.90" cy="247.40" r="1.8" fill="#2f7cf0"/>
<circle cx="422.90" cy="260.29" r="1.8" fill="#2f7cf0"/>
<circle cx="422.90" cy="269.62" r="1.8" fill="#2f7cf0"/>
<circle cx="431.70" cy="303.84" r="1.8" fill="#b8d5f6"/>
<circle cx="431.70" cy="308.28" r="1.8" fill="#b8d5f6"/>
<circle cx="431.70" cy="314.95" r="1.8" fill="#b8d5f6"/>
<path d="M422.50 242.30V236.50H431.20V299.40" fill="none" stroke="#555" stroke-width="0.8"/>
<circle cx="420.40" cy="231.20" r="1.6" fill="#000"/>
<circle cx="424.80" cy="231.20" r="1.6" fill="#000"/>
<circle cx="429.20" cy="231.20" r="1.6" fill="#000"/>
<circle cx="433.60" cy="231.20" r="1.6" fill="#000"/>
<rect x="440.40" y="240.40" width="8.50" height="2.60" fill="none" stroke="#1b1ba6" stroke-width="1.1"/>
<text x="454.00" y="243.90" font-size="5.9" fill="#111">Media</text>
<rect x="440.40" y="247.60" width="8.50" height="2.60" fill="none" stroke="#2f7cf0" stroke-width="1.1"/>
<text x="454.00" y="251.10" font-size="5.9" fill="#111">MM.1S</text>
<rect x="440.40" y="255.20" width="8.50" height="2.60" fill="none" stroke="#b8d5f6" stroke-width="1.1"/>
<text x="454.00" y="258.70" font-size="5.9" fill="#111">MM.1S-CS1<tspan font-size="4.4" dy="-2.2">KO</tspan></text>
<text x="391.20" y="360.30" font-size="5.9" text-anchor="end" textLength="26.80" lengthAdjust="spacingAndGlyphs" transform="rotate(-45 391.20 360.30)">Uncoated</text>
<text x="424.30" y="360.30" font-size="5.9" text-anchor="end" textLength="31.20" lengthAdjust="spacingAndGlyphs" transform="rotate(-45 424.30 360.30)">CS1dbBITE</text>
<text x="355.60" y="295.30" font-size="6.4" font-weight="bold" text-anchor="middle" textLength="38.40" lengthAdjust="spacingAndGlyphs" transform="rotate(-90 355.60 295.30)">%CD3<tspan font-size="4.48" dy="-2.2">+</tspan><tspan dy="2.2">​</tspan>IFNγ<tspan font-size="4.48" dy="-2.2">+</tspan><tspan dy="2.2">​</tspan></text>
<line x1="371.10" y1="528.00" x2="371.10" y2="411.70" stroke="#2a2a2a" stroke-width="1.3"/>
<line x1="367.80" y1="527.40" x2="371.10" y2="527.40" stroke="#2a2a2a" stroke-width="0.9"/>
<text x="366.20" y="529.45" font-size="6.2" font-weight="bold" fill="#000" text-anchor="end">0</text>
<line x1="367.80" y1="498.62" x2="371.10" y2="498.62" stroke="#2a2a2a" stroke-width="0.9"/>
<text x="366.20" y="500.67" font-size="6.2" font-weight="bold" fill="#000" text-anchor="end">10</text>
<line x1="367.80" y1="469.85" x2="371.10" y2="469.85" stroke="#2a2a2a" stroke-width="0.9"/>
<text x="366.20" y="471.90" font-size="6.2" font-weight="bold" fill="#000" text-anchor="end">20</text>
<line x1="367.80" y1="441.07" x2="371.10" y2="441.07" stroke="#2a2a2a" stroke-width="0.9"/>
<text x="366.20" y="443.12" font-size="6.2" font-weight="bold" fill="#000" text-anchor="end">30</text>
<line x1="367.80" y1="412.30" x2="371.10" y2="412.30" stroke="#2a2a2a" stroke-width="0.9"/>
<text x="366.20" y="414.35" font-size="6.2" font-weight="bold" fill="#000" text-anchor="end">40</text>
<line x1="370.50" y1="527.40" x2="444.60" y2="527.40" stroke="#2a2a2a" stroke-width="1.3"/>
<line x1="390.00" y1="527.40" x2="390.00" y2="530.70" stroke="#2a2a2a" stroke-width="0.9"/>
<line x1="424.70" y1="527.40" x2="424.70" y2="530.70" stroke="#2a2a2a" stroke-width="0.9"/>
<path d="M378.30 527.40V525.70H384.40V527.40" fill="none" stroke="#1b1ba6" stroke-width="1.2"/>
<path d="M387.30 527.40V524.26H393.40V527.40" fill="none" stroke="#2f7cf0" stroke-width="1.2"/>
<path d="M396.60 527.40V525.41H402.10V527.40" fill="none" stroke="#b8d5f6" stroke-width="1.2"/>
<path d="M412.80 527.40V525.41H418.40V527.40" fill="none" stroke="#1b1ba6" stroke-width="1.2"/>
<path d="M421.60 527.40V441.68H427.40V527.40" fill="none" stroke="#2f7cf0" stroke-width="1.2"/>
<path d="M430.60 527.40V483.97H436.70V527.40" fill="none" stroke="#b8d5f6" stroke-width="1.2"/>
<line x1="424.50" y1="441.07" x2="424.50" y2="431.00" stroke="#2f7cf0" stroke-width="0.8"/>
<line x1="422.70" y1="431.00" x2="426.30" y2="431.00" stroke="#2f7cf0" stroke-width="0.8"/>
<line x1="424.50" y1="441.07" x2="424.50" y2="454.02" stroke="#2f7cf0" stroke-width="0.8"/>
<line x1="422.70" y1="454.02" x2="426.30" y2="454.02" stroke="#2f7cf0" stroke-width="0.8"/>
<line x1="433.70" y1="483.37" x2="433.70" y2="471.29" stroke="#b8d5f6" stroke-width="0.8"/>
<line x1="431.90" y1="471.29" x2="435.50" y2="471.29" stroke="#b8d5f6" stroke-width="0.8"/>
<line x1="433.70" y1="483.37" x2="433.70" y2="495.75" stroke="#b8d5f6" stroke-width="0.8"/>
<line x1="431.90" y1="495.75" x2="435.50" y2="495.75" stroke="#b8d5f6" stroke-width="0.8"/>
<circle cx="379.50" cy="525.67" r="1.8" fill="#1b1ba6"/>
<circle cx="381.30" cy="524.52" r="1.8" fill="#1b1ba6"/>
<circle cx="383.20" cy="525.67" r="1.8" fill="#1b1ba6"/>
<circle cx="388.50" cy="520.49" r="1.8" fill="#2f7cf0"/>
<circle cx="390.50" cy="523.37" r="1.8" fill="#2f7cf0"/>
<circle cx="392.30" cy="525.67" r="1.8" fill="#2f7cf0"/>
<circle cx="398.50" cy="524.23" r="1.8" fill="#b8d5f6"/>
<circle cx="400.30" cy="525.10" r="1.8" fill="#b8d5f6"/>
<circle cx="402.00" cy="524.52" r="1.8" fill="#b8d5f6"/>
<circle cx="414.00" cy="525.39" r="1.8" fill="#1b1ba6"/>
<circle cx="415.80" cy="524.23" r="1.8" fill="#1b1ba6"/>
<circle cx="417.50" cy="525.39" r="1.8" fill="#1b1ba6"/>
<circle cx="424.50" cy="425.25" r="1.8" fill="#2f7cf0"/>
<circle cx="424.50" cy="431.00" r="1.8" fill="#2f7cf0"/>
<circle cx="424.50" cy="467.84" r="1.8" fill="#2f7cf0"/>
<circle cx="433.70" cy="466.97" r="1.8" fill="#b8d5f6"/>
<circle cx="433.70" cy="482.80" r="1.8" fill="#b8d5f6"/>
<circle cx="433.70" cy="498.62" r="1.8" fill="#b8d5f6"/>
<path d="M424.40 420.00V414.50H433.10V463.90" fill="none" stroke="#555" stroke-width="0.8"/>
<path d="M426.20 407.00L426.20 411.60M424.21 408.15L428.19 410.45M424.21 410.45L428.19 408.15" stroke="#000" stroke-width="1.0" stroke-linecap="butt"/>
<path d="M431.50 407.00L431.50 411.60M429.51 408.15L433.49 410.45M429.51 410.45L433.49 408.15" stroke="#000" stroke-width="1.0" stroke-linecap="butt"/>
<rect x="442.50" y="416.90" width="8.70" height="3.20" fill="none" stroke="#1b1ba6" stroke-width="1.1"/>
<text x="456.60" y="420.70" font-size="6.5" fill="#111">Media</text>
<rect x="442.50" y="424.70" width="8.70" height="3.20" fill="none" stroke="#2f7cf0" stroke-width="1.1"/>
<text x="456.60" y="428.50" font-size="6.5" fill="#111">MM.1S</text>
<rect x="442.50" y="432.20" width="8.70" height="3.20" fill="none" stroke="#b8d5f6" stroke-width="1.1"/>
<text x="456.60" y="436.00" font-size="6.5" fill="#111">MM.1S-CS1<tspan font-size="4.4" dy="-2.2">KO</tspan></text>
<text x="391.90" y="537.20" font-size="5.9" text-anchor="end" textLength="26.80" lengthAdjust="spacingAndGlyphs" transform="rotate(-45 391.90 537.20)">Uncoated</text>
<text x="426.60" y="537.20" font-size="5.9" text-anchor="end" textLength="31.20" lengthAdjust="spacingAndGlyphs" transform="rotate(-45 426.60 537.20)">CS1dbBITE</text>
<text x="356.00" y="470.30" font-size="6.4" font-weight="bold" text-anchor="middle" textLength="43.00" lengthAdjust="spacingAndGlyphs" transform="rotate(-90 356.00 470.30)">%CD3<tspan font-size="4.48" dy="-2.2">+</tspan><tspan dy="2.2">​</tspan>TNFα<tspan font-size="4.48" dy="-2.2">+</tspan><tspan dy="2.2">​</tspan></text>
<line x1="543.60" y1="136.27" x2="543.60" y2="135.85" stroke="#777" stroke-width="0.9"/>
<line x1="541.40" y1="135.85" x2="545.80" y2="135.85" stroke="#777" stroke-width="0.9"/>
<rect x="537.00" y="136.27" width="13.20" height="2.83" fill="#b9d7f7" stroke="#1a1a1a" stroke-width="0.9"/>
<rect x="537.00" y="137.69" width="13.20" height="1.41" fill="#2f7ee8" stroke="#1a1a1a" stroke-width="0.9"/>
<line x1="543.60" y1="137.69" x2="543.60" y2="137.40" stroke="#777" stroke-width="0.9"/>
<line x1="541.40" y1="137.40" x2="545.80" y2="137.40" stroke="#777" stroke-width="0.9"/>
<line x1="560.70" y1="58.52" x2="560.70" y2="52.15" stroke="#777" stroke-width="0.9"/>
<line x1="558.50" y1="52.15" x2="562.90" y2="52.15" stroke="#777" stroke-width="0.9"/>
<rect x="554.20" y="58.52" width="13.00" height="80.58" fill="#b9d7f7" stroke="#1a1a1a" stroke-width="0.9"/>
<rect x="554.20" y="112.24" width="13.00" height="26.86" fill="#2f7ee8" stroke="#1a1a1a" stroke-width="0.9"/>
<line x1="560.70" y1="112.24" x2="560.70" y2="105.17" stroke="#777" stroke-width="0.9"/>
<line x1="558.50" y1="105.17" x2="562.90" y2="105.17" stroke="#777" stroke-width="0.9"/>
<line x1="577.90" y1="117.89" x2="577.90" y2="116.06" stroke="#777" stroke-width="0.9"/>
<line x1="575.70" y1="116.06" x2="580.10" y2="116.06" stroke="#777" stroke-width="0.9"/>
<rect x="571.40" y="117.89" width="13.00" height="21.21" fill="#b9d7f7" stroke="#1a1a1a" stroke-width="0.9"/>
<rect x="571.40" y="134.15" width="13.00" height="4.95" fill="#2f7ee8" stroke="#1a1a1a" stroke-width="0.9"/>
<line x1="577.90" y1="134.15" x2="577.90" y2="132.03" stroke="#777" stroke-width="0.9"/>
<line x1="575.70" y1="132.03" x2="580.10" y2="132.03" stroke="#777" stroke-width="0.9"/>
<line x1="526.00" y1="139.70" x2="526.00" y2="25.40" stroke="#2a2a2a" stroke-width="1.3"/>
<line x1="522.70" y1="139.10" x2="526.00" y2="139.10" stroke="#2a2a2a" stroke-width="0.9"/>
<text x="521.10" y="141.05" font-size="5.9" font-weight="bold" fill="#000" text-anchor="end">0</text>
<line x1="522.70" y1="124.96" x2="526.00" y2="124.96" stroke="#2a2a2a" stroke-width="0.9"/>
<text x="521.10" y="126.91" font-size="5.9" font-weight="bold" fill="#000" text-anchor="end">10</text>
<line x1="522.70" y1="110.82" x2="526.00" y2="110.82" stroke="#2a2a2a" stroke-width="0.9"/>
<text x="521.10" y="112.77" font-size="5.9" font-weight="bold" fill="#000" text-anchor="end">20</text>
<line x1="522.70" y1="96.69" x2="526.00" y2="96.69" stroke="#2a2a2a" stroke-width="0.9"/>
<text x="521.10" y="98.63" font-size="5.9" font-weight="bold" fill="#000" text-anchor="end">30</text>
<line x1="522.70" y1="82.55" x2="526.00" y2="82.55" stroke="#2a2a2a" stroke-width="0.9"/>
<text x="521.10" y="84.50" font-size="5.9" font-weight="bold" fill="#000" text-anchor="end">40</text>
<line x1="522.70" y1="68.41" x2="526.00" y2="68.41" stroke="#2a2a2a" stroke-width="0.9"/>
<text x="521.10" y="70.36" font-size="5.9" font-weight="bold" fill="#000" text-anchor="end">50</text>
<line x1="522.70" y1="54.27" x2="526.00" y2="54.27" stroke="#2a2a2a" stroke-width="0.9"/>
<text x="521.10" y="56.22" font-size="5.9" font-weight="bold" fill="#000" text-anchor="end">60</text>
<line x1="522.70" y1="40.14" x2="526.00" y2="40.14" stroke="#2a2a2a" stroke-width="0.9"/>
<text x="521.10" y="42.08" font-size="5.9" font-weight="bold" fill="#000" text-anchor="end">70</text>
<line x1="522.70" y1="26.00" x2="526.00" y2="26.00" stroke="#2a2a2a" stroke-width="0.9"/>
<text x="521.10" y="27.95" font-size="5.9" font-weight="bold" fill="#000" text-anchor="end">80</text>
<line x1="525.40" y1="139.10" x2="598.00" y2="139.10" stroke="#2a2a2a" stroke-width="1.3"/>
<line x1="543.60" y1="139.10" x2="543.60" y2="142.40" stroke="#2a2a2a" stroke-width="0.9"/>
<line x1="560.70" y1="139.10" x2="560.70" y2="142.40" stroke="#2a2a2a" stroke-width="0.9"/>
<line x1="577.90" y1="139.10" x2="577.90" y2="142.40" stroke="#2a2a2a" stroke-width="0.9"/>
<path d="M560.60 95.40L560.60 100.20M558.52 96.60L562.68 99.00M558.52 99.00L562.68 96.60" stroke="#000" stroke-width="1.0" stroke-linecap="butt"/>
<path d="M575.00 123.80L575.00 128.60M572.92 125.00L577.08 127.40M572.92 127.40L577.08 125.00" stroke="#000" stroke-width="1.0" stroke-linecap="butt"/>
<path d="M580.20 123.80L580.20 128.60M578.12 125.00L582.28 127.40M578.12 127.40L582.28 125.00" stroke="#000" stroke-width="1.0" stroke-linecap="butt"/>
<rect x="583.80" y="53.00" width="9.00" height="4.40" fill="#2f7ee8" stroke="#1a1a1a" stroke-width="0.7"/>
<rect x="583.80" y="59.60" width="9.00" height="4.40" fill="#b9d7f7" stroke="#1a1a1a" stroke-width="0.7"/>
<text x="597.60" y="57.60" font-size="6.3" fill="#000" text-anchor="start">CD4</text>
<text x="597.60" y="64.20" font-size="6.3" fill="#000" text-anchor="start">CD8</text>
<text x="545.10" y="148.40" font-size="6.0" font-weight="bold" text-anchor="end" transform="rotate(-45 545.10 148.40)">Media</text>
<text x="562.20" y="148.40" font-size="6.0" font-weight="bold" text-anchor="end" transform="rotate(-45 562.20 148.40)">MM.1S</text>
<text x="579.40" y="148.40" font-size="6.0" font-weight="bold" text-anchor="end" transform="rotate(-45 579.40 148.40)">MM.1S-CS1<tspan font-size="4.4" dy="-2.2">KO</tspan></text>
<text x="511.00" y="83.10" font-size="6.4" font-weight="bold" text-anchor="middle" textLength="49.60" lengthAdjust="spacingAndGlyphs" transform="rotate(-90 511.00 83.10)">%CD3<tspan font-size="4.48" dy="-2.2">+</tspan><tspan dy="2.2">​</tspan>CD107a<tspan font-size="4.48" dy="-2.2">+</tspan><tspan dy="2.2">​</tspan></text>
<line x1="540.65" y1="339.21" x2="540.65" y2="336.93" stroke="#777" stroke-width="0.9"/>
<line x1="538.45" y1="336.93" x2="542.85" y2="336.93" stroke="#777" stroke-width="0.9"/>
<rect x="534.10" y="339.21" width="13.10" height="11.39" fill="#b9d7f7" stroke="#1a1a1a" stroke-width="0.9"/>
<rect x="534.10" y="346.04" width="13.10" height="4.56" fill="#2f7ee8" stroke="#1a1a1a" stroke-width="0.9"/>
<line x1="540.65" y1="346.04" x2="540.65" y2="344.22" stroke="#777" stroke-width="0.9"/>
<line x1="538.45" y1="344.22" x2="542.85" y2="344.22" stroke="#777" stroke-width="0.9"/>
<line x1="558.00" y1="259.48" x2="558.00" y2="245.81" stroke="#777" stroke-width="0.9"/>
<line x1="555.80" y1="245.81" x2="560.20" y2="245.81" stroke="#777" stroke-width="0.9"/>
<rect x="551.30" y="259.48" width="13.40" height="91.12" fill="#b9d7f7" stroke="#1a1a1a" stroke-width="0.9"/>
<rect x="551.30" y="332.38" width="13.40" height="18.22" fill="#2f7ee8" stroke="#1a1a1a" stroke-width="0.9"/>
<line x1="558.00" y1="332.38" x2="558.00" y2="328.73" stroke="#777" stroke-width="0.9"/>
<line x1="555.80" y1="328.73" x2="560.20" y2="328.73" stroke="#777" stroke-width="0.9"/>
<line x1="574.90" y1="315.06" x2="574.90" y2="309.14" stroke="#777" stroke-width="0.9"/>
<line x1="572.70" y1="309.14" x2="577.10" y2="309.14" stroke="#777" stroke-width="0.9"/>
<rect x="568.20" y="315.06" width="13.40" height="35.54" fill="#b9d7f7" stroke="#1a1a1a" stroke-width="0.9"/>
<rect x="568.20" y="345.13" width="13.40" height="5.47" fill="#2f7ee8" stroke="#1a1a1a" stroke-width="0.9"/>
<line x1="574.90" y1="345.13" x2="574.90" y2="343.31" stroke="#777" stroke-width="0.9"/>
<line x1="572.70" y1="343.31" x2="577.10" y2="343.31" stroke="#777" stroke-width="0.9"/>
<line x1="523.20" y1="351.20" x2="523.20" y2="236.10" stroke="#2a2a2a" stroke-width="1.3"/>
<line x1="519.90" y1="350.60" x2="523.20" y2="350.60" stroke="#2a2a2a" stroke-width="0.9"/>
<text x="518.30" y="352.68" font-size="6.3" font-weight="bold" fill="#000" text-anchor="end">0</text>
<line x1="519.90" y1="327.82" x2="523.20" y2="327.82" stroke="#2a2a2a" stroke-width="0.9"/>
<text x="518.30" y="329.90" font-size="6.3" font-weight="bold" fill="#000" text-anchor="end">5</text>
<line x1="519.90" y1="305.04" x2="523.20" y2="305.04" stroke="#2a2a2a" stroke-width="0.9"/>
<text x="518.30" y="307.12" font-size="6.3" font-weight="bold" fill="#000" text-anchor="end">10</text>
<line x1="519.90" y1="282.26" x2="523.20" y2="282.26" stroke="#2a2a2a" stroke-width="0.9"/>
<text x="518.30" y="284.34" font-size="6.3" font-weight="bold" fill="#000" text-anchor="end">15</text>
<line x1="519.90" y1="259.48" x2="523.20" y2="259.48" stroke="#2a2a2a" stroke-width="0.9"/>
<text x="518.30" y="261.56" font-size="6.3" font-weight="bold" fill="#000" text-anchor="end">20</text>
<line x1="519.90" y1="236.70" x2="523.20" y2="236.70" stroke="#2a2a2a" stroke-width="0.9"/>
<text x="518.30" y="238.78" font-size="6.3" font-weight="bold" fill="#000" text-anchor="end">25</text>
<line x1="522.60" y1="350.60" x2="595.50" y2="350.60" stroke="#2a2a2a" stroke-width="1.3"/>
<line x1="540.65" y1="350.60" x2="540.65" y2="353.90" stroke="#2a2a2a" stroke-width="0.9"/>
<line x1="558.00" y1="350.60" x2="558.00" y2="353.90" stroke="#2a2a2a" stroke-width="0.9"/>
<line x1="574.90" y1="350.60" x2="574.90" y2="353.90" stroke="#2a2a2a" stroke-width="0.9"/>
<circle cx="555.35" cy="322.80" r="1.65" fill="#000"/>
<circle cx="559.85" cy="322.80" r="1.65" fill="#000"/>
<path d="M571.80 334.20L571.80 339.00M569.72 335.40L573.88 337.80M569.72 337.80L573.88 335.40" stroke="#000" stroke-width="1.0" stroke-linecap="butt"/>
<path d="M577.00 334.20L577.00 339.00M574.92 335.40L579.08 337.80M574.92 337.80L579.08 335.40" stroke="#000" stroke-width="1.0" stroke-linecap="butt"/>
<rect x="580.80" y="263.60" width="9.00" height="4.40" fill="#2f7ee8" stroke="#1a1a1a" stroke-width="0.7"/>
<rect x="580.80" y="270.60" width="9.00" height="4.40" fill="#b9d7f7" stroke="#1a1a1a" stroke-width="0.7"/>
<text x="594.60" y="268.20" font-size="6.3" fill="#000" text-anchor="start">CD4</text>
<text x="594.60" y="275.20" font-size="6.3" fill="#000" text-anchor="start">CD8</text>
<text x="542.15" y="359.90" font-size="6.0" font-weight="bold" text-anchor="end" transform="rotate(-45 542.15 359.90)">Media</text>
<text x="559.50" y="359.90" font-size="6.0" font-weight="bold" text-anchor="end" transform="rotate(-45 559.50 359.90)">MM.1S</text>
<text x="576.40" y="359.90" font-size="6.0" font-weight="bold" text-anchor="end" transform="rotate(-45 576.40 359.90)">MM.1S-CS1<tspan font-size="4.4" dy="-2.2">KO</tspan></text>
<text x="507.60" y="294.20" font-size="6.4" font-weight="bold" text-anchor="middle" textLength="39.00" lengthAdjust="spacingAndGlyphs" transform="rotate(-90 507.60 294.20)">%CD3<tspan font-size="4.48" dy="-2.2">+</tspan><tspan dy="2.2">​</tspan>IFNγ<tspan font-size="4.48" dy="-2.2">+</tspan><tspan dy="2.2">​</tspan></text>
<line x1="538.75" y1="520.82" x2="538.75" y2="519.96" stroke="#777" stroke-width="0.9"/>
<line x1="536.55" y1="519.96" x2="540.95" y2="519.96" stroke="#777" stroke-width="0.9"/>
<rect x="532.00" y="520.82" width="13.50" height="5.68" fill="#b9d7f7" stroke="#1a1a1a" stroke-width="0.9"/>
<rect x="532.00" y="524.23" width="13.50" height="2.27" fill="#2f7ee8" stroke="#1a1a1a" stroke-width="0.9"/>
<line x1="538.75" y1="524.23" x2="538.75" y2="523.66" stroke="#777" stroke-width="0.9"/>
<line x1="536.55" y1="523.66" x2="540.95" y2="523.66" stroke="#777" stroke-width="0.9"/>
<line x1="556.05" y1="440.66" x2="556.05" y2="427.87" stroke="#777" stroke-width="0.9"/>
<line x1="553.85" y1="427.87" x2="558.25" y2="427.87" stroke="#777" stroke-width="0.9"/>
<rect x="549.50" y="440.66" width="13.10" height="85.84" fill="#b9d7f7" stroke="#1a1a1a" stroke-width="0.9"/>
<rect x="549.50" y="478.75" width="13.10" height="47.75" fill="#2f7ee8" stroke="#1a1a1a" stroke-width="0.9"/>
<line x1="556.05" y1="478.75" x2="556.05" y2="471.07" stroke="#777" stroke-width="0.9"/>
<line x1="553.85" y1="471.07" x2="558.25" y2="471.07" stroke="#777" stroke-width="0.9"/>
<line x1="573.10" y1="477.61" x2="573.10" y2="473.35" stroke="#777" stroke-width="0.9"/>
<line x1="570.90" y1="473.35" x2="575.30" y2="473.35" stroke="#777" stroke-width="0.9"/>
<rect x="566.40" y="477.61" width="13.40" height="48.89" fill="#b9d7f7" stroke="#1a1a1a" stroke-width="0.9"/>
<rect x="566.40" y="495.80" width="13.40" height="30.70" fill="#2f7ee8" stroke="#1a1a1a" stroke-width="0.9"/>
<line x1="573.10" y1="495.80" x2="573.10" y2="486.70" stroke="#777" stroke-width="0.9"/>
<line x1="570.90" y1="486.70" x2="575.30" y2="486.70" stroke="#777" stroke-width="0.9"/>
<line x1="521.50" y1="527.10" x2="521.50" y2="412.20" stroke="#2a2a2a" stroke-width="1.3"/>
<line x1="518.20" y1="526.50" x2="521.50" y2="526.50" stroke="#2a2a2a" stroke-width="0.9"/>
<text x="516.60" y="528.61" font-size="6.4" font-weight="bold" fill="#000" text-anchor="end">0</text>
<line x1="518.20" y1="498.07" x2="521.50" y2="498.07" stroke="#2a2a2a" stroke-width="0.9"/>
<text x="516.60" y="500.19" font-size="6.4" font-weight="bold" fill="#000" text-anchor="end">10</text>
<line x1="518.20" y1="469.65" x2="521.50" y2="469.65" stroke="#2a2a2a" stroke-width="0.9"/>
<text x="516.60" y="471.76" font-size="6.4" font-weight="bold" fill="#000" text-anchor="end">20</text>
<line x1="518.20" y1="441.23" x2="521.50" y2="441.23" stroke="#2a2a2a" stroke-width="0.9"/>
<text x="516.60" y="443.34" font-size="6.4" font-weight="bold" fill="#000" text-anchor="end">30</text>
<line x1="518.20" y1="412.80" x2="521.50" y2="412.80" stroke="#2a2a2a" stroke-width="0.9"/>
<text x="516.60" y="414.91" font-size="6.4" font-weight="bold" fill="#000" text-anchor="end">40</text>
<line x1="520.90" y1="526.50" x2="593.50" y2="526.50" stroke="#2a2a2a" stroke-width="1.3"/>
<line x1="538.75" y1="526.50" x2="538.75" y2="529.80" stroke="#2a2a2a" stroke-width="0.9"/>
<line x1="556.05" y1="526.50" x2="556.05" y2="529.80" stroke="#2a2a2a" stroke-width="0.9"/>
<line x1="573.10" y1="526.50" x2="573.10" y2="529.80" stroke="#2a2a2a" stroke-width="0.9"/>
<text x="556.00" y="462.70" font-size="8.6" fill="#111" text-anchor="middle">ns</text>
<text x="573.10" y="484.70" font-size="8.6" fill="#111" text-anchor="middle">ns</text>
<rect x="579.00" y="439.70" width="9.00" height="4.40" fill="#2f7ee8" stroke="#1a1a1a" stroke-width="0.7"/>
<rect x="579.00" y="446.50" width="9.00" height="4.40" fill="#b9d7f7" stroke="#1a1a1a" stroke-width="0.7"/>
<text x="592.80" y="444.30" font-size="6.3" fill="#000" text-anchor="start">CD4</text>
<text x="592.80" y="451.10" font-size="6.3" fill="#000" text-anchor="start">CD8</text>
<text x="540.25" y="535.80" font-size="6.0" font-weight="bold" text-anchor="end" transform="rotate(-45 540.25 535.80)">Media</text>
<text x="557.55" y="535.80" font-size="6.0" font-weight="bold" text-anchor="end" transform="rotate(-45 557.55 535.80)">MM.1S</text>
<text x="574.60" y="535.80" font-size="6.0" font-weight="bold" text-anchor="end" transform="rotate(-45 574.60 535.80)">MM.1S-CS1<tspan font-size="4.4" dy="-2.2">KO</tspan></text>
<text x="506.50" y="470.10" font-size="6.4" font-weight="bold" text-anchor="middle" textLength="41.80" lengthAdjust="spacingAndGlyphs" transform="rotate(-90 506.50 470.10)">%CD3<tspan font-size="4.48" dy="-2.2">+</tspan><tspan dy="2.2">​</tspan>TNFα<tspan font-size="4.48" dy="-2.2">+</tspan><tspan dy="2.2">​</tspan></text>
<line x1="96.70" y1="675.77" x2="96.70" y2="658.77" stroke="#222" stroke-width="0.8"/>
<line x1="95.00" y1="658.77" x2="98.40" y2="658.77" stroke="#222" stroke-width="0.8"/>
<line x1="96.70" y1="675.77" x2="96.70" y2="692.20" stroke="#222" stroke-width="0.8"/>
<line x1="95.00" y1="692.20" x2="98.40" y2="692.20" stroke="#222" stroke-width="0.8"/>
<line x1="105.80" y1="722.11" x2="105.80" y2="717.71" stroke="#222" stroke-width="0.8"/>
<line x1="104.10" y1="717.71" x2="107.50" y2="717.71" stroke="#222" stroke-width="0.8"/>
<line x1="105.80" y1="722.11" x2="105.80" y2="726.21" stroke="#222" stroke-width="0.8"/>
<line x1="104.10" y1="726.21" x2="107.50" y2="726.21" stroke="#222" stroke-width="0.8"/>
<rect x="35.60" y="743.51" width="6.80" height="4.99" fill="#0a0a0a" stroke="#1a1a1a" stroke-width="0.7"/>
<rect x="44.60" y="742.34" width="6.90" height="6.16" fill="#3279e6" stroke="#1a1a1a" stroke-width="0.7"/>
<rect x="53.70" y="742.17" width="6.90" height="6.33" fill="#a9cdf5" stroke="#1a1a1a" stroke-width="0.7"/>
<rect x="84.10" y="742.05" width="6.90" height="6.45" fill="#0a0a0a" stroke="#1a1a1a" stroke-width="0.7"/>
<rect x="93.40" y="675.77" width="6.70" height="72.73" fill="#3279e6" stroke="#1a1a1a" stroke-width="0.7"/>
<rect x="102.50" y="722.11" width="6.60" height="26.39" fill="#a9cdf5" stroke="#1a1a1a" stroke-width="0.7"/>
<circle cx="37.50" cy="743.69" r="1.2" fill="#111"/>
<circle cx="40.50" cy="743.51" r="1.2" fill="#111"/>
<circle cx="47.00" cy="742.34" r="1.2" fill="#111"/>
<circle cx="49.50" cy="742.17" r="1.2" fill="#111"/>
<circle cx="55.80" cy="742.05" r="1.2" fill="#111"/>
<circle cx="58.50" cy="741.93" r="1.2" fill="#111"/>
<circle cx="86.50" cy="742.63" r="1.2" fill="#111"/>
<circle cx="89.20" cy="741.93" r="1.2" fill="#111"/>
<circle cx="96.70" cy="658.77" r="1.2" fill="#111"/>
<circle cx="96.70" cy="692.20" r="1.2" fill="#111"/>
<circle cx="105.80" cy="718.30" r="1.2" fill="#111"/>
<circle cx="105.80" cy="725.04" r="1.2" fill="#111"/>
<line x1="28.30" y1="749.10" x2="28.30" y2="630.60" stroke="#2a2a2a" stroke-width="1.3"/>
<line x1="25.00" y1="748.50" x2="28.30" y2="748.50" stroke="#2a2a2a" stroke-width="0.9"/>
<text x="23.90" y="750.38" font-size="5.7" font-weight="bold" fill="#000" text-anchor="end">0</text>
<line x1="25.00" y1="719.17" x2="28.30" y2="719.17" stroke="#2a2a2a" stroke-width="0.9"/>
<text x="23.90" y="721.06" font-size="5.7" font-weight="bold" fill="#000" text-anchor="end">500</text>
<line x1="25.00" y1="689.85" x2="28.30" y2="689.85" stroke="#2a2a2a" stroke-width="0.9"/>
<text x="23.90" y="691.73" font-size="5.7" font-weight="bold" fill="#000" text-anchor="end">1000</text>
<line x1="25.00" y1="660.53" x2="28.30" y2="660.53" stroke="#2a2a2a" stroke-width="0.9"/>
<text x="23.90" y="662.41" font-size="5.7" font-weight="bold" fill="#000" text-anchor="end">1500</text>
<line x1="25.00" y1="631.20" x2="28.30" y2="631.20" stroke="#2a2a2a" stroke-width="0.9"/>
<text x="23.90" y="633.08" font-size="5.7" font-weight="bold" fill="#000" text-anchor="end">2000</text>
<line x1="27.70" y1="748.50" x2="116.50" y2="748.50" stroke="#2a2a2a" stroke-width="1.3"/>
<line x1="48.10" y1="748.50" x2="48.10" y2="751.80" stroke="#2a2a2a" stroke-width="0.9"/>
<line x1="96.60" y1="748.50" x2="96.60" y2="751.80" stroke="#2a2a2a" stroke-width="0.9"/>
<path d="M87.80 737.60V633.70H105.70V638.20" fill="none" stroke="#666" stroke-width="0.7"/>
<text x="96.75" y="630.40" font-size="6.4" fill="#444" text-anchor="middle">ns</text>
<path d="M96.30 655.00V649.40H105.70V717.30" fill="none" stroke="#666" stroke-width="0.7"/>
<circle cx="99.10" cy="645.70" r="1.3" fill="#000"/>
<circle cx="102.90" cy="645.70" r="1.3" fill="#000"/>
<text x="73.40" y="624.20" font-size="8.0" font-weight="bold" fill="#000" text-anchor="middle">IFN-γ</text>
<text x="6.80" y="690.00" font-size="6.2" font-weight="bold" text-anchor="middle" textLength="34.10" lengthAdjust="spacingAndGlyphs" transform="rotate(-90 6.80 690.00)">IFN-γ pg/ml</text>
<text x="50.70" y="757.80" font-size="6.0" text-anchor="end" textLength="28.30" lengthAdjust="spacingAndGlyphs" transform="rotate(-45 50.70 757.80)">Uncoated</text>
<text x="99.20" y="757.80" font-size="6.0" text-anchor="end" textLength="33.40" lengthAdjust="spacingAndGlyphs" transform="rotate(-45 99.20 757.80)">CS1dbBITE</text>
<line x1="219.20" y1="742.21" x2="219.20" y2="738.69" stroke="#222" stroke-width="0.8"/>
<line x1="217.50" y1="738.69" x2="220.90" y2="738.69" stroke="#222" stroke-width="0.8"/>
<line x1="228.50" y1="689.37" x2="228.50" y2="666.87" stroke="#222" stroke-width="0.8"/>
<line x1="226.80" y1="666.87" x2="230.20" y2="666.87" stroke="#222" stroke-width="0.8"/>
<line x1="228.50" y1="689.37" x2="228.50" y2="711.17" stroke="#222" stroke-width="0.8"/>
<line x1="226.80" y1="711.17" x2="230.20" y2="711.17" stroke="#222" stroke-width="0.8"/>
<line x1="237.40" y1="731.40" x2="237.40" y2="725.20" stroke="#222" stroke-width="0.8"/>
<line x1="235.70" y1="725.20" x2="239.10" y2="725.20" stroke="#222" stroke-width="0.8"/>
<line x1="237.40" y1="731.40" x2="237.40" y2="737.04" stroke="#222" stroke-width="0.8"/>
<line x1="235.70" y1="737.04" x2="239.10" y2="737.04" stroke="#222" stroke-width="0.8"/>
<rect x="166.40" y="746.84" width="7.40" height="1.96" fill="#0a0a0a" stroke="#1a1a1a" stroke-width="0.7"/>
<rect x="176.20" y="746.06" width="6.60" height="2.74" fill="#3279e6" stroke="#1a1a1a" stroke-width="0.7"/>
<rect x="185.00" y="746.06" width="6.90" height="2.74" fill="#a9cdf5" stroke="#1a1a1a" stroke-width="0.7"/>
<rect x="215.70" y="742.21" width="7.10" height="6.59" fill="#0a0a0a" stroke="#1a1a1a" stroke-width="0.7"/>
<rect x="225.20" y="689.37" width="6.60" height="59.43" fill="#3279e6" stroke="#1a1a1a" stroke-width="0.7"/>
<rect x="233.80" y="731.40" width="7.10" height="17.40" fill="#a9cdf5" stroke="#1a1a1a" stroke-width="0.7"/>
<circle cx="169.00" cy="746.84" r="1.2" fill="#111"/>
<circle cx="171.50" cy="746.68" r="1.2" fill="#111"/>
<circle cx="178.50" cy="746.06" r="1.2" fill="#111"/>
<circle cx="181.00" cy="745.82" r="1.2" fill="#111"/>
<circle cx="187.50" cy="746.06" r="1.2" fill="#111"/>
<circle cx="189.80" cy="745.66" r="1.2" fill="#111"/>
<circle cx="228.50" cy="647.59" r="1.2" fill="#111"/>
<circle cx="228.50" cy="699.49" r="1.2" fill="#111"/>
<circle cx="228.50" cy="721.05" r="1.2" fill="#111"/>
<circle cx="237.40" cy="721.05" r="1.2" fill="#111"/>
<circle cx="237.40" cy="730.61" r="1.2" fill="#111"/>
<circle cx="237.40" cy="740.80" r="1.2" fill="#111"/>
<line x1="159.50" y1="749.40" x2="159.50" y2="630.60" stroke="#2a2a2a" stroke-width="1.3"/>
<line x1="156.20" y1="748.80" x2="159.50" y2="748.80" stroke="#2a2a2a" stroke-width="0.9"/>
<text x="155.10" y="750.68" font-size="5.7" font-weight="bold" fill="#000" text-anchor="end">0</text>
<line x1="156.20" y1="709.60" x2="159.50" y2="709.60" stroke="#2a2a2a" stroke-width="0.9"/>
<text x="155.10" y="711.48" font-size="5.7" font-weight="bold" fill="#000" text-anchor="end">500</text>
<line x1="156.20" y1="670.40" x2="159.50" y2="670.40" stroke="#2a2a2a" stroke-width="0.9"/>
<text x="155.10" y="672.28" font-size="5.7" font-weight="bold" fill="#000" text-anchor="end">1000</text>
<line x1="156.20" y1="631.20" x2="159.50" y2="631.20" stroke="#2a2a2a" stroke-width="0.9"/>
<text x="155.10" y="633.08" font-size="5.7" font-weight="bold" fill="#000" text-anchor="end">1500</text>
<line x1="158.90" y1="748.80" x2="248.60" y2="748.80" stroke="#2a2a2a" stroke-width="1.3"/>
<line x1="179.15" y1="748.80" x2="179.15" y2="752.10" stroke="#2a2a2a" stroke-width="0.9"/>
<line x1="228.30" y1="748.80" x2="228.30" y2="752.10" stroke="#2a2a2a" stroke-width="0.9"/>
<path d="M218.80 736.80V641.30H237.50V646.10" fill="none" stroke="#666" stroke-width="0.7"/>
<text x="228.15" y="638.60" font-size="6.4" fill="#444" text-anchor="middle">ns</text>
<path d="M228.40 662.00V657.40H237.50V725.70" fill="none" stroke="#666" stroke-width="0.7"/>
<circle cx="232.95" cy="654.40" r="1.3" fill="#000"/>
<text x="198.60" y="624.20" font-size="8.0" font-weight="bold" fill="#000" text-anchor="middle">TNF-α</text>
<text x="137.90" y="690.00" font-size="6.2" font-weight="bold" text-anchor="middle" textLength="37.50" lengthAdjust="spacingAndGlyphs" transform="rotate(-90 137.90 690.00)">TNF-α pg/ml</text>
<text x="181.75" y="758.10" font-size="6.0" text-anchor="end" textLength="28.30" lengthAdjust="spacingAndGlyphs" transform="rotate(-45 181.75 758.10)">Uncoated</text>
<text x="230.90" y="758.10" font-size="6.0" text-anchor="end" textLength="33.40" lengthAdjust="spacingAndGlyphs" transform="rotate(-45 230.90 758.10)">CS1dbBITE</text>
<line x1="361.50" y1="671.38" x2="361.50" y2="661.70" stroke="#222" stroke-width="0.8"/>
<line x1="359.80" y1="661.70" x2="363.20" y2="661.70" stroke="#222" stroke-width="0.8"/>
<line x1="361.50" y1="671.38" x2="361.50" y2="681.35" stroke="#222" stroke-width="0.8"/>
<line x1="359.80" y1="681.35" x2="363.20" y2="681.35" stroke="#222" stroke-width="0.8"/>
<line x1="370.50" y1="737.07" x2="370.50" y2="735.31" stroke="#222" stroke-width="0.8"/>
<line x1="368.80" y1="735.31" x2="372.20" y2="735.31" stroke="#222" stroke-width="0.8"/>
<line x1="370.50" y1="737.07" x2="370.50" y2="738.54" stroke="#222" stroke-width="0.8"/>
<line x1="368.80" y1="738.54" x2="372.20" y2="738.54" stroke="#222" stroke-width="0.8"/>
<rect x="300.10" y="747.63" width="6.70" height="1.17" fill="#0a0a0a" stroke="#1a1a1a" stroke-width="0.7"/>
<rect x="309.30" y="745.57" width="6.60" height="3.23" fill="#3279e6" stroke="#1a1a1a" stroke-width="0.7"/>
<rect x="318.30" y="745.87" width="6.40" height="2.93" fill="#a9cdf5" stroke="#1a1a1a" stroke-width="0.7"/>
<rect x="349.10" y="747.92" width="6.90" height="0.88" fill="#0a0a0a" stroke="#1a1a1a" stroke-width="0.7"/>
<rect x="358.20" y="671.38" width="6.50" height="77.42" fill="#3279e6" stroke="#1a1a1a" stroke-width="0.7"/>
<rect x="367.20" y="737.07" width="6.50" height="11.73" fill="#a9cdf5" stroke="#1a1a1a" stroke-width="0.7"/>
<circle cx="312.00" cy="745.43" r="1.2" fill="#111"/>
<circle cx="314.20" cy="744.84" r="1.2" fill="#111"/>
<circle cx="321.30" cy="745.57" r="1.2" fill="#111"/>
<circle cx="323.30" cy="745.05" r="1.2" fill="#111"/>
<circle cx="361.50" cy="661.70" r="1.2" fill="#111"/>
<circle cx="361.50" cy="681.35" r="1.2" fill="#111"/>
<circle cx="370.50" cy="735.31" r="1.2" fill="#111"/>
<circle cx="370.50" cy="738.68" r="1.2" fill="#111"/>
<line x1="292.30" y1="749.40" x2="292.30" y2="630.90" stroke="#2a2a2a" stroke-width="1.3"/>
<line x1="289.00" y1="748.80" x2="292.30" y2="748.80" stroke="#2a2a2a" stroke-width="0.9"/>
<text x="287.90" y="750.68" font-size="5.7" font-weight="bold" fill="#000" text-anchor="end">0</text>
<line x1="289.00" y1="719.47" x2="292.30" y2="719.47" stroke="#2a2a2a" stroke-width="0.9"/>
<text x="287.90" y="721.36" font-size="5.7" font-weight="bold" fill="#000" text-anchor="end">1000</text>
<line x1="289.00" y1="690.15" x2="292.30" y2="690.15" stroke="#2a2a2a" stroke-width="0.9"/>
<text x="287.90" y="692.03" font-size="5.7" font-weight="bold" fill="#000" text-anchor="end">2000</text>
<line x1="289.00" y1="660.83" x2="292.30" y2="660.83" stroke="#2a2a2a" stroke-width="0.9"/>
<text x="287.90" y="662.71" font-size="5.7" font-weight="bold" fill="#000" text-anchor="end">3000</text>
<line x1="289.00" y1="631.50" x2="292.30" y2="631.50" stroke="#2a2a2a" stroke-width="0.9"/>
<text x="287.90" y="633.38" font-size="5.7" font-weight="bold" fill="#000" text-anchor="end">4000</text>
<line x1="291.70" y1="748.80" x2="381.60" y2="748.80" stroke="#2a2a2a" stroke-width="1.3"/>
<line x1="312.40" y1="748.80" x2="312.40" y2="752.10" stroke="#2a2a2a" stroke-width="0.9"/>
<line x1="361.40" y1="748.80" x2="361.40" y2="752.10" stroke="#2a2a2a" stroke-width="0.9"/>
<path d="M352.10 747.00V636.30H370.80V640.60" fill="none" stroke="#666" stroke-width="0.7"/>
<text x="361.45" y="632.40" font-size="6.4" fill="#444" text-anchor="middle">ns</text>
<path d="M361.30 655.60V651.70H370.80V734.40" fill="none" stroke="#666" stroke-width="0.7"/>
<circle cx="360.35" cy="648.20" r="1.3" fill="#000"/>
<circle cx="364.15" cy="648.20" r="1.3" fill="#000"/>
<circle cx="367.95" cy="648.20" r="1.3" fill="#000"/>
<circle cx="371.75" cy="648.20" r="1.3" fill="#000"/>
<text x="332.30" y="624.20" font-size="8.0" font-weight="bold" fill="#000" text-anchor="middle">IL-2</text>
<text x="271.00" y="690.20" font-size="6.2" font-weight="bold" text-anchor="middle" textLength="29.90" lengthAdjust="spacingAndGlyphs" transform="rotate(-90 271.00 690.20)">IL-2 pg/ml</text>
<text x="315.00" y="758.10" font-size="6.0" text-anchor="end" textLength="28.30" lengthAdjust="spacingAndGlyphs" transform="rotate(-45 315.00 758.10)">Uncoated</text>
<text x="364.00" y="758.10" font-size="6.0" text-anchor="end" textLength="33.40" lengthAdjust="spacingAndGlyphs" transform="rotate(-45 364.00 758.10)">CS1dbBITE</text>
<line x1="486.90" y1="659.87" x2="486.90" y2="652.36" stroke="#222" stroke-width="0.8"/>
<line x1="485.20" y1="652.36" x2="488.60" y2="652.36" stroke="#222" stroke-width="0.8"/>
<line x1="486.90" y1="659.87" x2="486.90" y2="667.39" stroke="#222" stroke-width="0.8"/>
<line x1="485.20" y1="667.39" x2="488.60" y2="667.39" stroke="#222" stroke-width="0.8"/>
<line x1="495.30" y1="701.04" x2="495.30" y2="685.65" stroke="#222" stroke-width="0.8"/>
<line x1="493.60" y1="685.65" x2="497.00" y2="685.65" stroke="#222" stroke-width="0.8"/>
<line x1="495.30" y1="701.04" x2="495.30" y2="716.80" stroke="#222" stroke-width="0.8"/>
<line x1="493.60" y1="716.80" x2="497.00" y2="716.80" stroke="#222" stroke-width="0.8"/>
<rect x="431.10" y="747.58" width="6.30" height="0.72" fill="#0a0a0a" stroke="#1a1a1a" stroke-width="0.7"/>
<rect x="439.40" y="743.65" width="6.20" height="4.65" fill="#3279e6" stroke="#1a1a1a" stroke-width="0.7"/>
<rect x="447.40" y="744.36" width="6.50" height="3.94" fill="#a9cdf5" stroke="#1a1a1a" stroke-width="0.7"/>
<rect x="475.20" y="747.23" width="6.60" height="1.07" fill="#0a0a0a" stroke="#1a1a1a" stroke-width="0.7"/>
<rect x="483.90" y="659.87" width="6.00" height="88.43" fill="#3279e6" stroke="#1a1a1a" stroke-width="0.7"/>
<rect x="492.30" y="701.04" width="6.00" height="47.26" fill="#a9cdf5" stroke="#1a1a1a" stroke-width="0.7"/>
<circle cx="442.00" cy="743.29" r="1.2" fill="#111"/>
<circle cx="444.30" cy="742.64" r="1.2" fill="#111"/>
<circle cx="450.50" cy="744.08" r="1.2" fill="#111"/>
<circle cx="452.80" cy="743.93" r="1.2" fill="#111"/>
<circle cx="486.90" cy="652.36" r="1.2" fill="#111"/>
<circle cx="486.90" cy="667.39" r="1.2" fill="#111"/>
<circle cx="495.30" cy="685.65" r="1.2" fill="#111"/>
<circle cx="495.30" cy="716.80" r="1.2" fill="#111"/>
<line x1="424.20" y1="748.90" x2="424.20" y2="640.30" stroke="#2a2a2a" stroke-width="1.3"/>
<line x1="420.90" y1="748.30" x2="424.20" y2="748.30" stroke="#2a2a2a" stroke-width="0.9"/>
<text x="419.80" y="750.18" font-size="5.7" font-weight="bold" fill="#000" text-anchor="end">0</text>
<line x1="420.90" y1="712.50" x2="424.20" y2="712.50" stroke="#2a2a2a" stroke-width="0.9"/>
<text x="419.80" y="714.38" font-size="5.7" font-weight="bold" fill="#000" text-anchor="end">1000</text>
<line x1="420.90" y1="676.70" x2="424.20" y2="676.70" stroke="#2a2a2a" stroke-width="0.9"/>
<text x="419.80" y="678.58" font-size="5.7" font-weight="bold" fill="#000" text-anchor="end">2000</text>
<line x1="420.90" y1="640.90" x2="424.20" y2="640.90" stroke="#2a2a2a" stroke-width="0.9"/>
<text x="419.80" y="642.78" font-size="5.7" font-weight="bold" fill="#000" text-anchor="end">3000</text>
<line x1="423.60" y1="748.30" x2="505.30" y2="748.30" stroke="#2a2a2a" stroke-width="1.3"/>
<line x1="442.50" y1="748.30" x2="442.50" y2="751.60" stroke="#2a2a2a" stroke-width="0.9"/>
<line x1="486.75" y1="748.30" x2="486.75" y2="751.60" stroke="#2a2a2a" stroke-width="0.9"/>
<path d="M478.00 746.00V628.90H495.50V633.20" fill="none" stroke="#666" stroke-width="0.7"/>
<circle cx="484.85" cy="625.60" r="1.3" fill="#000"/>
<circle cx="488.65" cy="625.60" r="1.3" fill="#000"/>
<path d="M486.40 647.50V643.80H495.50V684.70" fill="none" stroke="#666" stroke-width="0.7"/>
<circle cx="489.05" cy="640.50" r="1.3" fill="#000"/>
<circle cx="492.85" cy="640.50" r="1.3" fill="#000"/>
<text x="455.90" y="624.20" font-size="8.0" font-weight="bold" fill="#000" text-anchor="middle">GM-CSF</text>
<text x="404.50" y="694.50" font-size="6.2" font-weight="bold" text-anchor="middle" textLength="40.70" lengthAdjust="spacingAndGlyphs" transform="rotate(-90 404.50 694.50)">GM-CSF pg/ml</text>
<text x="445.10" y="757.60" font-size="6.0" text-anchor="end" textLength="28.30" lengthAdjust="spacingAndGlyphs" transform="rotate(-45 445.10 757.60)">Uncoated</text>
<text x="489.35" y="757.60" font-size="6.0" text-anchor="end" textLength="33.40" lengthAdjust="spacingAndGlyphs" transform="rotate(-45 489.35 757.60)">CS1dbBITE</text>
<line x1="611.00" y1="656.82" x2="611.00" y2="651.50" stroke="#222" stroke-width="0.8"/>
<line x1="609.30" y1="651.50" x2="612.70" y2="651.50" stroke="#222" stroke-width="0.8"/>
<line x1="619.50" y1="705.98" x2="619.50" y2="703.32" stroke="#222" stroke-width="0.8"/>
<line x1="617.80" y1="703.32" x2="621.20" y2="703.32" stroke="#222" stroke-width="0.8"/>
<rect x="555.90" y="725.25" width="5.90" height="23.25" fill="#0a0a0a" stroke="#1a1a1a" stroke-width="0.7"/>
<rect x="564.10" y="723.92" width="5.90" height="24.58" fill="#3279e6" stroke="#1a1a1a" stroke-width="0.7"/>
<rect x="572.30" y="724.58" width="5.80" height="23.92" fill="#a9cdf5" stroke="#1a1a1a" stroke-width="0.7"/>
<rect x="600.00" y="720.60" width="6.00" height="27.90" fill="#0a0a0a" stroke="#1a1a1a" stroke-width="0.7"/>
<rect x="607.80" y="656.82" width="6.40" height="91.68" fill="#3279e6" stroke="#1a1a1a" stroke-width="0.7"/>
<rect x="616.10" y="705.98" width="6.80" height="42.52" fill="#a9cdf5" stroke="#1a1a1a" stroke-width="0.7"/>
<circle cx="558.00" cy="725.65" r="1.2" fill="#111"/>
<circle cx="560.50" cy="725.11" r="1.2" fill="#111"/>
<circle cx="566.50" cy="723.79" r="1.2" fill="#111"/>
<circle cx="568.80" cy="722.99" r="1.2" fill="#111"/>
<circle cx="574.50" cy="724.85" r="1.2" fill="#111"/>
<circle cx="576.80" cy="723.92" r="1.2" fill="#111"/>
<circle cx="602.80" cy="720.60" r="1.2" fill="#111"/>
<circle cx="605.00" cy="719.93" r="1.2" fill="#111"/>
<circle cx="611.00" cy="651.50" r="1.2" fill="#111"/>
<circle cx="611.00" cy="661.47" r="1.2" fill="#111"/>
<circle cx="619.50" cy="704.25" r="1.2" fill="#111"/>
<circle cx="619.50" cy="707.57" r="1.2" fill="#111"/>
<line x1="549.20" y1="749.10" x2="549.20" y2="641.60" stroke="#2a2a2a" stroke-width="1.3"/>
<line x1="545.90" y1="748.50" x2="549.20" y2="748.50" stroke="#2a2a2a" stroke-width="0.9"/>
<text x="544.80" y="750.38" font-size="5.7" font-weight="bold" fill="#000" text-anchor="end">0</text>
<line x1="545.90" y1="721.92" x2="549.20" y2="721.92" stroke="#2a2a2a" stroke-width="0.9"/>
<text x="544.80" y="723.81" font-size="5.7" font-weight="bold" fill="#000" text-anchor="end">200</text>
<line x1="545.90" y1="695.35" x2="549.20" y2="695.35" stroke="#2a2a2a" stroke-width="0.9"/>
<text x="544.80" y="697.23" font-size="5.7" font-weight="bold" fill="#000" text-anchor="end">400</text>
<line x1="545.90" y1="668.78" x2="549.20" y2="668.78" stroke="#2a2a2a" stroke-width="0.9"/>
<text x="544.80" y="670.66" font-size="5.7" font-weight="bold" fill="#000" text-anchor="end">600</text>
<line x1="545.90" y1="642.20" x2="549.20" y2="642.20" stroke="#2a2a2a" stroke-width="0.9"/>
<text x="544.80" y="644.08" font-size="5.7" font-weight="bold" fill="#000" text-anchor="end">800</text>
<line x1="548.60" y1="748.50" x2="629.10" y2="748.50" stroke="#2a2a2a" stroke-width="1.3"/>
<line x1="567.00" y1="748.50" x2="567.00" y2="751.80" stroke="#2a2a2a" stroke-width="0.9"/>
<line x1="611.45" y1="748.50" x2="611.45" y2="751.80" stroke="#2a2a2a" stroke-width="0.9"/>
<path d="M602.40 717.00V629.10H619.20V632.50" fill="none" stroke="#666" stroke-width="0.7"/>
<circle cx="608.90" cy="625.80" r="1.3" fill="#000"/>
<circle cx="612.70" cy="625.80" r="1.3" fill="#000"/>
<path d="M610.50 647.50V643.30H619.20V703.20" fill="none" stroke="#666" stroke-width="0.7"/>
<circle cx="609.15" cy="640.20" r="1.3" fill="#000"/>
<circle cx="612.95" cy="640.20" r="1.3" fill="#000"/>
<circle cx="616.75" cy="640.20" r="1.3" fill="#000"/>
<circle cx="620.55" cy="640.20" r="1.3" fill="#000"/>
<text x="584.70" y="624.20" font-size="8.0" font-weight="bold" fill="#000" text-anchor="middle">IL-8</text>
<text x="533.00" y="695.50" font-size="6.2" font-weight="bold" text-anchor="middle" textLength="27.10" lengthAdjust="spacingAndGlyphs" transform="rotate(-90 533.00 695.50)">IL-8 pg/ml</text>
<text x="569.60" y="757.80" font-size="6.0" text-anchor="end" textLength="28.30" lengthAdjust="spacingAndGlyphs" transform="rotate(-45 569.60 757.80)">Uncoated</text>
<text x="614.05" y="757.80" font-size="6.0" text-anchor="end" textLength="33.40" lengthAdjust="spacingAndGlyphs" transform="rotate(-45 614.05 757.80)">CS1dbBITE</text>
<rect x="623.30" y="649.60" width="7.80" height="2.80" fill="#0a0a0a" stroke="#1a1a1a" stroke-width="0.5"/>
<text x="635.0" y="652.80" font-size="5.1" fill="#111">Media</text>
<rect x="623.30" y="655.10" width="7.80" height="2.80" fill="#3279e6" stroke="#1a1a1a" stroke-width="0.5"/>
<text x="635.0" y="658.30" font-size="5.1" fill="#111">MM.1S</text>
<rect x="623.30" y="659.80" width="7.80" height="2.80" fill="#a9cdf5" stroke="#1a1a1a" stroke-width="0.5"/>
<text x="635.0" y="663.00" font-size="5.1" fill="#111">MM.1S-CS1<tspan font-size="3.6" dy="-1.8">KO</tspan></text>
</svg>
</body></html>
